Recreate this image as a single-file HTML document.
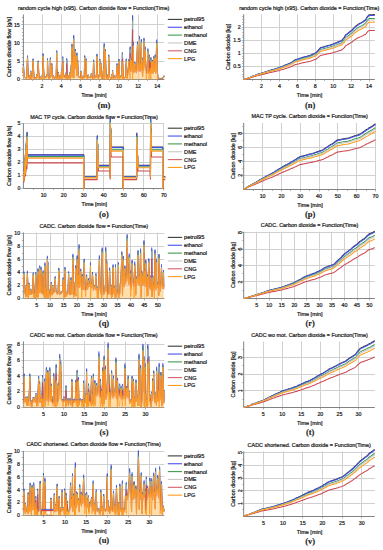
<!DOCTYPE html>
<html><head><meta charset="utf-8"><style>
html,body{margin:0;padding:0;background:#fff;width:383px;height:550px;overflow:hidden}
svg{display:block}
</style></head><body>
<svg width="383" height="550" viewBox="0 0 383 550"><path d="M42.50 14.50V79.50 M61.50 14.50V79.50 M80.50 14.50V79.50 M99.50 14.50V79.50 M118.50 14.50V79.50 M138.50 14.50V79.50 M157.50 14.50V79.50 M23.40 61.50H164.30 M23.40 42.50H164.30 M23.40 24.50H164.30" stroke="#d0d0d0" stroke-width="1" fill="none"/>
<path d="M32.50 79.50v1.5 M51.50 79.50v1.5 M70.50 79.50v1.5 M90.50 79.50v1.5 M109.50 79.50v1.5 M128.50 79.50v1.5 M147.50 79.50v1.5 M42.50 79.50v2 M61.50 79.50v2 M80.50 79.50v2 M99.50 79.50v2 M118.50 79.50v2 M138.50 79.50v2 M157.50 79.50v2 M23.40 75.50h-1.5 M23.40 72.50h-1.5 M23.40 68.50h-1.5 M23.40 64.50h-1.5 M23.40 57.50h-1.5 M23.40 53.50h-1.5 M23.40 50.50h-1.5 M23.40 46.50h-1.5 M23.40 39.50h-1.5 M23.40 35.50h-1.5 M23.40 32.50h-1.5 M23.40 28.50h-1.5 M23.40 21.50h-1.5 M23.40 17.50h-1.5 M23.40 79.50h-2 M23.40 61.50h-2 M23.40 42.50h-2 M23.40 24.50h-2" stroke="#828282" stroke-width="0.6" fill="none"/>
<path d="M23.40 14.50V79.50H164.30" stroke="#828282" stroke-width="1" fill="none"/>
<text x="42.10" y="88.20" font-size="5.3" text-anchor="middle" font-weight="normal" font-family='"Liberation Sans", sans-serif' fill="#1c1c1c" stroke="#1c1c1c" stroke-width="0.22" >2</text>
<text x="61.30" y="88.20" font-size="5.3" text-anchor="middle" font-weight="normal" font-family='"Liberation Sans", sans-serif' fill="#1c1c1c" stroke="#1c1c1c" stroke-width="0.22" >4</text>
<text x="80.50" y="88.20" font-size="5.3" text-anchor="middle" font-weight="normal" font-family='"Liberation Sans", sans-serif' fill="#1c1c1c" stroke="#1c1c1c" stroke-width="0.22" >6</text>
<text x="99.70" y="88.20" font-size="5.3" text-anchor="middle" font-weight="normal" font-family='"Liberation Sans", sans-serif' fill="#1c1c1c" stroke="#1c1c1c" stroke-width="0.22" >8</text>
<text x="118.90" y="88.20" font-size="5.3" text-anchor="middle" font-weight="normal" font-family='"Liberation Sans", sans-serif' fill="#1c1c1c" stroke="#1c1c1c" stroke-width="0.22" >10</text>
<text x="138.10" y="88.20" font-size="5.3" text-anchor="middle" font-weight="normal" font-family='"Liberation Sans", sans-serif' fill="#1c1c1c" stroke="#1c1c1c" stroke-width="0.22" >12</text>
<text x="157.30" y="88.20" font-size="5.3" text-anchor="middle" font-weight="normal" font-family='"Liberation Sans", sans-serif' fill="#1c1c1c" stroke="#1c1c1c" stroke-width="0.22" >14</text>
<text x="19.80" y="81.35" font-size="5.25" text-anchor="end" font-weight="normal" font-family='"Liberation Sans", sans-serif' fill="#1c1c1c" stroke="#1c1c1c" stroke-width="0.22" >0</text>
<text x="19.80" y="63.09" font-size="5.25" text-anchor="end" font-weight="normal" font-family='"Liberation Sans", sans-serif' fill="#1c1c1c" stroke="#1c1c1c" stroke-width="0.22" >5</text>
<text x="19.80" y="44.82" font-size="5.25" text-anchor="end" font-weight="normal" font-family='"Liberation Sans", sans-serif' fill="#1c1c1c" stroke="#1c1c1c" stroke-width="0.22" >10</text>
<text x="19.80" y="26.55" font-size="5.25" text-anchor="end" font-weight="normal" font-family='"Liberation Sans", sans-serif' fill="#1c1c1c" stroke="#1c1c1c" stroke-width="0.22" >15</text>
<text x="93.60" y="9.70" font-size="5.45" text-anchor="middle" font-weight="normal" font-family='"Liberation Sans", sans-serif' fill="#1c1c1c" stroke="#1c1c1c" stroke-width="0.22" >random cycle high (x95). Carbon dioxide flow = Function(Time)</text>
<text x="93.90" y="97.40" font-size="5.5" text-anchor="middle" font-weight="normal" font-family='"Liberation Sans", sans-serif' fill="#1c1c1c" stroke="#1c1c1c" stroke-width="0.22" >Time [min]</text>
<text x="0" y="0" font-size="5.5" text-anchor="middle" font-family='"Liberation Sans", sans-serif' fill="#1c1c1c" stroke="#1c1c1c" stroke-width="0.22" transform="translate(11.40,47.00) rotate(-90)">Carbon dioxide flow [g/s]</text>
<text x="104.00" y="107.50" font-size="8.5" text-anchor="middle" font-weight="bold" font-family='"Liberation Serif", serif' fill="#1c1c1c" stroke="#1c1c1c" stroke-width="0.12" >(m)</text>
<path d="M167.8 19.40H182.1" stroke="#3a3a3a" stroke-width="1.1"/>
<text x="184.10" y="21.40" font-size="5.6" text-anchor="start" font-weight="normal" font-family='"Liberation Sans", sans-serif' fill="#1c1c1c" stroke="#1c1c1c" stroke-width="0.22" >petrol95</text>
<path d="M167.8 27.25H182.1" stroke="#4450f0" stroke-width="1.1"/>
<text x="184.10" y="29.25" font-size="5.6" text-anchor="start" font-weight="normal" font-family='"Liberation Sans", sans-serif' fill="#1c1c1c" stroke="#1c1c1c" stroke-width="0.22" >ethanol</text>
<path d="M167.8 35.10H182.1" stroke="#3f9a50" stroke-width="1.1"/>
<text x="184.10" y="37.10" font-size="5.6" text-anchor="start" font-weight="normal" font-family='"Liberation Sans", sans-serif' fill="#1c1c1c" stroke="#1c1c1c" stroke-width="0.22" >methanol</text>
<path d="M167.8 42.95H182.1" stroke="#c8c8c8" stroke-width="1.1"/>
<text x="184.10" y="44.95" font-size="5.6" text-anchor="start" font-weight="normal" font-family='"Liberation Sans", sans-serif' fill="#1c1c1c" stroke="#1c1c1c" stroke-width="0.22" >DME</text>
<path d="M167.8 50.80H182.1" stroke="#d4606a" stroke-width="1.1"/>
<text x="184.10" y="52.80" font-size="5.6" text-anchor="start" font-weight="normal" font-family='"Liberation Sans", sans-serif' fill="#1c1c1c" stroke="#1c1c1c" stroke-width="0.22" >CNG</text>
<path d="M167.8 58.65H182.1" stroke="#ff9c1e" stroke-width="1.1"/>
<text x="184.10" y="60.65" font-size="5.6" text-anchor="start" font-weight="normal" font-family='"Liberation Sans", sans-serif' fill="#1c1c1c" stroke="#1c1c1c" stroke-width="0.22" >LPG</text>
<path d="M261.50 14.30V79.50 M279.50 14.30V79.50 M297.50 14.30V79.50 M315.50 14.30V79.50 M333.50 14.30V79.50 M351.50 14.30V79.50 M369.50 14.30V79.50 M243.70 66.50H374.80 M243.70 53.50H374.80 M243.70 40.50H374.80 M243.70 27.50H374.80" stroke="#d0d0d0" stroke-width="1" fill="none"/>
<path d="M252.50 79.50v1.5 M270.50 79.50v1.5 M288.50 79.50v1.5 M306.50 79.50v1.5 M324.50 79.50v1.5 M342.50 79.50v1.5 M360.50 79.50v1.5 M261.50 79.50v2 M279.50 79.50v2 M297.50 79.50v2 M315.50 79.50v2 M333.50 79.50v2 M351.50 79.50v2 M369.50 79.50v2 M243.70 76.50h-1.5 M243.70 74.50h-1.5 M243.70 71.50h-1.5 M243.70 69.50h-1.5 M243.70 63.50h-1.5 M243.70 61.50h-1.5 M243.70 58.50h-1.5 M243.70 56.50h-1.5 M243.70 50.50h-1.5 M243.70 48.50h-1.5 M243.70 45.50h-1.5 M243.70 42.50h-1.5 M243.70 37.50h-1.5 M243.70 35.50h-1.5 M243.70 32.50h-1.5 M243.70 29.50h-1.5 M243.70 24.50h-1.5 M243.70 22.50h-1.5 M243.70 19.50h-1.5 M243.70 16.50h-1.5 M243.70 66.50h-2 M243.70 53.50h-2 M243.70 40.50h-2 M243.70 27.50h-2" stroke="#828282" stroke-width="0.6" fill="none"/>
<path d="M243.70 14.30V79.50H374.80" stroke="#828282" stroke-width="1" fill="none"/>
<text x="261.60" y="88.20" font-size="5.3" text-anchor="middle" font-weight="normal" font-family='"Liberation Sans", sans-serif' fill="#1c1c1c" stroke="#1c1c1c" stroke-width="0.22" >2</text>
<text x="279.50" y="88.20" font-size="5.3" text-anchor="middle" font-weight="normal" font-family='"Liberation Sans", sans-serif' fill="#1c1c1c" stroke="#1c1c1c" stroke-width="0.22" >4</text>
<text x="297.40" y="88.20" font-size="5.3" text-anchor="middle" font-weight="normal" font-family='"Liberation Sans", sans-serif' fill="#1c1c1c" stroke="#1c1c1c" stroke-width="0.22" >6</text>
<text x="315.30" y="88.20" font-size="5.3" text-anchor="middle" font-weight="normal" font-family='"Liberation Sans", sans-serif' fill="#1c1c1c" stroke="#1c1c1c" stroke-width="0.22" >8</text>
<text x="333.20" y="88.20" font-size="5.3" text-anchor="middle" font-weight="normal" font-family='"Liberation Sans", sans-serif' fill="#1c1c1c" stroke="#1c1c1c" stroke-width="0.22" >10</text>
<text x="351.10" y="88.20" font-size="5.3" text-anchor="middle" font-weight="normal" font-family='"Liberation Sans", sans-serif' fill="#1c1c1c" stroke="#1c1c1c" stroke-width="0.22" >12</text>
<text x="369.00" y="88.20" font-size="5.3" text-anchor="middle" font-weight="normal" font-family='"Liberation Sans", sans-serif' fill="#1c1c1c" stroke="#1c1c1c" stroke-width="0.22" >14</text>
<text x="240.60" y="68.30" font-size="5.25" text-anchor="end" font-weight="normal" font-family='"Liberation Sans", sans-serif' fill="#1c1c1c" stroke="#1c1c1c" stroke-width="0.22" >0.5</text>
<text x="240.60" y="55.25" font-size="5.25" text-anchor="end" font-weight="normal" font-family='"Liberation Sans", sans-serif' fill="#1c1c1c" stroke="#1c1c1c" stroke-width="0.22" >1</text>
<text x="240.60" y="42.20" font-size="5.25" text-anchor="end" font-weight="normal" font-family='"Liberation Sans", sans-serif' fill="#1c1c1c" stroke="#1c1c1c" stroke-width="0.22" >1.5</text>
<text x="240.60" y="29.15" font-size="5.25" text-anchor="end" font-weight="normal" font-family='"Liberation Sans", sans-serif' fill="#1c1c1c" stroke="#1c1c1c" stroke-width="0.22" >2</text>
<text x="309.25" y="9.50" font-size="5.45" text-anchor="middle" font-weight="normal" font-family='"Liberation Sans", sans-serif' fill="#1c1c1c" stroke="#1c1c1c" stroke-width="0.22" >random cycle high (x95). Carbon dioxide = Function(Time)</text>
<text x="309.55" y="97.40" font-size="5.5" text-anchor="middle" font-weight="normal" font-family='"Liberation Sans", sans-serif' fill="#1c1c1c" stroke="#1c1c1c" stroke-width="0.22" >Time [min]</text>
<text x="0" y="0" font-size="5.35" text-anchor="middle" font-family='"Liberation Sans", sans-serif' fill="#1c1c1c" stroke="#1c1c1c" stroke-width="0.22" transform="translate(229.70,46.90) rotate(-90)">Carbon dioxide [kg]</text>
<text x="310.20" y="107.50" font-size="8.5" text-anchor="middle" font-weight="bold" font-family='"Liberation Serif", serif' fill="#1c1c1c" stroke="#1c1c1c" stroke-width="0.12" >(n)</text>
<path d="M43.50 123.30V188.50 M63.50 123.30V188.50 M83.50 123.30V188.50 M103.50 123.30V188.50 M123.50 123.30V188.50 M143.50 123.30V188.50 M163.50 123.30V188.50 M23.40 175.50H164.30 M23.40 162.50H164.30 M23.40 149.50H164.30 M23.40 136.50H164.30 M23.40 123.50H164.30" stroke="#d0d0d0" stroke-width="1" fill="none"/>
<path d="M33.50 188.50v1.5 M53.50 188.50v1.5 M73.50 188.50v1.5 M93.50 188.50v1.5 M113.50 188.50v1.5 M133.50 188.50v1.5 M153.50 188.50v1.5 M43.50 188.50v2 M63.50 188.50v2 M83.50 188.50v2 M103.50 188.50v2 M123.50 188.50v2 M143.50 188.50v2 M163.50 188.50v2 M23.40 188.50h-2 M23.40 175.50h-2 M23.40 162.50h-2 M23.40 149.50h-2 M23.40 136.50h-2 M23.40 123.50h-2" stroke="#828282" stroke-width="0.6" fill="none"/>
<path d="M23.40 123.30V188.50H164.30" stroke="#828282" stroke-width="1" fill="none"/>
<text x="43.64" y="197.20" font-size="5.3" text-anchor="middle" font-weight="normal" font-family='"Liberation Sans", sans-serif' fill="#1c1c1c" stroke="#1c1c1c" stroke-width="0.22" >10</text>
<text x="63.68" y="197.20" font-size="5.3" text-anchor="middle" font-weight="normal" font-family='"Liberation Sans", sans-serif' fill="#1c1c1c" stroke="#1c1c1c" stroke-width="0.22" >20</text>
<text x="83.72" y="197.20" font-size="5.3" text-anchor="middle" font-weight="normal" font-family='"Liberation Sans", sans-serif' fill="#1c1c1c" stroke="#1c1c1c" stroke-width="0.22" >30</text>
<text x="103.76" y="197.20" font-size="5.3" text-anchor="middle" font-weight="normal" font-family='"Liberation Sans", sans-serif' fill="#1c1c1c" stroke="#1c1c1c" stroke-width="0.22" >40</text>
<text x="123.80" y="197.20" font-size="5.3" text-anchor="middle" font-weight="normal" font-family='"Liberation Sans", sans-serif' fill="#1c1c1c" stroke="#1c1c1c" stroke-width="0.22" >50</text>
<text x="143.84" y="197.20" font-size="5.3" text-anchor="middle" font-weight="normal" font-family='"Liberation Sans", sans-serif' fill="#1c1c1c" stroke="#1c1c1c" stroke-width="0.22" >60</text>
<text x="163.88" y="197.20" font-size="5.3" text-anchor="middle" font-weight="normal" font-family='"Liberation Sans", sans-serif' fill="#1c1c1c" stroke="#1c1c1c" stroke-width="0.22" >70</text>
<text x="20.50" y="190.35" font-size="5.25" text-anchor="end" font-weight="normal" font-family='"Liberation Sans", sans-serif' fill="#1c1c1c" stroke="#1c1c1c" stroke-width="0.22" >0</text>
<text x="20.50" y="177.33" font-size="5.25" text-anchor="end" font-weight="normal" font-family='"Liberation Sans", sans-serif' fill="#1c1c1c" stroke="#1c1c1c" stroke-width="0.22" >1</text>
<text x="20.50" y="164.31" font-size="5.25" text-anchor="end" font-weight="normal" font-family='"Liberation Sans", sans-serif' fill="#1c1c1c" stroke="#1c1c1c" stroke-width="0.22" >2</text>
<text x="20.50" y="151.29" font-size="5.25" text-anchor="end" font-weight="normal" font-family='"Liberation Sans", sans-serif' fill="#1c1c1c" stroke="#1c1c1c" stroke-width="0.22" >3</text>
<text x="20.50" y="138.27" font-size="5.25" text-anchor="end" font-weight="normal" font-family='"Liberation Sans", sans-serif' fill="#1c1c1c" stroke="#1c1c1c" stroke-width="0.22" >4</text>
<text x="20.50" y="125.25" font-size="5.25" text-anchor="end" font-weight="normal" font-family='"Liberation Sans", sans-serif' fill="#1c1c1c" stroke="#1c1c1c" stroke-width="0.22" >5</text>
<text x="93.95" y="118.50" font-size="5.45" text-anchor="middle" font-weight="normal" font-family='"Liberation Sans", sans-serif' fill="#1c1c1c" stroke="#1c1c1c" stroke-width="0.22" >MAC TP cycle. Carbon dioxide flow = Function(Time)</text>
<text x="94.25" y="206.40" font-size="5.5" text-anchor="middle" font-weight="normal" font-family='"Liberation Sans", sans-serif' fill="#1c1c1c" stroke="#1c1c1c" stroke-width="0.22" >Time [min]</text>
<text x="0" y="0" font-size="5.5" text-anchor="middle" font-family='"Liberation Sans", sans-serif' fill="#1c1c1c" stroke="#1c1c1c" stroke-width="0.22" transform="translate(11.40,155.90) rotate(-90)">Carbon dioxide flow [g/s]</text>
<text x="104.00" y="216.50" font-size="8.5" text-anchor="middle" font-weight="bold" font-family='"Liberation Serif", serif' fill="#1c1c1c" stroke="#1c1c1c" stroke-width="0.12" >(o)</text>
<path d="M167.8 128.20H182.1" stroke="#3a3a3a" stroke-width="1.1"/>
<text x="184.10" y="130.20" font-size="5.6" text-anchor="start" font-weight="normal" font-family='"Liberation Sans", sans-serif' fill="#1c1c1c" stroke="#1c1c1c" stroke-width="0.22" >petrol95</text>
<path d="M167.8 136.05H182.1" stroke="#4450f0" stroke-width="1.1"/>
<text x="184.10" y="138.05" font-size="5.6" text-anchor="start" font-weight="normal" font-family='"Liberation Sans", sans-serif' fill="#1c1c1c" stroke="#1c1c1c" stroke-width="0.22" >ethanol</text>
<path d="M167.8 143.90H182.1" stroke="#3f9a50" stroke-width="1.1"/>
<text x="184.10" y="145.90" font-size="5.6" text-anchor="start" font-weight="normal" font-family='"Liberation Sans", sans-serif' fill="#1c1c1c" stroke="#1c1c1c" stroke-width="0.22" >methanol</text>
<path d="M167.8 151.75H182.1" stroke="#c8c8c8" stroke-width="1.1"/>
<text x="184.10" y="153.75" font-size="5.6" text-anchor="start" font-weight="normal" font-family='"Liberation Sans", sans-serif' fill="#1c1c1c" stroke="#1c1c1c" stroke-width="0.22" >DME</text>
<path d="M167.8 159.60H182.1" stroke="#d4606a" stroke-width="1.1"/>
<text x="184.10" y="161.60" font-size="5.6" text-anchor="start" font-weight="normal" font-family='"Liberation Sans", sans-serif' fill="#1c1c1c" stroke="#1c1c1c" stroke-width="0.22" >CNG</text>
<path d="M167.8 167.45H182.1" stroke="#ff9c1e" stroke-width="1.1"/>
<text x="184.10" y="169.45" font-size="5.6" text-anchor="start" font-weight="normal" font-family='"Liberation Sans", sans-serif' fill="#1c1c1c" stroke="#1c1c1c" stroke-width="0.22" >LPG</text>
<path d="M262.50 122.90V189.50 M281.50 122.90V189.50 M300.50 122.90V189.50 M319.50 122.90V189.50 M337.50 122.90V189.50 M356.50 122.90V189.50 M375.50 122.90V189.50 M243.70 175.50H375.60 M243.70 161.50H375.60 M243.70 147.50H375.60 M243.70 133.50H375.60" stroke="#d0d0d0" stroke-width="1" fill="none"/>
<path d="M253.50 189.50v1.5 M272.50 189.50v1.5 M290.50 189.50v1.5 M309.50 189.50v1.5 M328.50 189.50v1.5 M347.50 189.50v1.5 M366.50 189.50v1.5 M262.50 189.50v2 M281.50 189.50v2 M300.50 189.50v2 M319.50 189.50v2 M337.50 189.50v2 M356.50 189.50v2 M375.50 189.50v2 M243.70 182.50h-1.5 M243.70 168.50h-1.5 M243.70 154.50h-1.5 M243.70 140.50h-1.5 M243.70 126.50h-1.5 M243.70 175.50h-2 M243.70 161.50h-2 M243.70 147.50h-2 M243.70 133.50h-2" stroke="#828282" stroke-width="0.6" fill="none"/>
<path d="M243.70 122.90V189.50H375.60" stroke="#828282" stroke-width="1" fill="none"/>
<text x="262.60" y="198.00" font-size="5.3" text-anchor="middle" font-weight="normal" font-family='"Liberation Sans", sans-serif' fill="#1c1c1c" stroke="#1c1c1c" stroke-width="0.22" >10</text>
<text x="281.40" y="198.00" font-size="5.3" text-anchor="middle" font-weight="normal" font-family='"Liberation Sans", sans-serif' fill="#1c1c1c" stroke="#1c1c1c" stroke-width="0.22" >20</text>
<text x="300.20" y="198.00" font-size="5.3" text-anchor="middle" font-weight="normal" font-family='"Liberation Sans", sans-serif' fill="#1c1c1c" stroke="#1c1c1c" stroke-width="0.22" >30</text>
<text x="319.00" y="198.00" font-size="5.3" text-anchor="middle" font-weight="normal" font-family='"Liberation Sans", sans-serif' fill="#1c1c1c" stroke="#1c1c1c" stroke-width="0.22" >40</text>
<text x="337.80" y="198.00" font-size="5.3" text-anchor="middle" font-weight="normal" font-family='"Liberation Sans", sans-serif' fill="#1c1c1c" stroke="#1c1c1c" stroke-width="0.22" >50</text>
<text x="356.60" y="198.00" font-size="5.3" text-anchor="middle" font-weight="normal" font-family='"Liberation Sans", sans-serif' fill="#1c1c1c" stroke="#1c1c1c" stroke-width="0.22" >60</text>
<text x="375.40" y="198.00" font-size="5.3" text-anchor="middle" font-weight="normal" font-family='"Liberation Sans", sans-serif' fill="#1c1c1c" stroke="#1c1c1c" stroke-width="0.22" >70</text>
<text x="0" y="0" font-size="5.15" text-anchor="middle" font-family='"Liberation Sans", sans-serif' fill="#1c1c1c" stroke="#1c1c1c" stroke-width="0.22" transform="translate(241.60,175.28) rotate(-90)">2</text>
<text x="0" y="0" font-size="5.15" text-anchor="middle" font-family='"Liberation Sans", sans-serif' fill="#1c1c1c" stroke="#1c1c1c" stroke-width="0.22" transform="translate(241.60,161.26) rotate(-90)">4</text>
<text x="0" y="0" font-size="5.15" text-anchor="middle" font-family='"Liberation Sans", sans-serif' fill="#1c1c1c" stroke="#1c1c1c" stroke-width="0.22" transform="translate(241.60,147.24) rotate(-90)">6</text>
<text x="0" y="0" font-size="5.15" text-anchor="middle" font-family='"Liberation Sans", sans-serif' fill="#1c1c1c" stroke="#1c1c1c" stroke-width="0.22" transform="translate(241.60,133.22) rotate(-90)">8</text>
<text x="309.70" y="118.10" font-size="5.45" text-anchor="middle" font-weight="normal" font-family='"Liberation Sans", sans-serif' fill="#1c1c1c" stroke="#1c1c1c" stroke-width="0.22" >MAC TP cycle. Carbon dioxide = Function(Time)</text>
<text x="310.00" y="207.20" font-size="5.5" text-anchor="middle" font-weight="normal" font-family='"Liberation Sans", sans-serif' fill="#1c1c1c" stroke="#1c1c1c" stroke-width="0.22" >Time [min]</text>
<text x="0" y="0" font-size="5.35" text-anchor="middle" font-family='"Liberation Sans", sans-serif' fill="#1c1c1c" stroke="#1c1c1c" stroke-width="0.22" transform="translate(235.00,156.10) rotate(-90)">Carbon dioxide [kg]</text>
<text x="310.20" y="217.30" font-size="8.5" text-anchor="middle" font-weight="bold" font-family='"Liberation Serif", serif' fill="#1c1c1c" stroke="#1c1c1c" stroke-width="0.12" >(p)</text>
<path d="M36.50 232.50V298.50 M50.50 232.50V298.50 M63.50 232.50V298.50 M77.50 232.50V298.50 M90.50 232.50V298.50 M103.50 232.50V298.50 M117.50 232.50V298.50 M130.50 232.50V298.50 M144.50 232.50V298.50 M157.50 232.50V298.50 M23.40 285.50H164.30 M23.40 272.50H164.30 M23.40 259.50H164.30 M23.40 246.50H164.30 M23.40 233.50H164.30" stroke="#d0d0d0" stroke-width="1" fill="none"/>
<path d="M36.50 298.50v2 M50.50 298.50v2 M63.50 298.50v2 M77.50 298.50v2 M90.50 298.50v2 M103.50 298.50v2 M117.50 298.50v2 M130.50 298.50v2 M144.50 298.50v2 M157.50 298.50v2 M23.40 291.50h-1.5 M23.40 278.50h-1.5 M23.40 266.50h-1.5 M23.40 253.50h-1.5 M23.40 240.50h-1.5 M23.40 298.50h-2 M23.40 285.50h-2 M23.40 272.50h-2 M23.40 259.50h-2 M23.40 246.50h-2 M23.40 233.50h-2" stroke="#828282" stroke-width="0.6" fill="none"/>
<path d="M23.40 232.50V298.50H164.30" stroke="#828282" stroke-width="1" fill="none"/>
<text x="36.66" y="307.10" font-size="5.3" text-anchor="middle" font-weight="normal" font-family='"Liberation Sans", sans-serif' fill="#1c1c1c" stroke="#1c1c1c" stroke-width="0.22" >5</text>
<text x="50.13" y="307.10" font-size="5.3" text-anchor="middle" font-weight="normal" font-family='"Liberation Sans", sans-serif' fill="#1c1c1c" stroke="#1c1c1c" stroke-width="0.22" >10</text>
<text x="63.59" y="307.10" font-size="5.3" text-anchor="middle" font-weight="normal" font-family='"Liberation Sans", sans-serif' fill="#1c1c1c" stroke="#1c1c1c" stroke-width="0.22" >15</text>
<text x="77.06" y="307.10" font-size="5.3" text-anchor="middle" font-weight="normal" font-family='"Liberation Sans", sans-serif' fill="#1c1c1c" stroke="#1c1c1c" stroke-width="0.22" >20</text>
<text x="90.53" y="307.10" font-size="5.3" text-anchor="middle" font-weight="normal" font-family='"Liberation Sans", sans-serif' fill="#1c1c1c" stroke="#1c1c1c" stroke-width="0.22" >25</text>
<text x="103.99" y="307.10" font-size="5.3" text-anchor="middle" font-weight="normal" font-family='"Liberation Sans", sans-serif' fill="#1c1c1c" stroke="#1c1c1c" stroke-width="0.22" >30</text>
<text x="117.45" y="307.10" font-size="5.3" text-anchor="middle" font-weight="normal" font-family='"Liberation Sans", sans-serif' fill="#1c1c1c" stroke="#1c1c1c" stroke-width="0.22" >35</text>
<text x="130.92" y="307.10" font-size="5.3" text-anchor="middle" font-weight="normal" font-family='"Liberation Sans", sans-serif' fill="#1c1c1c" stroke="#1c1c1c" stroke-width="0.22" >40</text>
<text x="144.38" y="307.10" font-size="5.3" text-anchor="middle" font-weight="normal" font-family='"Liberation Sans", sans-serif' fill="#1c1c1c" stroke="#1c1c1c" stroke-width="0.22" >45</text>
<text x="157.85" y="307.10" font-size="5.3" text-anchor="middle" font-weight="normal" font-family='"Liberation Sans", sans-serif' fill="#1c1c1c" stroke="#1c1c1c" stroke-width="0.22" >50</text>
<text x="20.10" y="300.25" font-size="5.25" text-anchor="end" font-weight="normal" font-family='"Liberation Sans", sans-serif' fill="#1c1c1c" stroke="#1c1c1c" stroke-width="0.22" >0</text>
<text x="20.10" y="287.29" font-size="5.25" text-anchor="end" font-weight="normal" font-family='"Liberation Sans", sans-serif' fill="#1c1c1c" stroke="#1c1c1c" stroke-width="0.22" >2</text>
<text x="20.10" y="274.33" font-size="5.25" text-anchor="end" font-weight="normal" font-family='"Liberation Sans", sans-serif' fill="#1c1c1c" stroke="#1c1c1c" stroke-width="0.22" >4</text>
<text x="20.10" y="261.37" font-size="5.25" text-anchor="end" font-weight="normal" font-family='"Liberation Sans", sans-serif' fill="#1c1c1c" stroke="#1c1c1c" stroke-width="0.22" >6</text>
<text x="20.10" y="248.41" font-size="5.25" text-anchor="end" font-weight="normal" font-family='"Liberation Sans", sans-serif' fill="#1c1c1c" stroke="#1c1c1c" stroke-width="0.22" >8</text>
<text x="20.10" y="235.45" font-size="5.25" text-anchor="end" font-weight="normal" font-family='"Liberation Sans", sans-serif' fill="#1c1c1c" stroke="#1c1c1c" stroke-width="0.22" >10</text>
<text x="93.75" y="227.70" font-size="5.45" text-anchor="middle" font-weight="normal" font-family='"Liberation Sans", sans-serif' fill="#1c1c1c" stroke="#1c1c1c" stroke-width="0.22" >CADC. Carbon dioxide flow = Function(Time)</text>
<text x="94.05" y="316.30" font-size="5.5" text-anchor="middle" font-weight="normal" font-family='"Liberation Sans", sans-serif' fill="#1c1c1c" stroke="#1c1c1c" stroke-width="0.22" >Time [min]</text>
<text x="0" y="0" font-size="5.5" text-anchor="middle" font-family='"Liberation Sans", sans-serif' fill="#1c1c1c" stroke="#1c1c1c" stroke-width="0.22" transform="translate(11.40,265.45) rotate(-90)">Carbon dioxide flow [g/s]</text>
<text x="104.00" y="326.40" font-size="8.5" text-anchor="middle" font-weight="bold" font-family='"Liberation Serif", serif' fill="#1c1c1c" stroke="#1c1c1c" stroke-width="0.12" >(q)</text>
<path d="M167.8 237.40H182.1" stroke="#3a3a3a" stroke-width="1.1"/>
<text x="184.10" y="239.40" font-size="5.6" text-anchor="start" font-weight="normal" font-family='"Liberation Sans", sans-serif' fill="#1c1c1c" stroke="#1c1c1c" stroke-width="0.22" >petrol95</text>
<path d="M167.8 245.25H182.1" stroke="#4450f0" stroke-width="1.1"/>
<text x="184.10" y="247.25" font-size="5.6" text-anchor="start" font-weight="normal" font-family='"Liberation Sans", sans-serif' fill="#1c1c1c" stroke="#1c1c1c" stroke-width="0.22" >ethanol</text>
<path d="M167.8 253.10H182.1" stroke="#3f9a50" stroke-width="1.1"/>
<text x="184.10" y="255.10" font-size="5.6" text-anchor="start" font-weight="normal" font-family='"Liberation Sans", sans-serif' fill="#1c1c1c" stroke="#1c1c1c" stroke-width="0.22" >methanol</text>
<path d="M167.8 260.95H182.1" stroke="#c8c8c8" stroke-width="1.1"/>
<text x="184.10" y="262.95" font-size="5.6" text-anchor="start" font-weight="normal" font-family='"Liberation Sans", sans-serif' fill="#1c1c1c" stroke="#1c1c1c" stroke-width="0.22" >DME</text>
<path d="M167.8 268.80H182.1" stroke="#d4606a" stroke-width="1.1"/>
<text x="184.10" y="270.80" font-size="5.6" text-anchor="start" font-weight="normal" font-family='"Liberation Sans", sans-serif' fill="#1c1c1c" stroke="#1c1c1c" stroke-width="0.22" >CNG</text>
<path d="M167.8 276.65H182.1" stroke="#ff9c1e" stroke-width="1.1"/>
<text x="184.10" y="278.65" font-size="5.6" text-anchor="start" font-weight="normal" font-family='"Liberation Sans", sans-serif' fill="#1c1c1c" stroke="#1c1c1c" stroke-width="0.22" >LPG</text>
<path d="M256.50 231.70V298.50 M269.50 231.70V298.50 M281.50 231.70V298.50 M294.50 231.70V298.50 M306.50 231.70V298.50 M319.50 231.70V298.50 M331.50 231.70V298.50 M344.50 231.70V298.50 M357.50 231.70V298.50 M369.50 231.70V298.50 M243.70 281.50H374.80 M243.70 265.50H374.80 M243.70 249.50H374.80 M243.70 232.50H374.80" stroke="#d0d0d0" stroke-width="1" fill="none"/>
<path d="M256.50 298.50v2 M269.50 298.50v2 M281.50 298.50v2 M294.50 298.50v2 M306.50 298.50v2 M319.50 298.50v2 M331.50 298.50v2 M344.50 298.50v2 M357.50 298.50v2 M369.50 298.50v2 M243.70 290.50h-1.5 M243.70 273.50h-1.5 M243.70 257.50h-1.5 M243.70 240.50h-1.5 M243.70 281.50h-2 M243.70 265.50h-2 M243.70 249.50h-2 M243.70 232.50h-2" stroke="#828282" stroke-width="0.6" fill="none"/>
<path d="M243.70 231.70V298.50H374.80" stroke="#828282" stroke-width="1" fill="none"/>
<text x="256.74" y="307.10" font-size="5.3" text-anchor="middle" font-weight="normal" font-family='"Liberation Sans", sans-serif' fill="#1c1c1c" stroke="#1c1c1c" stroke-width="0.22" >5</text>
<text x="269.27" y="307.10" font-size="5.3" text-anchor="middle" font-weight="normal" font-family='"Liberation Sans", sans-serif' fill="#1c1c1c" stroke="#1c1c1c" stroke-width="0.22" >10</text>
<text x="281.81" y="307.10" font-size="5.3" text-anchor="middle" font-weight="normal" font-family='"Liberation Sans", sans-serif' fill="#1c1c1c" stroke="#1c1c1c" stroke-width="0.22" >15</text>
<text x="294.34" y="307.10" font-size="5.3" text-anchor="middle" font-weight="normal" font-family='"Liberation Sans", sans-serif' fill="#1c1c1c" stroke="#1c1c1c" stroke-width="0.22" >20</text>
<text x="306.88" y="307.10" font-size="5.3" text-anchor="middle" font-weight="normal" font-family='"Liberation Sans", sans-serif' fill="#1c1c1c" stroke="#1c1c1c" stroke-width="0.22" >25</text>
<text x="319.41" y="307.10" font-size="5.3" text-anchor="middle" font-weight="normal" font-family='"Liberation Sans", sans-serif' fill="#1c1c1c" stroke="#1c1c1c" stroke-width="0.22" >30</text>
<text x="331.94" y="307.10" font-size="5.3" text-anchor="middle" font-weight="normal" font-family='"Liberation Sans", sans-serif' fill="#1c1c1c" stroke="#1c1c1c" stroke-width="0.22" >35</text>
<text x="344.48" y="307.10" font-size="5.3" text-anchor="middle" font-weight="normal" font-family='"Liberation Sans", sans-serif' fill="#1c1c1c" stroke="#1c1c1c" stroke-width="0.22" >40</text>
<text x="357.01" y="307.10" font-size="5.3" text-anchor="middle" font-weight="normal" font-family='"Liberation Sans", sans-serif' fill="#1c1c1c" stroke="#1c1c1c" stroke-width="0.22" >45</text>
<text x="369.55" y="307.10" font-size="5.3" text-anchor="middle" font-weight="normal" font-family='"Liberation Sans", sans-serif' fill="#1c1c1c" stroke="#1c1c1c" stroke-width="0.22" >50</text>
<text x="0" y="0" font-size="5.15" text-anchor="middle" font-family='"Liberation Sans", sans-serif' fill="#1c1c1c" stroke="#1c1c1c" stroke-width="0.22" transform="translate(242.00,281.96) rotate(-90)">2</text>
<text x="0" y="0" font-size="5.15" text-anchor="middle" font-family='"Liberation Sans", sans-serif' fill="#1c1c1c" stroke="#1c1c1c" stroke-width="0.22" transform="translate(242.00,265.52) rotate(-90)">4</text>
<text x="0" y="0" font-size="5.15" text-anchor="middle" font-family='"Liberation Sans", sans-serif' fill="#1c1c1c" stroke="#1c1c1c" stroke-width="0.22" transform="translate(242.00,249.08) rotate(-90)">6</text>
<text x="0" y="0" font-size="5.15" text-anchor="middle" font-family='"Liberation Sans", sans-serif' fill="#1c1c1c" stroke="#1c1c1c" stroke-width="0.22" transform="translate(242.00,232.64) rotate(-90)">8</text>
<text x="309.50" y="226.90" font-size="5.45" text-anchor="middle" font-weight="normal" font-family='"Liberation Sans", sans-serif' fill="#1c1c1c" stroke="#1c1c1c" stroke-width="0.22" >CADC. Carbon dioxide = Function(Time)</text>
<text x="309.80" y="316.30" font-size="5.5" text-anchor="middle" font-weight="normal" font-family='"Liberation Sans", sans-serif' fill="#1c1c1c" stroke="#1c1c1c" stroke-width="0.22" >Time [min]</text>
<text x="0" y="0" font-size="5.35" text-anchor="middle" font-family='"Liberation Sans", sans-serif' fill="#1c1c1c" stroke="#1c1c1c" stroke-width="0.22" transform="translate(235.00,265.05) rotate(-90)">Carbon dioxide [kg]</text>
<text x="310.20" y="326.40" font-size="8.5" text-anchor="middle" font-weight="bold" font-family='"Liberation Serif", serif' fill="#1c1c1c" stroke="#1c1c1c" stroke-width="0.12" >(r)</text>
<path d="M43.50 341.30V407.50 M63.50 341.30V407.50 M84.50 341.30V407.50 M104.50 341.30V407.50 M125.50 341.30V407.50 M145.50 341.30V407.50 M23.40 391.50H164.30 M23.40 375.50H164.30 M23.40 360.50H164.30 M23.40 344.50H164.30" stroke="#d0d0d0" stroke-width="1" fill="none"/>
<path d="M43.50 407.50v2 M63.50 407.50v2 M84.50 407.50v2 M104.50 407.50v2 M125.50 407.50v2 M145.50 407.50v2 M23.40 399.50h-1.5 M23.40 383.50h-1.5 M23.40 367.50h-1.5 M23.40 352.50h-1.5 M23.40 407.50h-2 M23.40 391.50h-2 M23.40 375.50h-2 M23.40 360.50h-2 M23.40 344.50h-2" stroke="#828282" stroke-width="0.6" fill="none"/>
<path d="M23.40 341.30V407.50H164.30" stroke="#828282" stroke-width="1" fill="none"/>
<text x="43.50" y="416.10" font-size="5.3" text-anchor="middle" font-weight="normal" font-family='"Liberation Sans", sans-serif' fill="#1c1c1c" stroke="#1c1c1c" stroke-width="0.22" >5</text>
<text x="63.90" y="416.10" font-size="5.3" text-anchor="middle" font-weight="normal" font-family='"Liberation Sans", sans-serif' fill="#1c1c1c" stroke="#1c1c1c" stroke-width="0.22" >10</text>
<text x="84.30" y="416.10" font-size="5.3" text-anchor="middle" font-weight="normal" font-family='"Liberation Sans", sans-serif' fill="#1c1c1c" stroke="#1c1c1c" stroke-width="0.22" >15</text>
<text x="104.70" y="416.10" font-size="5.3" text-anchor="middle" font-weight="normal" font-family='"Liberation Sans", sans-serif' fill="#1c1c1c" stroke="#1c1c1c" stroke-width="0.22" >20</text>
<text x="125.10" y="416.10" font-size="5.3" text-anchor="middle" font-weight="normal" font-family='"Liberation Sans", sans-serif' fill="#1c1c1c" stroke="#1c1c1c" stroke-width="0.22" >25</text>
<text x="145.50" y="416.10" font-size="5.3" text-anchor="middle" font-weight="normal" font-family='"Liberation Sans", sans-serif' fill="#1c1c1c" stroke="#1c1c1c" stroke-width="0.22" >30</text>
<text x="20.00" y="409.25" font-size="5.25" text-anchor="end" font-weight="normal" font-family='"Liberation Sans", sans-serif' fill="#1c1c1c" stroke="#1c1c1c" stroke-width="0.22" >0</text>
<text x="20.00" y="393.45" font-size="5.25" text-anchor="end" font-weight="normal" font-family='"Liberation Sans", sans-serif' fill="#1c1c1c" stroke="#1c1c1c" stroke-width="0.22" >2</text>
<text x="20.00" y="377.65" font-size="5.25" text-anchor="end" font-weight="normal" font-family='"Liberation Sans", sans-serif' fill="#1c1c1c" stroke="#1c1c1c" stroke-width="0.22" >4</text>
<text x="20.00" y="361.85" font-size="5.25" text-anchor="end" font-weight="normal" font-family='"Liberation Sans", sans-serif' fill="#1c1c1c" stroke="#1c1c1c" stroke-width="0.22" >6</text>
<text x="20.00" y="346.05" font-size="5.25" text-anchor="end" font-weight="normal" font-family='"Liberation Sans", sans-serif' fill="#1c1c1c" stroke="#1c1c1c" stroke-width="0.22" >8</text>
<text x="93.70" y="336.50" font-size="5.45" text-anchor="middle" font-weight="normal" font-family='"Liberation Sans", sans-serif' fill="#1c1c1c" stroke="#1c1c1c" stroke-width="0.22" >CADC wo mot. Carbon dioxide flow = Function(Time)</text>
<text x="94.00" y="425.30" font-size="5.5" text-anchor="middle" font-weight="normal" font-family='"Liberation Sans", sans-serif' fill="#1c1c1c" stroke="#1c1c1c" stroke-width="0.22" >Time [min]</text>
<text x="0" y="0" font-size="5.5" text-anchor="middle" font-family='"Liberation Sans", sans-serif' fill="#1c1c1c" stroke="#1c1c1c" stroke-width="0.22" transform="translate(11.40,374.35) rotate(-90)">Carbon dioxide flow [g/s]</text>
<text x="104.00" y="435.40" font-size="8.5" text-anchor="middle" font-weight="bold" font-family='"Liberation Serif", serif' fill="#1c1c1c" stroke="#1c1c1c" stroke-width="0.12" >(s)</text>
<path d="M167.8 346.20H182.1" stroke="#3a3a3a" stroke-width="1.1"/>
<text x="184.10" y="348.20" font-size="5.6" text-anchor="start" font-weight="normal" font-family='"Liberation Sans", sans-serif' fill="#1c1c1c" stroke="#1c1c1c" stroke-width="0.22" >petrol95</text>
<path d="M167.8 354.05H182.1" stroke="#4450f0" stroke-width="1.1"/>
<text x="184.10" y="356.05" font-size="5.6" text-anchor="start" font-weight="normal" font-family='"Liberation Sans", sans-serif' fill="#1c1c1c" stroke="#1c1c1c" stroke-width="0.22" >ethanol</text>
<path d="M167.8 361.90H182.1" stroke="#3f9a50" stroke-width="1.1"/>
<text x="184.10" y="363.90" font-size="5.6" text-anchor="start" font-weight="normal" font-family='"Liberation Sans", sans-serif' fill="#1c1c1c" stroke="#1c1c1c" stroke-width="0.22" >methanol</text>
<path d="M167.8 369.75H182.1" stroke="#c8c8c8" stroke-width="1.1"/>
<text x="184.10" y="371.75" font-size="5.6" text-anchor="start" font-weight="normal" font-family='"Liberation Sans", sans-serif' fill="#1c1c1c" stroke="#1c1c1c" stroke-width="0.22" >DME</text>
<path d="M167.8 377.60H182.1" stroke="#d4606a" stroke-width="1.1"/>
<text x="184.10" y="379.60" font-size="5.6" text-anchor="start" font-weight="normal" font-family='"Liberation Sans", sans-serif' fill="#1c1c1c" stroke="#1c1c1c" stroke-width="0.22" >CNG</text>
<path d="M167.8 385.45H182.1" stroke="#ff9c1e" stroke-width="1.1"/>
<text x="184.10" y="387.45" font-size="5.6" text-anchor="start" font-weight="normal" font-family='"Liberation Sans", sans-serif' fill="#1c1c1c" stroke="#1c1c1c" stroke-width="0.22" >LPG</text>
<path d="M263.50 341.50V407.50 M282.50 341.50V407.50 M301.50 341.50V407.50 M320.50 341.50V407.50 M339.50 341.50V407.50 M358.50 341.50V407.50 M243.70 390.50H374.80 M243.70 374.50H374.80 M243.70 357.50H374.80" stroke="#d0d0d0" stroke-width="1" fill="none"/>
<path d="M263.50 407.50v2 M282.50 407.50v2 M301.50 407.50v2 M320.50 407.50v2 M339.50 407.50v2 M358.50 407.50v2 M243.70 399.50h-1.5 M243.70 382.50h-1.5 M243.70 365.50h-1.5 M243.70 349.50h-1.5 M243.70 390.50h-2 M243.70 374.50h-2 M243.70 357.50h-2" stroke="#828282" stroke-width="0.6" fill="none"/>
<path d="M243.70 341.50V407.50H374.80" stroke="#828282" stroke-width="1" fill="none"/>
<text x="263.24" y="416.10" font-size="5.3" text-anchor="middle" font-weight="normal" font-family='"Liberation Sans", sans-serif' fill="#1c1c1c" stroke="#1c1c1c" stroke-width="0.22" >5</text>
<text x="282.28" y="416.10" font-size="5.3" text-anchor="middle" font-weight="normal" font-family='"Liberation Sans", sans-serif' fill="#1c1c1c" stroke="#1c1c1c" stroke-width="0.22" >10</text>
<text x="301.32" y="416.10" font-size="5.3" text-anchor="middle" font-weight="normal" font-family='"Liberation Sans", sans-serif' fill="#1c1c1c" stroke="#1c1c1c" stroke-width="0.22" >15</text>
<text x="320.36" y="416.10" font-size="5.3" text-anchor="middle" font-weight="normal" font-family='"Liberation Sans", sans-serif' fill="#1c1c1c" stroke="#1c1c1c" stroke-width="0.22" >20</text>
<text x="339.40" y="416.10" font-size="5.3" text-anchor="middle" font-weight="normal" font-family='"Liberation Sans", sans-serif' fill="#1c1c1c" stroke="#1c1c1c" stroke-width="0.22" >25</text>
<text x="358.44" y="416.10" font-size="5.3" text-anchor="middle" font-weight="normal" font-family='"Liberation Sans", sans-serif' fill="#1c1c1c" stroke="#1c1c1c" stroke-width="0.22" >30</text>
<text x="0" y="0" font-size="5.15" text-anchor="middle" font-family='"Liberation Sans", sans-serif' fill="#1c1c1c" stroke="#1c1c1c" stroke-width="0.22" transform="translate(242.00,390.80) rotate(-90)">1</text>
<text x="0" y="0" font-size="5.15" text-anchor="middle" font-family='"Liberation Sans", sans-serif' fill="#1c1c1c" stroke="#1c1c1c" stroke-width="0.22" transform="translate(242.00,374.20) rotate(-90)">2</text>
<text x="0" y="0" font-size="5.15" text-anchor="middle" font-family='"Liberation Sans", sans-serif' fill="#1c1c1c" stroke="#1c1c1c" stroke-width="0.22" transform="translate(242.00,357.60) rotate(-90)">3</text>
<text x="309.50" y="336.70" font-size="5.45" text-anchor="middle" font-weight="normal" font-family='"Liberation Sans", sans-serif' fill="#1c1c1c" stroke="#1c1c1c" stroke-width="0.22" >CADC wo mot. Carbon dioxide = Function(Time)</text>
<text x="309.80" y="425.30" font-size="5.5" text-anchor="middle" font-weight="normal" font-family='"Liberation Sans", sans-serif' fill="#1c1c1c" stroke="#1c1c1c" stroke-width="0.22" >Time [min]</text>
<text x="0" y="0" font-size="5.35" text-anchor="middle" font-family='"Liberation Sans", sans-serif' fill="#1c1c1c" stroke="#1c1c1c" stroke-width="0.22" transform="translate(235.00,374.45) rotate(-90)">Carbon dioxide [kg]</text>
<text x="310.20" y="435.40" font-size="8.5" text-anchor="middle" font-weight="bold" font-family='"Liberation Serif", serif' fill="#1c1c1c" stroke="#1c1c1c" stroke-width="0.12" >(t)</text>
<path d="M43.50 451.00V515.50 M65.50 451.00V515.50 M86.50 451.00V515.50 M107.50 451.00V515.50 M128.50 451.00V515.50 M149.50 451.00V515.50 M23.40 502.50H164.30 M23.40 489.50H164.30 M23.40 476.50H164.30 M23.40 464.50H164.30 M23.40 451.50H164.30" stroke="#d0d0d0" stroke-width="1" fill="none"/>
<path d="M43.50 515.50v2 M65.50 515.50v2 M86.50 515.50v2 M107.50 515.50v2 M128.50 515.50v2 M149.50 515.50v2 M23.40 508.50h-1.5 M23.40 496.50h-1.5 M23.40 483.50h-1.5 M23.40 470.50h-1.5 M23.40 457.50h-1.5 M23.40 515.50h-2 M23.40 502.50h-2 M23.40 489.50h-2 M23.40 476.50h-2 M23.40 464.50h-2 M23.40 451.50h-2" stroke="#828282" stroke-width="0.6" fill="none"/>
<path d="M23.40 451.00V515.50H164.30" stroke="#828282" stroke-width="1" fill="none"/>
<text x="43.97" y="524.10" font-size="5.3" text-anchor="middle" font-weight="normal" font-family='"Liberation Sans", sans-serif' fill="#1c1c1c" stroke="#1c1c1c" stroke-width="0.22" >5</text>
<text x="65.05" y="524.10" font-size="5.3" text-anchor="middle" font-weight="normal" font-family='"Liberation Sans", sans-serif' fill="#1c1c1c" stroke="#1c1c1c" stroke-width="0.22" >10</text>
<text x="86.12" y="524.10" font-size="5.3" text-anchor="middle" font-weight="normal" font-family='"Liberation Sans", sans-serif' fill="#1c1c1c" stroke="#1c1c1c" stroke-width="0.22" >15</text>
<text x="107.20" y="524.10" font-size="5.3" text-anchor="middle" font-weight="normal" font-family='"Liberation Sans", sans-serif' fill="#1c1c1c" stroke="#1c1c1c" stroke-width="0.22" >20</text>
<text x="128.28" y="524.10" font-size="5.3" text-anchor="middle" font-weight="normal" font-family='"Liberation Sans", sans-serif' fill="#1c1c1c" stroke="#1c1c1c" stroke-width="0.22" >25</text>
<text x="149.35" y="524.10" font-size="5.3" text-anchor="middle" font-weight="normal" font-family='"Liberation Sans", sans-serif' fill="#1c1c1c" stroke="#1c1c1c" stroke-width="0.22" >30</text>
<text x="19.80" y="517.25" font-size="5.25" text-anchor="end" font-weight="normal" font-family='"Liberation Sans", sans-serif' fill="#1c1c1c" stroke="#1c1c1c" stroke-width="0.22" >0</text>
<text x="19.80" y="504.43" font-size="5.25" text-anchor="end" font-weight="normal" font-family='"Liberation Sans", sans-serif' fill="#1c1c1c" stroke="#1c1c1c" stroke-width="0.22" >2</text>
<text x="19.80" y="491.61" font-size="5.25" text-anchor="end" font-weight="normal" font-family='"Liberation Sans", sans-serif' fill="#1c1c1c" stroke="#1c1c1c" stroke-width="0.22" >4</text>
<text x="19.80" y="478.79" font-size="5.25" text-anchor="end" font-weight="normal" font-family='"Liberation Sans", sans-serif' fill="#1c1c1c" stroke="#1c1c1c" stroke-width="0.22" >6</text>
<text x="19.80" y="465.97" font-size="5.25" text-anchor="end" font-weight="normal" font-family='"Liberation Sans", sans-serif' fill="#1c1c1c" stroke="#1c1c1c" stroke-width="0.22" >8</text>
<text x="19.80" y="453.15" font-size="5.25" text-anchor="end" font-weight="normal" font-family='"Liberation Sans", sans-serif' fill="#1c1c1c" stroke="#1c1c1c" stroke-width="0.22" >10</text>
<text x="93.60" y="446.20" font-size="5.45" text-anchor="middle" font-weight="normal" font-family='"Liberation Sans", sans-serif' fill="#1c1c1c" stroke="#1c1c1c" stroke-width="0.22" >CADC shortened. Carbon dioxide flow = Function(Time)</text>
<text x="93.90" y="533.30" font-size="5.5" text-anchor="middle" font-weight="normal" font-family='"Liberation Sans", sans-serif' fill="#1c1c1c" stroke="#1c1c1c" stroke-width="0.22" >Time [min]</text>
<text x="0" y="0" font-size="5.5" text-anchor="middle" font-family='"Liberation Sans", sans-serif' fill="#1c1c1c" stroke="#1c1c1c" stroke-width="0.22" transform="translate(11.40,483.20) rotate(-90)">Carbon dioxide flow [g/s]</text>
<text x="104.00" y="543.40" font-size="8.5" text-anchor="middle" font-weight="bold" font-family='"Liberation Serif", serif' fill="#1c1c1c" stroke="#1c1c1c" stroke-width="0.12" >(u)</text>
<path d="M167.8 455.90H182.1" stroke="#3a3a3a" stroke-width="1.1"/>
<text x="184.10" y="457.90" font-size="5.6" text-anchor="start" font-weight="normal" font-family='"Liberation Sans", sans-serif' fill="#1c1c1c" stroke="#1c1c1c" stroke-width="0.22" >petrol95</text>
<path d="M167.8 463.75H182.1" stroke="#4450f0" stroke-width="1.1"/>
<text x="184.10" y="465.75" font-size="5.6" text-anchor="start" font-weight="normal" font-family='"Liberation Sans", sans-serif' fill="#1c1c1c" stroke="#1c1c1c" stroke-width="0.22" >ethanol</text>
<path d="M167.8 471.60H182.1" stroke="#3f9a50" stroke-width="1.1"/>
<text x="184.10" y="473.60" font-size="5.6" text-anchor="start" font-weight="normal" font-family='"Liberation Sans", sans-serif' fill="#1c1c1c" stroke="#1c1c1c" stroke-width="0.22" >methanol</text>
<path d="M167.8 479.45H182.1" stroke="#c8c8c8" stroke-width="1.1"/>
<text x="184.10" y="481.45" font-size="5.6" text-anchor="start" font-weight="normal" font-family='"Liberation Sans", sans-serif' fill="#1c1c1c" stroke="#1c1c1c" stroke-width="0.22" >DME</text>
<path d="M167.8 487.30H182.1" stroke="#d4606a" stroke-width="1.1"/>
<text x="184.10" y="489.30" font-size="5.6" text-anchor="start" font-weight="normal" font-family='"Liberation Sans", sans-serif' fill="#1c1c1c" stroke="#1c1c1c" stroke-width="0.22" >CNG</text>
<path d="M167.8 495.15H182.1" stroke="#ff9c1e" stroke-width="1.1"/>
<text x="184.10" y="497.15" font-size="5.6" text-anchor="start" font-weight="normal" font-family='"Liberation Sans", sans-serif' fill="#1c1c1c" stroke="#1c1c1c" stroke-width="0.22" >LPG</text>
<path d="M263.50 451.40V516.50 M283.50 451.40V516.50 M302.50 451.40V516.50 M322.50 451.40V516.50 M342.50 451.40V516.50 M361.50 451.40V516.50 M243.70 503.50H374.80 M243.70 490.50H374.80 M243.70 478.50H374.80 M243.70 465.50H374.80 M243.70 452.50H374.80" stroke="#d0d0d0" stroke-width="1" fill="none"/>
<path d="M263.50 516.50v2 M283.50 516.50v2 M302.50 516.50v2 M322.50 516.50v2 M342.50 516.50v2 M361.50 516.50v2 M243.70 509.50h-1.5 M243.70 497.50h-1.5 M243.70 484.50h-1.5 M243.70 471.50h-1.5 M243.70 459.50h-1.5 M243.70 503.50h-2 M243.70 490.50h-2 M243.70 478.50h-2 M243.70 465.50h-2 M243.70 452.50h-2" stroke="#828282" stroke-width="0.6" fill="none"/>
<path d="M243.70 451.40V516.50H374.80" stroke="#828282" stroke-width="1" fill="none"/>
<text x="263.36" y="525.00" font-size="5.3" text-anchor="middle" font-weight="normal" font-family='"Liberation Sans", sans-serif' fill="#1c1c1c" stroke="#1c1c1c" stroke-width="0.22" >5</text>
<text x="283.02" y="525.00" font-size="5.3" text-anchor="middle" font-weight="normal" font-family='"Liberation Sans", sans-serif' fill="#1c1c1c" stroke="#1c1c1c" stroke-width="0.22" >10</text>
<text x="302.68" y="525.00" font-size="5.3" text-anchor="middle" font-weight="normal" font-family='"Liberation Sans", sans-serif' fill="#1c1c1c" stroke="#1c1c1c" stroke-width="0.22" >15</text>
<text x="322.34" y="525.00" font-size="5.3" text-anchor="middle" font-weight="normal" font-family='"Liberation Sans", sans-serif' fill="#1c1c1c" stroke="#1c1c1c" stroke-width="0.22" >20</text>
<text x="342.00" y="525.00" font-size="5.3" text-anchor="middle" font-weight="normal" font-family='"Liberation Sans", sans-serif' fill="#1c1c1c" stroke="#1c1c1c" stroke-width="0.22" >25</text>
<text x="361.66" y="525.00" font-size="5.3" text-anchor="middle" font-weight="normal" font-family='"Liberation Sans", sans-serif' fill="#1c1c1c" stroke="#1c1c1c" stroke-width="0.22" >30</text>
<text x="0" y="0" font-size="5.15" text-anchor="middle" font-family='"Liberation Sans", sans-serif' fill="#1c1c1c" stroke="#1c1c1c" stroke-width="0.22" transform="translate(241.50,503.58) rotate(-90)">1</text>
<text x="0" y="0" font-size="5.15" text-anchor="middle" font-family='"Liberation Sans", sans-serif' fill="#1c1c1c" stroke="#1c1c1c" stroke-width="0.22" transform="translate(241.50,490.86) rotate(-90)">2</text>
<text x="0" y="0" font-size="5.15" text-anchor="middle" font-family='"Liberation Sans", sans-serif' fill="#1c1c1c" stroke="#1c1c1c" stroke-width="0.22" transform="translate(241.50,478.14) rotate(-90)">3</text>
<text x="0" y="0" font-size="5.15" text-anchor="middle" font-family='"Liberation Sans", sans-serif' fill="#1c1c1c" stroke="#1c1c1c" stroke-width="0.22" transform="translate(241.50,465.42) rotate(-90)">4</text>
<text x="0" y="0" font-size="5.15" text-anchor="middle" font-family='"Liberation Sans", sans-serif' fill="#1c1c1c" stroke="#1c1c1c" stroke-width="0.22" transform="translate(241.50,452.70) rotate(-90)">5</text>
<text x="309.25" y="446.60" font-size="5.45" text-anchor="middle" font-weight="normal" font-family='"Liberation Sans", sans-serif' fill="#1c1c1c" stroke="#1c1c1c" stroke-width="0.22" >CADC shortened. Carbon dioxide = Function(Time)</text>
<text x="309.55" y="534.20" font-size="5.5" text-anchor="middle" font-weight="normal" font-family='"Liberation Sans", sans-serif' fill="#1c1c1c" stroke="#1c1c1c" stroke-width="0.22" >Time [min]</text>
<text x="0" y="0" font-size="5.35" text-anchor="middle" font-family='"Liberation Sans", sans-serif' fill="#1c1c1c" stroke="#1c1c1c" stroke-width="0.22" transform="translate(235.00,483.85) rotate(-90)">Carbon dioxide [kg]</text>
<text x="310.20" y="544.30" font-size="8.5" text-anchor="middle" font-weight="bold" font-family='"Liberation Serif", serif' fill="#1c1c1c" stroke="#1c1c1c" stroke-width="0.12" >(v)</text>
<path d="M23.20 71.57 L23.50 65.27 L23.75 70.55 L24.30 76.15 L24.85 77.27 L25.40 77.64 L25.95 77.19 L26.50 78.86 L27.05 68.99 L27.50 56.31 L27.60 58.98 L28.15 76.09 L28.70 77.54 L29.25 77.81 L29.80 74.94 L30.35 78.98 L30.80 70.98 L30.90 79.32 L31.45 77.33 L32.00 77.95 L32.55 71.27 L33.10 59.14 L33.65 71.42 L34.20 79.21 L34.75 77.74 L35.30 77.84 L35.85 77.29 L36.40 77.92 L36.95 74.00 L37.50 76.88 L38.05 66.35 L38.20 61.22 L38.60 69.61 L39.15 78.85 L39.70 77.73 L40.25 77.54 L40.80 76.74 L41.35 78.88 L41.90 75.64 L42.45 75.83 L43.00 58.57 L43.10 53.95 L43.55 67.96 L44.10 78.87 L44.65 77.36 L45.20 76.83 L45.75 76.84 L46.30 77.79 L46.85 74.30 L47.40 76.17 L47.50 58.79 L47.95 75.15 L48.50 77.11 L49.05 78.99 L49.60 76.77 L50.15 77.60 L50.40 58.22 L50.70 76.81 L51.25 74.50 L51.80 63.65 L52.35 74.42 L52.90 78.08 L53.45 75.64 L54.00 77.14 L54.55 77.71 L55.10 78.08 L55.65 76.02 L56.20 78.79 L56.70 51.30 L56.75 75.17 L57.30 69.12 L57.85 77.41 L58.40 72.65 L58.95 79.03 L59.50 75.53 L60.05 77.69 L60.60 77.73 L61.15 77.27 L61.50 70.37 L61.70 78.80 L62.25 68.92 L62.70 57.31 L62.80 60.78 L63.35 76.71 L63.90 74.75 L64.45 77.53 L65.00 77.72 L65.55 77.80 L66.10 72.72 L66.65 79.32 L66.70 59.13 L67.20 79.07 L67.75 75.18 L68.30 77.97 L68.85 77.74 L69.40 77.87 L69.95 72.39 L70.50 78.81 L71.05 65.87 L71.60 63.89 L72.00 44.51 L72.15 77.04 L72.70 60.93 L73.25 68.87 L73.70 35.68 L73.80 77.76 L74.35 54.63 L74.90 64.89 L75.30 49.44 L75.45 66.50 L76.00 60.05 L76.55 68.03 L76.90 53.24 L77.10 75.34 L77.65 60.12 L78.20 74.56 L78.75 76.27 L79.30 77.58 L79.85 76.92 L80.40 77.61 L80.95 72.63 L81.00 71.06 L81.50 75.75 L82.05 79.25 L82.60 75.89 L83.15 77.47 L83.70 77.71 L84.25 77.79 L84.70 56.14 L84.80 73.33 L85.35 72.38 L85.90 76.81 L86.20 59.20 L86.45 76.74 L87.00 76.98 L87.55 79.00 L88.10 74.79 L88.65 77.55 L89.20 76.88 L89.75 77.60 L90.30 77.72 L90.85 76.68 L91.40 73.23 L91.95 77.50 L92.50 77.70 L93.05 79.25 L93.60 60.02 L94.15 77.17 L94.70 77.74 L95.25 77.80 L95.80 75.79 L96.35 77.59 L96.90 54.36 L97.45 74.60 L98.00 76.66 L98.55 78.07 L99.10 74.80 L99.65 73.16 L99.80 59.26 L100.20 75.97 L100.75 65.54 L100.80 63.10 L101.30 72.75 L101.85 79.21 L102.40 77.71 L102.95 77.82 L103.50 67.40 L104.05 79.23 L104.20 44.33 L104.60 76.34 L105.15 58.08 L105.30 49.94 L105.70 63.02 L106.25 77.74 L106.80 77.74 L107.35 79.08 L107.90 74.49 L108.45 78.98 L108.70 55.24 L109.00 73.35 L109.55 76.45 L110.10 77.06 L110.65 77.74 L111.20 79.32 L111.75 74.58 L112.30 77.62 L112.60 70.50 L112.85 75.93 L113.40 77.73 L113.95 77.89 L114.50 75.74 L115.05 78.12 L115.60 77.62 L116.15 77.34 L116.70 71.29 L117.10 63.81 L117.25 67.08 L117.80 77.48 L118.35 74.37 L118.90 79.03 L119.00 59.26 L119.45 75.27 L120.00 77.27 L120.55 77.86 L121.10 75.47 L121.65 76.41 L122.20 59.67 L122.40 52.86 L122.75 63.49 L123.30 79.17 L123.85 77.20 L124.40 77.77 L124.95 77.70 L125.50 76.45 L126.05 65.53 L126.30 59.32 L126.60 66.63 L127.15 77.90 L127.70 73.96 L128.25 70.30 L128.80 59.34 L129.35 67.06 L129.90 56.06 L130.20 47.05 L130.45 55.61 L131.00 70.01 L131.55 58.80 L132.10 61.12 L132.60 15.86 L132.65 69.57 L133.20 43.01 L133.75 71.65 L134.20 63.21 L134.30 69.57 L134.85 62.30 L135.40 69.86 L135.95 70.00 L136.50 71.35 L137.05 55.25 L137.50 42.31 L137.60 47.11 L138.15 69.06 L138.70 62.24 L139.25 64.25 L139.50 36.89 L139.80 69.78 L140.35 62.62 L140.90 69.06 L141.40 39.85 L141.45 66.25 L142.00 57.62 L142.55 76.39 L143.10 61.87 L143.65 67.91 L144.00 38.70 L144.20 63.50 L144.75 56.03 L145.00 47.25 L145.30 54.34 L145.85 68.47 L146.40 68.11 L146.95 72.29 L147.50 60.62 L147.90 49.52 L148.05 53.80 L148.60 71.41 L149.15 55.00 L149.70 70.62 L150.25 66.63 L150.80 57.93 L151.35 60.06 L151.90 72.48 L152.45 60.08 L153.00 72.12 L153.55 59.70 L153.70 56.71 L154.10 59.93 L154.65 69.67 L155.20 55.03 L155.75 72.14 L156.30 54.12 L156.70 40.76 L156.85 46.72 L157.40 70.89 L157.95 78.45 L158.50 78.44 L159.05 78.43 L159.60 78.42 L160.15 78.43 L160.70 78.42 L161.25 78.42 L161.80 78.44 L162.35 78.43 L162.90 77.33 L163.45 77.36 L164.00 75.58" stroke="#3a3a3a" stroke-width="0.5" fill="none" stroke-linejoin="round"/>
<path d="M23.20 71.48 L23.50 64.69 L23.75 70.22 L24.30 76.08 L24.85 77.23 L25.40 77.59 L25.95 77.12 L26.50 78.85 L27.05 68.95 L27.50 55.55 L27.60 58.65 L28.15 76.01 L28.70 77.45 L29.25 77.74 L29.80 74.80 L30.35 78.98 L30.80 70.76 L30.90 79.32 L31.45 77.30 L32.00 77.89 L32.55 71.06 L33.10 58.56 L33.65 71.03 L34.20 79.20 L34.75 77.68 L35.30 77.77 L35.85 77.23 L36.40 77.88 L36.95 73.93 L37.50 76.82 L38.05 65.62 L38.20 60.62 L38.60 69.46 L39.15 78.82 L39.70 77.67 L40.25 77.49 L40.80 76.61 L41.35 78.86 L41.90 75.56 L42.45 75.82 L43.00 57.84 L43.10 53.44 L43.55 67.57 L44.10 78.85 L44.65 77.33 L45.20 76.79 L45.75 76.79 L46.30 77.72 L46.85 74.04 L47.40 76.15 L47.50 58.46 L47.95 74.99 L48.50 77.07 L49.05 78.99 L49.60 76.73 L50.15 77.53 L50.40 57.52 L50.70 76.69 L51.25 74.32 L51.80 63.37 L52.35 74.34 L52.90 78.06 L53.45 75.60 L54.00 77.08 L54.55 77.69 L55.10 78.07 L55.65 75.92 L56.20 78.78 L56.70 50.42 L56.75 75.10 L57.30 69.07 L57.85 77.36 L58.40 72.33 L58.95 79.01 L59.50 75.52 L60.05 77.66 L60.60 77.66 L61.15 77.23 L61.50 69.91 L61.70 78.77 L62.25 68.69 L62.70 56.49 L62.80 60.34 L63.35 76.69 L63.90 74.74 L64.45 77.47 L65.00 77.70 L65.55 77.73 L66.10 72.57 L66.65 79.32 L66.70 58.20 L67.20 79.06 L67.75 75.14 L68.30 77.91 L68.85 77.65 L69.40 77.84 L69.95 72.38 L70.50 78.81 L71.05 65.52 L71.60 63.40 L72.00 43.79 L72.15 77.00 L72.70 60.25 L73.25 68.39 L73.70 35.15 L73.80 77.73 L74.35 54.04 L74.90 64.55 L75.30 48.97 L75.45 66.29 L76.00 59.98 L76.55 67.72 L76.90 52.69 L77.10 75.32 L77.65 59.90 L78.20 74.45 L78.75 76.26 L79.30 77.53 L79.85 76.85 L80.40 77.58 L80.95 72.55 L81.00 70.83 L81.50 75.64 L82.05 79.24 L82.60 75.73 L83.15 77.45 L83.70 77.66 L84.25 77.75 L84.70 55.38 L84.80 73.18 L85.35 72.06 L85.90 76.78 L86.20 58.49 L86.45 76.66 L87.00 76.87 L87.55 78.99 L88.10 74.59 L88.65 77.49 L89.20 76.77 L89.75 77.57 L90.30 77.67 L90.85 76.64 L91.40 73.14 L91.95 77.48 L92.50 77.65 L93.05 79.25 L93.60 59.74 L94.15 77.16 L94.70 77.67 L95.25 77.77 L95.80 75.73 L96.35 77.57 L96.90 53.89 L97.45 74.54 L98.00 76.63 L98.55 78.03 L99.10 74.74 L99.65 73.05 L99.80 58.93 L100.20 75.89 L100.75 65.32 L100.80 62.67 L101.30 72.50 L101.85 79.20 L102.40 77.66 L102.95 77.77 L103.50 67.42 L104.05 79.22 L104.20 43.14 L104.60 76.32 L105.15 56.95 L105.30 49.14 L105.70 62.43 L106.25 77.70 L106.80 77.65 L107.35 79.06 L107.90 74.41 L108.45 78.97 L108.70 54.55 L109.00 73.05 L109.55 76.42 L110.10 77.01 L110.65 77.69 L111.20 79.32 L111.75 74.42 L112.30 77.55 L112.60 70.29 L112.85 75.85 L113.40 77.70 L113.95 77.85 L114.50 75.61 L115.05 78.09 L115.60 77.60 L116.15 77.28 L116.70 71.03 L117.10 63.45 L117.25 66.82 L117.80 77.44 L118.35 74.29 L118.90 79.02 L119.00 59.10 L119.45 75.11 L120.00 77.22 L120.55 77.83 L121.10 75.45 L121.65 76.31 L122.20 59.46 L122.40 52.48 L122.75 63.46 L123.30 79.16 L123.85 77.14 L124.40 77.71 L124.95 77.69 L125.50 76.32 L126.05 64.86 L126.30 58.58 L126.60 66.26 L127.15 77.82 L127.70 73.79 L128.25 69.92 L128.80 59.22 L129.35 66.81 L129.90 55.90 L130.20 46.60 L130.45 54.85 L131.00 69.66 L131.55 58.40 L132.10 60.46 L132.60 15.14 L132.65 69.41 L133.20 41.41 L133.75 71.41 L134.20 62.92 L134.30 69.28 L134.85 61.93 L135.40 69.70 L135.95 69.68 L136.50 71.27 L137.05 54.22 L137.50 41.36 L137.60 46.75 L138.15 69.00 L138.70 61.74 L139.25 63.61 L139.50 36.10 L139.80 69.62 L140.35 62.39 L140.90 68.90 L141.40 39.06 L141.45 65.89 L142.00 57.61 L142.55 76.26 L143.10 61.46 L143.65 67.60 L144.00 37.90 L144.20 63.11 L144.75 55.70 L145.00 46.42 L145.30 53.29 L145.85 68.00 L146.40 67.66 L146.95 72.09 L147.50 59.87 L147.90 48.46 L148.05 52.73 L148.60 71.23 L149.15 54.67 L149.70 70.35 L150.25 66.48 L150.80 57.17 L151.35 59.32 L151.90 72.28 L152.45 59.91 L153.00 71.94 L153.55 59.59 L153.70 56.45 L154.10 59.81 L154.65 69.51 L155.20 54.55 L155.75 71.97 L156.30 52.91 L156.70 39.57 L156.85 46.68 L157.40 70.47 L157.95 78.39 L158.50 78.39 L159.05 78.42 L159.60 78.41 L160.15 78.40 L160.70 78.40 L161.25 78.39 L161.80 78.40 L162.35 78.41 L162.90 77.34 L163.45 77.29 L164.00 75.42" stroke="#4450f0" stroke-width="0.65" fill="none" stroke-linejoin="round"/>
<path d="M23.20 71.80 L23.50 65.62 L23.75 70.89 L24.30 76.25 L24.85 77.34 L25.40 77.67 L25.95 77.23 L26.50 78.89 L27.05 69.44 L27.50 56.71 L27.60 59.83 L28.15 76.20 L28.70 77.56 L29.25 77.84 L29.80 75.06 L30.35 79.00 L30.80 71.18 L30.90 79.33 L31.45 77.43 L32.00 77.97 L32.55 71.71 L33.10 59.39 L33.65 71.61 L34.20 79.22 L34.75 77.77 L35.30 77.88 L35.85 77.30 L36.40 77.98 L36.95 74.30 L37.50 76.96 L38.05 66.65 L38.20 61.67 L38.60 70.04 L39.15 78.86 L39.70 77.75 L40.25 77.57 L40.80 76.80 L41.35 78.89 L41.90 75.78 L42.45 75.97 L43.00 59.38 L43.10 55.23 L43.55 68.41 L44.10 78.89 L44.65 77.46 L45.20 76.92 L45.75 76.94 L46.30 77.85 L46.85 74.39 L47.40 76.28 L47.50 59.31 L47.95 75.25 L48.50 77.18 L49.05 79.01 L49.60 76.89 L50.15 77.65 L50.40 58.88 L50.70 76.90 L51.25 74.61 L51.80 64.47 L52.35 74.62 L52.90 78.14 L53.45 75.82 L54.00 77.21 L54.55 77.77 L55.10 78.15 L55.65 76.11 L56.20 78.81 L56.70 51.82 L56.75 75.35 L57.30 69.58 L57.85 77.52 L58.40 72.74 L58.95 79.05 L59.50 75.66 L60.05 77.77 L60.60 77.76 L61.15 77.38 L61.50 70.48 L61.70 78.82 L62.25 69.34 L62.70 57.73 L62.80 61.53 L63.35 76.84 L63.90 74.97 L64.45 77.58 L65.00 77.77 L65.55 77.81 L66.10 73.01 L66.65 79.33 L66.70 59.64 L67.20 79.08 L67.75 75.37 L68.30 78.00 L68.85 77.80 L69.40 77.91 L69.95 72.73 L70.50 78.84 L71.05 66.30 L71.60 64.19 L72.00 45.23 L72.15 77.11 L72.70 61.27 L73.25 69.23 L73.70 37.94 L73.80 77.82 L74.35 55.58 L74.90 65.03 L75.30 50.11 L75.45 66.83 L76.00 61.14 L76.55 68.34 L76.90 54.20 L77.10 75.52 L77.65 60.90 L78.20 74.76 L78.75 76.43 L79.30 77.60 L79.85 76.96 L80.40 77.64 L80.95 72.87 L81.00 71.11 L81.50 75.88 L82.05 79.26 L82.60 75.98 L83.15 77.58 L83.70 77.79 L84.25 77.85 L84.70 56.54 L84.80 73.51 L85.35 72.57 L85.90 76.91 L86.20 59.96 L86.45 76.82 L87.00 77.02 L87.55 79.02 L88.10 74.91 L88.65 77.58 L89.20 76.90 L89.75 77.67 L90.30 77.78 L90.85 76.82 L91.40 73.57 L91.95 77.57 L92.50 77.79 L93.05 79.26 L93.60 60.88 L94.15 77.29 L94.70 77.79 L95.25 77.84 L95.80 75.90 L96.35 77.65 L96.90 55.04 L97.45 74.83 L98.00 76.75 L98.55 78.13 L99.10 75.01 L99.65 73.39 L99.80 59.55 L100.20 76.07 L100.75 66.29 L100.80 63.62 L101.30 72.89 L101.85 79.22 L102.40 77.78 L102.95 77.86 L103.50 67.75 L104.05 79.23 L104.20 45.77 L104.60 76.43 L105.15 58.48 L105.30 50.21 L105.70 63.70 L106.25 77.80 L106.80 77.75 L107.35 79.09 L107.90 74.73 L108.45 79.00 L108.70 55.33 L109.00 73.41 L109.55 76.59 L110.10 77.11 L110.65 77.76 L111.20 79.33 L111.75 74.64 L112.30 77.68 L112.60 70.76 L112.85 76.07 L113.40 77.75 L113.95 77.96 L114.50 75.82 L115.05 78.18 L115.60 77.70 L116.15 77.40 L116.70 71.63 L117.10 64.47 L117.25 67.59 L117.80 77.53 L118.35 74.60 L118.90 79.05 L119.00 60.00 L119.45 75.33 L120.00 77.32 L120.55 77.90 L121.10 75.59 L121.65 76.50 L122.20 60.50 L122.40 53.55 L122.75 64.39 L123.30 79.17 L123.85 77.29 L124.40 77.81 L124.95 77.77 L125.50 76.53 L126.05 65.80 L126.30 59.83 L126.60 67.05 L127.15 77.91 L127.70 74.08 L128.25 70.53 L128.80 60.01 L129.35 67.71 L129.90 57.33 L130.20 48.25 L130.45 56.59 L131.00 70.20 L131.55 59.66 L132.10 61.91 L132.60 18.73 L132.65 70.01 L133.20 43.69 L133.75 71.80 L134.20 63.45 L134.30 69.79 L134.85 63.07 L135.40 70.30 L135.95 70.27 L136.50 71.64 L137.05 55.92 L137.50 43.09 L137.60 48.52 L138.15 69.43 L138.70 62.75 L139.25 64.85 L139.50 38.48 L139.80 70.08 L140.35 63.44 L140.90 69.56 L141.40 41.77 L141.45 66.74 L142.00 58.66 L142.55 76.50 L143.10 62.50 L143.65 68.37 L144.00 39.52 L144.20 64.20 L144.75 56.48 L145.00 47.64 L145.30 54.84 L145.85 68.82 L146.40 68.47 L146.95 72.40 L147.50 60.74 L147.90 50.48 L148.05 54.45 L148.60 71.77 L149.15 55.64 L149.70 70.96 L150.25 67.28 L150.80 58.28 L151.35 60.45 L151.90 72.84 L152.45 60.74 L153.00 72.30 L153.55 60.25 L153.70 57.46 L154.10 60.38 L154.65 70.05 L155.20 56.38 L155.75 72.50 L156.30 54.53 L156.70 41.96 L156.85 48.38 L157.40 71.17 L157.95 78.48 L158.50 78.45 L159.05 78.47 L159.60 78.45 L160.15 78.46 L160.70 78.47 L161.25 78.45 L161.80 78.48 L162.35 78.45 L162.90 77.46 L163.45 77.44 L164.00 75.70" stroke="#3f9a50" stroke-width="0.45" fill="none" stroke-linejoin="round"/>
<path d="M23.20 72.20 L23.50 65.95 L23.75 71.18 L24.30 76.28 L24.85 77.44 L25.40 77.74 L25.95 77.34 L26.50 78.90 L27.05 69.73 L27.50 57.40 L27.60 60.37 L28.15 76.31 L28.70 77.65 L29.25 77.91 L29.80 75.18 L30.35 79.02 L30.80 71.33 L30.90 79.33 L31.45 77.47 L32.00 78.04 L32.55 71.94 L33.10 60.24 L33.65 71.76 L34.20 79.22 L34.75 77.80 L35.30 77.93 L35.85 77.38 L36.40 78.02 L36.95 74.43 L37.50 77.07 L38.05 66.84 L38.20 61.86 L38.60 70.14 L39.15 78.87 L39.70 77.82 L40.25 77.63 L40.80 76.86 L41.35 78.91 L41.90 75.85 L42.45 76.05 L43.00 59.65 L43.10 55.67 L43.55 68.67 L44.10 78.90 L44.65 77.48 L45.20 77.01 L45.75 77.00 L46.30 77.86 L46.85 74.51 L47.40 76.42 L47.50 60.12 L47.95 75.36 L48.50 77.29 L49.05 79.02 L49.60 76.90 L50.15 77.70 L50.40 59.37 L50.70 76.94 L51.25 74.68 L51.80 64.63 L52.35 74.68 L52.90 78.18 L53.45 75.89 L54.00 77.28 L54.55 77.83 L55.10 78.16 L55.65 76.24 L56.20 78.83 L56.70 52.42 L56.75 75.49 L57.30 69.95 L57.85 77.56 L58.40 72.93 L58.95 79.05 L59.50 75.75 L60.05 77.81 L60.60 77.84 L61.15 77.45 L61.50 70.63 L61.70 78.83 L62.25 69.61 L62.70 58.21 L62.80 61.54 L63.35 76.88 L63.90 75.11 L64.45 77.59 L65.00 77.81 L65.55 77.89 L66.10 73.11 L66.65 79.33 L66.70 59.96 L67.20 79.09 L67.75 75.48 L68.30 78.05 L68.85 77.82 L69.40 77.97 L69.95 72.78 L70.50 78.87 L71.05 66.68 L71.60 64.54 L72.00 46.12 L72.15 77.17 L72.70 61.82 L73.25 69.50 L73.70 38.63 L73.80 77.89 L74.35 56.33 L74.90 65.34 L75.30 51.06 L75.45 67.07 L76.00 61.68 L76.55 68.69 L76.90 55.11 L77.10 75.60 L77.65 61.14 L78.20 74.95 L78.75 76.49 L79.30 77.67 L79.85 77.02 L80.40 77.70 L80.95 73.05 L81.00 71.41 L81.50 75.93 L82.05 79.27 L82.60 76.04 L83.15 77.61 L83.70 77.84 L84.25 77.89 L84.70 57.59 L84.80 73.65 L85.35 72.75 L85.90 76.96 L86.20 60.20 L86.45 76.88 L87.00 77.07 L87.55 79.04 L88.10 75.05 L88.65 77.66 L89.20 77.03 L89.75 77.73 L90.30 77.82 L90.85 76.90 L91.40 73.59 L91.95 77.61 L92.50 77.84 L93.05 79.27 L93.60 61.59 L94.15 77.30 L94.70 77.80 L95.25 77.92 L95.80 76.06 L96.35 77.72 L96.90 56.09 L97.45 74.97 L98.00 76.88 L98.55 78.16 L99.10 75.16 L99.65 73.58 L99.80 60.31 L100.20 76.19 L100.75 66.62 L100.80 64.17 L101.30 72.99 L101.85 79.23 L102.40 77.82 L102.95 77.92 L103.50 68.28 L104.05 79.24 L104.20 46.71 L104.60 76.57 L105.15 58.93 L105.30 51.05 L105.70 64.10 L106.25 77.84 L106.80 77.80 L107.35 79.10 L107.90 74.75 L108.45 79.01 L108.70 56.56 L109.00 73.57 L109.55 76.68 L110.10 77.24 L110.65 77.83 L111.20 79.33 L111.75 74.78 L112.30 77.72 L112.60 71.02 L112.85 76.14 L113.40 77.84 L113.95 78.01 L114.50 75.94 L115.05 78.23 L115.60 77.72 L116.15 77.44 L116.70 71.86 L117.10 64.81 L117.25 68.02 L117.80 77.61 L118.35 74.73 L118.90 79.07 L119.00 60.82 L119.45 75.51 L120.00 77.38 L120.55 77.97 L121.10 75.68 L121.65 76.57 L122.20 60.72 L122.40 54.02 L122.75 64.62 L123.30 79.19 L123.85 77.35 L124.40 77.83 L124.95 77.80 L125.50 76.58 L126.05 66.16 L126.30 60.57 L126.60 67.58 L127.15 77.95 L127.70 74.15 L128.25 70.76 L128.80 60.46 L129.35 67.70 L129.90 57.53 L130.20 49.04 L130.45 57.04 L131.00 70.60 L131.55 60.04 L132.10 62.19 L132.60 20.88 L132.65 70.36 L133.20 45.31 L133.75 72.10 L134.20 63.87 L134.30 70.02 L134.85 63.45 L135.40 70.44 L135.95 70.51 L136.50 72.00 L137.05 56.67 L137.50 44.43 L137.60 49.62 L138.15 69.67 L138.70 63.41 L139.25 64.90 L139.50 39.40 L139.80 70.47 L140.35 63.73 L140.90 69.59 L141.40 42.07 L141.45 67.03 L142.00 58.95 L142.55 76.60 L143.10 63.00 L143.65 68.65 L144.00 40.29 L144.20 64.42 L144.75 57.55 L145.00 49.05 L145.30 55.39 L145.85 68.97 L146.40 68.58 L146.95 72.61 L147.50 61.28 L147.90 50.82 L148.05 54.95 L148.60 71.98 L149.15 56.71 L149.70 70.95 L150.25 67.70 L150.80 59.14 L151.35 61.10 L151.90 72.83 L152.45 61.44 L153.00 72.57 L153.55 60.77 L153.70 58.10 L154.10 61.20 L154.65 70.26 L155.20 57.04 L155.75 72.51 L156.30 55.11 L156.70 43.08 L156.85 49.36 L157.40 71.40 L157.95 78.50 L158.50 78.48 L159.05 78.50 L159.60 78.50 L160.15 78.50 L160.70 78.49 L161.25 78.48 L161.80 78.49 L162.35 78.48 L162.90 77.48 L163.45 77.49 L164.00 75.76" stroke="#c8c8c8" stroke-width="0.45" fill="none" stroke-linejoin="round"/>
<path d="M23.20 73.30 L23.50 68.29 L23.75 72.47 L24.30 76.85 L24.85 77.76 L25.40 78.05 L25.95 77.70 L26.50 78.99 L27.05 71.43 L27.50 61.15 L27.60 63.64 L28.15 76.86 L28.70 77.97 L29.25 78.17 L29.80 75.90 L30.35 79.10 L30.80 72.69 L30.90 79.36 L31.45 77.80 L32.00 78.28 L32.55 73.13 L33.10 63.19 L33.65 73.00 L34.20 79.27 L34.75 78.08 L35.30 78.20 L35.85 77.75 L36.40 78.26 L36.95 75.27 L37.50 77.49 L38.05 69.04 L38.20 64.89 L38.60 71.87 L39.15 78.99 L39.70 78.10 L40.25 77.93 L40.80 77.29 L41.35 79.00 L41.90 76.46 L42.45 76.60 L43.00 63.07 L43.10 59.59 L43.55 70.48 L44.10 79.01 L44.65 77.85 L45.20 77.41 L45.75 77.39 L46.30 78.16 L46.85 75.39 L47.40 76.92 L47.50 63.32 L47.95 76.02 L48.50 77.64 L49.05 79.10 L49.60 77.36 L50.15 77.97 L50.40 62.77 L50.70 77.37 L51.25 75.58 L51.80 67.18 L52.35 75.44 L52.90 78.40 L53.45 76.49 L54.00 77.65 L54.55 78.09 L55.10 78.39 L55.65 76.73 L56.20 78.94 L56.70 57.18 L56.75 76.15 L57.30 71.43 L57.85 77.87 L58.40 74.02 L58.95 79.12 L59.50 76.41 L60.05 78.08 L60.60 78.08 L61.15 77.74 L61.50 72.26 L61.70 78.94 L62.25 71.22 L62.70 61.70 L62.80 64.91 L63.35 77.32 L63.90 75.80 L64.45 77.92 L65.00 78.08 L65.55 78.13 L66.10 74.20 L66.65 79.36 L66.70 63.47 L67.20 79.16 L67.75 76.12 L68.30 78.28 L68.85 78.11 L69.40 78.22 L69.95 74.03 L70.50 78.96 L71.05 68.60 L71.60 67.20 L72.00 51.57 L72.15 77.55 L72.70 64.88 L73.25 71.19 L73.70 45.01 L73.80 78.15 L74.35 60.15 L74.90 67.87 L75.30 55.70 L75.45 69.10 L76.00 64.37 L76.55 70.40 L76.90 59.22 L77.10 76.24 L77.65 64.48 L78.20 75.68 L78.75 76.95 L79.30 78.00 L79.85 77.44 L80.40 78.00 L80.95 74.01 L81.00 72.67 L81.50 76.56 L82.05 79.30 L82.60 76.58 L83.15 77.92 L83.70 78.11 L84.25 78.13 L84.70 60.92 L84.80 74.65 L85.35 73.86 L85.90 77.40 L86.20 63.53 L86.45 77.32 L87.00 77.52 L87.55 79.11 L88.10 75.72 L88.65 77.95 L89.20 77.39 L89.75 78.03 L90.30 78.11 L90.85 77.34 L91.40 74.55 L91.95 77.96 L92.50 78.10 L93.05 79.31 L93.60 64.24 L94.15 77.67 L94.70 78.10 L95.25 78.15 L95.80 76.59 L96.35 78.00 L96.90 60.12 L97.45 75.63 L98.00 77.31 L98.55 78.37 L99.10 75.85 L99.65 74.58 L99.80 63.53 L100.20 76.69 L100.75 68.81 L100.80 66.71 L101.30 74.05 L101.85 79.27 L102.40 78.10 L102.95 78.16 L103.50 70.01 L104.05 79.29 L104.20 51.64 L104.60 77.06 L105.15 62.26 L105.30 55.89 L105.70 66.42 L106.25 78.12 L106.80 78.08 L107.35 79.17 L107.90 75.53 L108.45 79.09 L108.70 59.92 L109.00 74.66 L109.55 77.16 L110.10 77.59 L110.65 78.08 L111.20 79.36 L111.75 75.57 L112.30 78.03 L112.60 72.48 L112.85 76.71 L113.40 78.08 L113.95 78.24 L114.50 76.55 L115.05 78.44 L115.60 78.05 L116.15 77.77 L116.70 73.05 L117.10 67.26 L117.25 69.75 L117.80 77.93 L118.35 75.49 L118.90 79.13 L119.00 63.98 L119.45 76.18 L120.00 77.75 L120.55 78.23 L121.10 76.36 L121.65 77.08 L122.20 63.98 L122.40 58.77 L122.75 67.04 L123.30 79.24 L123.85 77.68 L124.40 78.13 L124.95 78.09 L125.50 77.11 L126.05 68.31 L126.30 63.66 L126.60 69.43 L127.15 78.22 L127.70 75.09 L128.25 72.20 L128.80 63.79 L129.35 69.83 L129.90 61.12 L130.20 53.62 L130.45 60.69 L131.00 72.00 L131.55 63.09 L132.10 65.12 L132.60 29.71 L132.65 71.79 L133.20 50.69 L133.75 73.36 L134.20 66.58 L134.30 71.70 L134.85 66.06 L135.40 71.99 L135.95 72.01 L136.50 73.22 L137.05 60.04 L137.50 49.97 L137.60 54.16 L138.15 71.37 L138.70 65.75 L139.25 67.49 L139.50 45.97 L139.80 71.92 L140.35 66.29 L140.90 71.34 L141.40 48.37 L141.45 69.09 L142.00 62.55 L142.55 77.06 L143.10 65.64 L143.65 70.40 L144.00 47.07 L144.20 67.12 L144.75 61.06 L145.00 53.66 L145.30 59.38 L145.85 70.68 L146.40 70.41 L146.95 73.75 L147.50 64.54 L147.90 55.96 L148.05 59.04 L148.60 73.21 L149.15 60.13 L149.70 72.50 L150.25 69.53 L150.80 62.23 L151.35 64.38 L151.90 74.02 L152.45 64.45 L153.00 73.67 L153.55 63.92 L153.70 61.28 L154.10 64.06 L154.65 71.83 L155.20 60.53 L155.75 73.74 L156.30 59.17 L156.70 48.45 L156.85 53.67 L157.40 72.57 L157.95 78.67 L158.50 78.67 L159.05 78.65 L159.60 78.67 L160.15 78.65 L160.70 78.67 L161.25 78.66 L161.80 78.67 L162.35 78.67 L162.90 77.83 L163.45 77.80 L164.00 76.40" stroke="#cc4650" stroke-width="0.9" fill="none" stroke-linejoin="round"/>
<path d="M23.20 79.50 L23.20 72.37 L23.50 66.55 L23.75 71.42 L24.30 76.42 L24.85 77.50 L25.40 77.79 L25.95 77.40 L26.50 78.91 L27.05 70.17 L27.50 58.02 L27.60 60.81 L28.15 78.74 L28.70 77.72 L29.25 77.96 L29.80 75.30 L30.35 79.04 L30.80 71.79 L30.90 79.34 L31.45 77.52 L32.00 78.08 L32.55 72.11 L33.10 60.69 L33.65 72.03 L34.20 79.24 L34.75 77.90 L35.30 77.98 L35.85 78.61 L36.40 79.03 L36.95 74.49 L37.50 77.12 L38.05 67.27 L38.20 62.45 L38.60 70.69 L39.15 78.90 L39.70 77.87 L40.25 77.67 L40.80 76.93 L41.35 79.36 L41.90 76.01 L42.45 78.63 L43.00 60.23 L43.10 56.44 L43.55 69.15 L44.10 78.92 L44.65 77.55 L45.20 77.10 L45.75 77.08 L46.30 77.92 L46.85 74.76 L47.40 76.46 L47.50 60.87 L47.95 75.46 L48.50 77.32 L49.05 79.04 L49.60 77.03 L50.15 77.74 L50.40 59.96 L50.70 77.07 L51.25 74.92 L51.80 65.22 L52.35 74.79 L52.90 78.20 L53.45 76.00 L54.00 77.38 L54.55 77.88 L55.10 78.23 L55.65 76.29 L56.20 78.86 L56.70 53.35 L56.75 75.60 L57.30 79.34 L57.85 77.59 L58.40 73.10 L58.95 79.06 L59.50 75.91 L60.05 77.87 L60.60 77.85 L61.15 77.50 L61.50 70.94 L61.70 78.87 L62.25 69.82 L62.70 78.99 L62.80 62.61 L63.35 76.94 L63.90 75.21 L64.45 77.67 L65.00 77.87 L65.55 77.91 L66.10 73.35 L66.65 79.34 L66.70 79.37 L67.20 79.11 L67.75 75.61 L68.30 78.11 L68.85 77.86 L69.40 78.03 L69.95 73.06 L70.50 78.89 L71.05 67.08 L71.60 65.32 L72.00 47.78 L72.15 77.27 L72.70 62.49 L73.25 69.84 L73.70 40.39 L73.80 77.92 L74.35 56.61 L74.90 66.06 L75.30 51.79 L75.45 67.71 L76.00 62.07 L76.55 69.16 L76.90 55.94 L77.10 75.67 L77.65 62.04 L78.20 74.99 L78.75 76.62 L79.30 77.72 L79.85 77.09 L80.40 77.75 L80.95 78.66 L81.00 71.71 L81.50 76.09 L82.05 79.27 L82.60 76.14 L83.15 77.66 L83.70 77.89 L84.25 77.94 L84.70 57.95 L84.80 73.78 L85.35 72.96 L85.90 77.05 L86.20 60.72 L86.45 77.01 L87.00 77.17 L87.55 79.05 L88.10 75.16 L88.65 77.69 L89.20 77.06 L89.75 77.78 L90.30 77.85 L90.85 77.00 L91.40 73.78 L91.95 77.70 L92.50 77.88 L93.05 79.28 L93.60 62.19 L94.15 77.41 L94.70 77.85 L95.25 77.93 L95.80 76.17 L96.35 77.78 L96.90 56.62 L97.45 75.11 L98.00 79.42 L98.55 78.21 L99.10 75.29 L99.65 73.72 L99.80 60.77 L100.20 76.27 L100.75 67.03 L100.80 64.33 L101.30 73.24 L101.85 79.23 L102.40 77.88 L102.95 77.99 L103.50 68.47 L104.05 79.25 L104.20 47.64 L104.60 76.66 L105.15 59.65 L105.30 51.90 L105.70 64.56 L106.25 79.26 L106.80 77.86 L107.35 79.11 L107.90 74.93 L108.45 79.03 L108.70 57.35 L109.00 73.86 L109.55 76.73 L110.10 77.31 L110.65 77.88 L111.20 79.34 L111.75 74.99 L112.30 77.76 L112.60 71.41 L112.85 78.64 L113.40 79.42 L113.95 78.05 L114.50 76.10 L115.05 78.27 L115.60 77.78 L116.15 77.52 L116.70 72.15 L117.10 65.40 L117.25 68.32 L117.80 79.35 L118.35 74.92 L118.90 79.07 L119.00 61.27 L119.45 75.66 L120.00 77.46 L120.55 78.00 L121.10 75.84 L121.65 76.71 L122.20 61.45 L122.40 79.44 L122.75 65.13 L123.30 79.20 L123.85 77.39 L124.40 77.88 L124.95 77.90 L125.50 76.74 L126.05 66.67 L126.30 61.22 L126.60 67.75 L127.15 78.88 L127.70 74.43 L128.25 71.04 L128.80 61.53 L129.35 68.38 L129.90 78.62 L130.20 78.86 L130.45 57.76 L131.00 70.77 L131.55 60.44 L132.10 62.50 L132.60 79.13 L132.65 70.57 L133.20 46.23 L133.75 72.34 L134.20 64.57 L134.30 70.43 L134.85 63.77 L135.40 70.69 L135.95 70.79 L136.50 72.10 L137.05 57.19 L137.50 46.13 L137.60 50.02 L138.15 69.96 L138.70 63.80 L139.25 65.36 L139.50 40.75 L139.80 70.68 L140.35 64.44 L140.90 69.97 L141.40 43.49 L141.45 67.60 L142.00 59.88 L142.55 76.69 L143.10 63.33 L143.65 69.10 L144.00 42.48 L144.20 64.95 L144.75 58.09 L145.00 49.94 L145.30 56.27 L145.85 69.29 L146.40 79.46 L146.95 72.94 L147.50 61.96 L147.90 52.27 L148.05 56.06 L148.60 72.22 L149.15 78.94 L149.70 71.37 L150.25 68.02 L150.80 78.91 L151.35 61.70 L151.90 73.07 L152.45 61.65 L153.00 72.65 L153.55 61.39 L153.70 58.56 L154.10 61.74 L154.65 70.56 L155.20 57.75 L155.75 72.78 L156.30 56.09 L156.70 43.73 L156.85 49.99 L157.40 71.46 L157.95 79.50 L158.50 79.50 L159.05 79.50 L159.60 79.50 L160.15 79.50 L160.70 79.50 L161.25 79.50 L161.80 79.50 L162.35 79.50 L162.90 79.50 L163.45 79.50 L164.00 79.50 L164.00 79.50Z" fill="#ffc878" fill-opacity="0.6" stroke="none"/>
<path d="M23.20 72.37 L23.50 66.55 L23.75 71.42 L24.30 76.42 L24.85 77.50 L25.40 77.79 L25.95 77.40 L26.50 78.91 L27.05 70.17 L27.50 58.02 L27.60 60.81 L28.15 78.74 L28.70 77.72 L29.25 77.96 L29.80 75.30 L30.35 79.04 L30.80 71.79 L30.90 79.34 L31.45 77.52 L32.00 78.08 L32.55 72.11 L33.10 60.69 L33.65 72.03 L34.20 79.24 L34.75 77.90 L35.30 77.98 L35.85 78.61 L36.40 79.03 L36.95 74.49 L37.50 77.12 L38.05 67.27 L38.20 62.45 L38.60 70.69 L39.15 78.90 L39.70 77.87 L40.25 77.67 L40.80 76.93 L41.35 79.36 L41.90 76.01 L42.45 78.63 L43.00 60.23 L43.10 56.44 L43.55 69.15 L44.10 78.92 L44.65 77.55 L45.20 77.10 L45.75 77.08 L46.30 77.92 L46.85 74.76 L47.40 76.46 L47.50 60.87 L47.95 75.46 L48.50 77.32 L49.05 79.04 L49.60 77.03 L50.15 77.74 L50.40 59.96 L50.70 77.07 L51.25 74.92 L51.80 65.22 L52.35 74.79 L52.90 78.20 L53.45 76.00 L54.00 77.38 L54.55 77.88 L55.10 78.23 L55.65 76.29 L56.20 78.86 L56.70 53.35 L56.75 75.60 L57.30 79.34 L57.85 77.59 L58.40 73.10 L58.95 79.06 L59.50 75.91 L60.05 77.87 L60.60 77.85 L61.15 77.50 L61.50 70.94 L61.70 78.87 L62.25 69.82 L62.70 78.99 L62.80 62.61 L63.35 76.94 L63.90 75.21 L64.45 77.67 L65.00 77.87 L65.55 77.91 L66.10 73.35 L66.65 79.34 L66.70 79.37 L67.20 79.11 L67.75 75.61 L68.30 78.11 L68.85 77.86 L69.40 78.03 L69.95 73.06 L70.50 78.89 L71.05 67.08 L71.60 65.32 L72.00 47.78 L72.15 77.27 L72.70 62.49 L73.25 69.84 L73.70 40.39 L73.80 77.92 L74.35 56.61 L74.90 66.06 L75.30 51.79 L75.45 67.71 L76.00 62.07 L76.55 69.16 L76.90 55.94 L77.10 75.67 L77.65 62.04 L78.20 74.99 L78.75 76.62 L79.30 77.72 L79.85 77.09 L80.40 77.75 L80.95 78.66 L81.00 71.71 L81.50 76.09 L82.05 79.27 L82.60 76.14 L83.15 77.66 L83.70 77.89 L84.25 77.94 L84.70 57.95 L84.80 73.78 L85.35 72.96 L85.90 77.05 L86.20 60.72 L86.45 77.01 L87.00 77.17 L87.55 79.05 L88.10 75.16 L88.65 77.69 L89.20 77.06 L89.75 77.78 L90.30 77.85 L90.85 77.00 L91.40 73.78 L91.95 77.70 L92.50 77.88 L93.05 79.28 L93.60 62.19 L94.15 77.41 L94.70 77.85 L95.25 77.93 L95.80 76.17 L96.35 77.78 L96.90 56.62 L97.45 75.11 L98.00 79.42 L98.55 78.21 L99.10 75.29 L99.65 73.72 L99.80 60.77 L100.20 76.27 L100.75 67.03 L100.80 64.33 L101.30 73.24 L101.85 79.23 L102.40 77.88 L102.95 77.99 L103.50 68.47 L104.05 79.25 L104.20 47.64 L104.60 76.66 L105.15 59.65 L105.30 51.90 L105.70 64.56 L106.25 79.26 L106.80 77.86 L107.35 79.11 L107.90 74.93 L108.45 79.03 L108.70 57.35 L109.00 73.86 L109.55 76.73 L110.10 77.31 L110.65 77.88 L111.20 79.34 L111.75 74.99 L112.30 77.76 L112.60 71.41 L112.85 78.64 L113.40 79.42 L113.95 78.05 L114.50 76.10 L115.05 78.27 L115.60 77.78 L116.15 77.52 L116.70 72.15 L117.10 65.40 L117.25 68.32 L117.80 79.35 L118.35 74.92 L118.90 79.07 L119.00 61.27 L119.45 75.66 L120.00 77.46 L120.55 78.00 L121.10 75.84 L121.65 76.71 L122.20 61.45 L122.40 79.44 L122.75 65.13 L123.30 79.20 L123.85 77.39 L124.40 77.88 L124.95 77.90 L125.50 76.74 L126.05 66.67 L126.30 61.22 L126.60 67.75 L127.15 78.88 L127.70 74.43 L128.25 71.04 L128.80 61.53 L129.35 68.38 L129.90 78.62 L130.20 78.86 L130.45 57.76 L131.00 70.77 L131.55 60.44 L132.10 62.50 L132.60 79.13 L132.65 70.57 L133.20 46.23 L133.75 72.34 L134.20 64.57 L134.30 70.43 L134.85 63.77 L135.40 70.69 L135.95 70.79 L136.50 72.10 L137.05 57.19 L137.50 46.13 L137.60 50.02 L138.15 69.96 L138.70 63.80 L139.25 65.36 L139.50 40.75 L139.80 70.68 L140.35 64.44 L140.90 69.97 L141.40 43.49 L141.45 67.60 L142.00 59.88 L142.55 76.69 L143.10 63.33 L143.65 69.10 L144.00 42.48 L144.20 64.95 L144.75 58.09 L145.00 49.94 L145.30 56.27 L145.85 69.29 L146.40 79.46 L146.95 72.94 L147.50 61.96 L147.90 52.27 L148.05 56.06 L148.60 72.22 L149.15 78.94 L149.70 71.37 L150.25 68.02 L150.80 78.91 L151.35 61.70 L151.90 73.07 L152.45 61.65 L153.00 72.65 L153.55 61.39 L153.70 58.56 L154.10 61.74 L154.65 70.56 L155.20 57.75 L155.75 72.78 L156.30 56.09 L156.70 43.73 L156.85 49.99 L157.40 71.46 L157.95 78.53 L158.50 78.53 L159.05 78.52 L159.60 78.51 L160.15 78.52 L160.70 78.53 L161.25 78.53 L161.80 78.52 L162.35 78.51 L162.90 77.54 L163.45 77.57 L164.00 75.98" stroke="#ff9c1e" stroke-width="0.8" fill="none" stroke-linejoin="round"/>
<path d="M157.95 77.50H164.00" stroke="#4450f0" stroke-width="0" fill="none"/>
<path d="M157.95 78.70H164.00" stroke="#cc4650" stroke-width="0" fill="none"/>
<path d="M243.70 79.50 L244.30 79.34 L244.89 79.14 L245.49 78.98 L246.08 78.81 L246.68 78.54 L247.28 78.38 L247.87 78.18 L248.47 78.01 L249.06 77.68 L249.66 77.45 L250.25 77.26 L250.85 77.05 L251.45 76.75 L252.04 76.55 L252.64 76.25 L253.23 76.05 L253.83 75.87 L254.43 75.55 L255.02 75.42 L255.62 75.10 L256.21 74.89 L256.81 74.58 L257.41 74.34 L258.00 74.18 L258.60 74.03 L259.19 73.87 L259.79 73.70 L260.39 73.52 L260.98 73.32 L261.58 73.13 L262.17 72.89 L262.77 72.70 L263.37 72.55 L263.96 72.44 L264.56 72.20 L265.15 71.99 L265.75 71.71 L266.34 71.58 L266.94 71.43 L267.54 71.14 L268.13 71.01 L268.73 70.79 L269.32 70.55 L269.92 70.38 L270.52 70.19 L271.11 70.07 L271.71 69.86 L272.30 69.68 L272.90 69.51 L273.50 69.42 L274.09 69.23 L274.69 69.06 L275.28 68.91 L275.88 68.69 L276.48 68.45 L277.07 68.25 L277.67 68.14 L278.26 67.91 L278.86 67.80 L279.45 67.52 L280.05 67.22 L280.65 66.99 L281.24 66.75 L281.84 66.56 L282.43 66.33 L283.03 66.14 L283.63 65.83 L284.22 65.56 L284.82 65.25 L285.41 64.95 L286.01 64.70 L286.61 64.44 L287.20 64.29 L287.80 64.07 L288.39 63.80 L288.99 63.55 L289.58 63.19 L290.18 63.01 L290.78 62.74 L291.37 62.42 L291.97 62.09 L292.56 61.51 L293.16 61.14 L293.76 60.79 L294.35 60.24 L294.95 59.97 L295.54 59.69 L296.14 59.54 L296.74 59.38 L297.33 59.25 L297.93 59.04 L298.52 58.84 L299.12 58.59 L299.72 58.30 L300.31 58.19 L300.91 58.01 L301.50 57.78 L302.10 57.61 L302.69 57.34 L303.29 57.17 L303.89 57.02 L304.48 56.87 L305.08 56.69 L305.67 56.54 L306.27 56.43 L306.87 56.25 L307.46 56.05 L308.06 55.93 L308.65 55.82 L309.25 55.72 L309.85 55.55 L310.44 55.22 L311.04 54.95 L311.63 54.58 L312.23 54.35 L312.83 54.06 L313.42 53.73 L314.02 53.47 L314.61 53.19 L315.21 53.02 L315.81 52.76 L316.40 52.32 L317.00 51.58 L317.59 50.78 L318.19 50.39 L318.78 49.61 L319.38 48.98 L319.98 48.21 L320.57 47.71 L321.17 47.47 L321.76 47.32 L322.36 47.18 L322.96 47.08 L323.55 46.84 L324.15 46.68 L324.74 46.54 L325.34 46.31 L325.94 46.18 L326.53 45.94 L327.13 45.77 L327.72 45.56 L328.32 45.41 L328.92 45.28 L329.51 45.17 L330.11 45.00 L330.70 44.80 L331.30 44.66 L331.89 44.37 L332.49 44.20 L333.09 43.98 L333.68 43.78 L334.28 43.55 L334.87 43.25 L335.47 42.95 L336.07 42.72 L336.66 42.52 L337.26 42.28 L337.85 41.97 L338.45 41.71 L339.05 41.46 L339.64 41.28 L340.24 41.10 L340.83 40.89 L341.43 40.71 L342.02 39.97 L342.62 39.21 L343.22 38.56 L343.81 37.97 L344.41 37.38 L345.00 36.02 L345.60 34.72 L346.20 34.40 L346.79 34.05 L347.39 33.65 L347.98 33.13 L348.58 32.60 L349.18 32.31 L349.77 31.71 L350.37 31.17 L350.96 30.73 L351.56 30.34 L352.16 29.88 L352.75 29.22 L353.35 28.44 L353.94 27.84 L354.54 27.13 L355.13 26.66 L355.73 26.14 L356.33 25.63 L356.92 25.19 L357.52 24.68 L358.11 24.40 L358.71 23.94 L359.31 23.52 L359.90 23.14 L360.50 22.94 L361.09 22.69 L361.69 22.21 L362.29 21.95 L362.88 21.57 L363.48 21.13 L364.07 20.70 L364.67 20.27 L365.27 20.06 L365.86 19.32 L366.46 18.13 L367.05 17.04 L367.65 16.19 L368.25 15.59 L368.84 14.93 L369.44 14.75 L370.03 14.73 L370.63 14.72 L371.22 14.70 L371.82 14.67 L372.42 14.65 L373.01 14.64 L373.61 14.62 L374.20 14.60 L374.80 14.57" stroke="#3a3a3a" stroke-width="1.05" fill="none" stroke-linejoin="round"/>
<path d="M243.70 79.50 L244.30 79.35 L244.89 79.15 L245.49 78.99 L246.08 78.81 L246.68 78.55 L247.28 78.39 L247.87 78.19 L248.47 78.03 L249.06 77.70 L249.66 77.48 L250.25 77.29 L250.85 77.08 L251.45 76.79 L252.04 76.59 L252.64 76.29 L253.23 76.09 L253.83 75.91 L254.43 75.60 L255.02 75.47 L255.62 75.16 L256.21 74.94 L256.81 74.64 L257.41 74.40 L258.00 74.25 L258.60 74.09 L259.19 73.94 L259.79 73.77 L260.39 73.59 L260.98 73.39 L261.58 73.21 L262.17 72.97 L262.77 72.78 L263.37 72.64 L263.96 72.52 L264.56 72.29 L265.15 72.08 L265.75 71.81 L266.34 71.67 L266.94 71.52 L267.54 71.24 L268.13 71.12 L268.73 70.89 L269.32 70.66 L269.92 70.49 L270.52 70.30 L271.11 70.18 L271.71 69.97 L272.30 69.79 L272.90 69.63 L273.50 69.54 L274.09 69.35 L274.69 69.18 L275.28 69.04 L275.88 68.81 L276.48 68.58 L277.07 68.38 L277.67 68.28 L278.26 68.05 L278.86 67.94 L279.45 67.66 L280.05 67.36 L280.65 67.13 L281.24 66.90 L281.84 66.71 L282.43 66.49 L283.03 66.30 L283.63 65.99 L284.22 65.73 L284.82 65.42 L285.41 65.12 L286.01 64.88 L286.61 64.62 L287.20 64.47 L287.80 64.25 L288.39 63.99 L288.99 63.74 L289.58 63.38 L290.18 63.20 L290.78 62.94 L291.37 62.62 L291.97 62.30 L292.56 61.72 L293.16 61.36 L293.76 61.01 L294.35 60.47 L294.95 60.20 L295.54 59.93 L296.14 59.77 L296.74 59.62 L297.33 59.50 L297.93 59.28 L298.52 59.09 L299.12 58.84 L299.72 58.56 L300.31 58.45 L300.91 58.27 L301.50 58.04 L302.10 57.87 L302.69 57.61 L303.29 57.44 L303.89 57.29 L304.48 57.14 L305.08 56.96 L305.67 56.82 L306.27 56.70 L306.87 56.52 L307.46 56.33 L308.06 56.21 L308.65 56.10 L309.25 56.00 L309.85 55.83 L310.44 55.51 L311.04 55.24 L311.63 54.88 L312.23 54.65 L312.83 54.36 L313.42 54.04 L314.02 53.77 L314.61 53.51 L315.21 53.33 L315.81 53.08 L316.40 52.64 L317.00 51.91 L317.59 51.13 L318.19 50.73 L318.78 49.96 L319.38 49.34 L319.98 48.58 L320.57 48.09 L321.17 47.85 L321.76 47.70 L322.36 47.56 L322.96 47.46 L323.55 47.23 L324.15 47.07 L324.74 46.93 L325.34 46.71 L325.94 46.57 L326.53 46.33 L327.13 46.17 L327.72 45.96 L328.32 45.81 L328.92 45.68 L329.51 45.57 L330.11 45.41 L330.70 45.21 L331.30 45.07 L331.89 44.79 L332.49 44.62 L333.09 44.40 L333.68 44.21 L334.28 43.97 L334.87 43.68 L335.47 43.38 L336.07 43.16 L336.66 42.96 L337.26 42.72 L337.85 42.42 L338.45 42.16 L339.05 41.91 L339.64 41.73 L340.24 41.56 L340.83 41.35 L341.43 41.17 L342.02 40.44 L342.62 39.69 L343.22 39.04 L343.81 38.46 L344.41 37.88 L345.00 36.54 L345.60 35.25 L346.20 34.94 L346.79 34.59 L347.39 34.19 L347.98 33.68 L348.58 33.16 L349.18 32.87 L349.77 32.28 L350.37 31.74 L350.96 31.31 L351.56 30.92 L352.16 30.47 L352.75 29.82 L353.35 29.05 L353.94 28.45 L354.54 27.75 L355.13 27.29 L355.73 26.78 L356.33 26.26 L356.92 25.84 L357.52 25.33 L358.11 25.06 L358.71 24.60 L359.31 24.18 L359.90 23.80 L360.50 23.61 L361.09 23.36 L361.69 22.89 L362.29 22.63 L362.88 22.26 L363.48 21.82 L364.07 21.40 L364.67 20.97 L365.27 20.77 L365.86 20.04 L366.46 18.86 L367.05 17.78 L367.65 16.94 L368.25 16.34 L368.84 15.70 L369.44 15.52 L370.03 15.50 L370.63 15.49 L371.22 15.46 L371.82 15.44 L372.42 15.42 L373.01 15.41 L373.61 15.39 L374.20 15.36 L374.80 15.34" stroke="#4450f0" stroke-width="1.05" fill="none" stroke-linejoin="round"/>
<path d="M243.70 79.50 L244.30 79.35 L244.89 79.17 L245.49 79.01 L246.08 78.85 L246.68 78.59 L247.28 78.44 L247.87 78.26 L248.47 78.10 L249.06 77.79 L249.66 77.57 L250.25 77.40 L250.85 77.20 L251.45 76.92 L252.04 76.72 L252.64 76.45 L253.23 76.25 L253.83 76.08 L254.43 75.79 L255.02 75.66 L255.62 75.36 L256.21 75.16 L256.81 74.87 L257.41 74.65 L258.00 74.50 L258.60 74.35 L259.19 74.20 L259.79 74.05 L260.39 73.88 L260.98 73.69 L261.58 73.51 L262.17 73.28 L262.77 73.10 L263.37 72.96 L263.96 72.85 L264.56 72.64 L265.15 72.44 L265.75 72.17 L266.34 72.05 L266.94 71.90 L267.54 71.64 L268.13 71.52 L268.73 71.30 L269.32 71.08 L269.92 70.92 L270.52 70.74 L271.11 70.63 L271.71 70.43 L272.30 70.26 L272.90 70.10 L273.50 70.02 L274.09 69.84 L274.69 69.67 L275.28 69.54 L275.88 69.33 L276.48 69.11 L277.07 68.92 L277.67 68.82 L278.26 68.60 L278.86 68.49 L279.45 68.23 L280.05 67.95 L280.65 67.73 L281.24 67.50 L281.84 67.32 L282.43 67.11 L283.03 66.93 L283.63 66.64 L284.22 66.39 L284.82 66.10 L285.41 65.81 L286.01 65.58 L286.61 65.33 L287.20 65.19 L287.80 64.98 L288.39 64.73 L288.99 64.50 L289.58 64.15 L290.18 63.99 L290.78 63.73 L291.37 63.43 L291.97 63.12 L292.56 62.57 L293.16 62.23 L293.76 61.90 L294.35 61.38 L294.95 61.12 L295.54 60.87 L296.14 60.72 L296.74 60.58 L297.33 60.46 L297.93 60.25 L298.52 60.07 L299.12 59.83 L299.72 59.56 L300.31 59.46 L300.91 59.29 L301.50 59.07 L302.10 58.91 L302.69 58.66 L303.29 58.49 L303.89 58.35 L304.48 58.21 L305.08 58.04 L305.67 57.90 L306.27 57.79 L306.87 57.63 L307.46 57.44 L308.06 57.33 L308.65 57.22 L309.25 57.13 L309.85 56.97 L310.44 56.66 L311.04 56.40 L311.63 56.06 L312.23 55.84 L312.83 55.57 L313.42 55.26 L314.02 55.01 L314.61 54.75 L315.21 54.59 L315.81 54.35 L316.40 53.93 L317.00 53.23 L317.59 52.49 L318.19 52.11 L318.78 51.38 L319.38 50.79 L319.98 50.06 L320.57 49.60 L321.17 49.37 L321.76 49.23 L322.36 49.10 L322.96 49.00 L323.55 48.78 L324.15 48.63 L324.74 48.49 L325.34 48.28 L325.94 48.15 L326.53 47.93 L327.13 47.77 L327.72 47.57 L328.32 47.43 L328.92 47.30 L329.51 47.20 L330.11 47.04 L330.70 46.86 L331.30 46.72 L331.89 46.46 L332.49 46.29 L333.09 46.08 L333.68 45.90 L334.28 45.68 L334.87 45.40 L335.47 45.12 L336.07 44.90 L336.66 44.71 L337.26 44.49 L337.85 44.20 L338.45 43.95 L339.05 43.72 L339.64 43.54 L340.24 43.38 L340.83 43.18 L341.43 43.01 L342.02 42.31 L342.62 41.60 L343.22 40.99 L343.81 40.43 L344.41 39.88 L345.00 38.60 L345.60 37.37 L346.20 37.08 L346.79 36.75 L347.39 36.36 L347.98 35.88 L348.58 35.39 L349.18 35.11 L349.77 34.54 L350.37 34.03 L350.96 33.62 L351.56 33.26 L352.16 32.82 L352.75 32.20 L353.35 31.47 L353.94 30.90 L354.54 30.23 L355.13 29.80 L355.73 29.31 L356.33 28.82 L356.92 28.41 L357.52 27.93 L358.11 27.67 L358.71 27.24 L359.31 26.83 L359.90 26.48 L360.50 26.29 L361.09 26.06 L361.69 25.61 L362.29 25.36 L362.88 25.00 L363.48 24.59 L364.07 24.19 L364.67 23.78 L365.27 23.59 L365.86 22.89 L366.46 21.77 L367.05 20.74 L367.65 19.94 L368.25 19.38 L368.84 18.76 L369.44 18.59 L370.03 18.57 L370.63 18.56 L371.22 18.54 L371.82 18.51 L372.42 18.50 L373.01 18.49 L373.61 18.46 L374.20 18.44 L374.80 18.42" stroke="#3f9a50" stroke-width="1.05" fill="none" stroke-linejoin="round"/>
<path d="M243.70 79.50 L244.30 79.36 L244.89 79.17 L245.49 79.03 L246.08 78.86 L246.68 78.61 L247.28 78.47 L247.87 78.29 L248.47 78.13 L249.06 77.83 L249.66 77.62 L250.25 77.44 L250.85 77.25 L251.45 76.98 L252.04 76.79 L252.64 76.52 L253.23 76.33 L253.83 76.16 L254.43 75.87 L255.02 75.75 L255.62 75.46 L256.21 75.26 L256.81 74.98 L257.41 74.76 L258.00 74.61 L258.60 74.47 L259.19 74.32 L259.79 74.17 L260.39 74.01 L260.98 73.82 L261.58 73.65 L262.17 73.43 L262.77 73.25 L263.37 73.12 L263.96 73.01 L264.56 72.80 L265.15 72.60 L265.75 72.34 L266.34 72.22 L266.94 72.08 L267.54 71.82 L268.13 71.70 L268.73 71.49 L269.32 71.28 L269.92 71.12 L270.52 70.94 L271.11 70.84 L271.71 70.64 L272.30 70.47 L272.90 70.32 L273.50 70.23 L274.09 70.06 L274.69 69.90 L275.28 69.77 L275.88 69.56 L276.48 69.35 L277.07 69.16 L277.67 69.06 L278.26 68.85 L278.86 68.75 L279.45 68.49 L280.05 68.21 L280.65 68.00 L281.24 67.78 L281.84 67.60 L282.43 67.40 L283.03 67.22 L283.63 66.94 L284.22 66.69 L284.82 66.41 L285.41 66.13 L286.01 65.90 L286.61 65.66 L287.20 65.52 L287.80 65.32 L288.39 65.07 L288.99 64.84 L289.58 64.51 L290.18 64.34 L290.78 64.10 L291.37 63.80 L291.97 63.50 L292.56 62.96 L293.16 62.63 L293.76 62.30 L294.35 61.80 L294.95 61.55 L295.54 61.30 L296.14 61.15 L296.74 61.01 L297.33 60.90 L297.93 60.70 L298.52 60.52 L299.12 60.29 L299.72 60.02 L300.31 59.92 L300.91 59.76 L301.50 59.54 L302.10 59.39 L302.69 59.14 L303.29 58.98 L303.89 58.84 L304.48 58.70 L305.08 58.54 L305.67 58.40 L306.27 58.30 L306.87 58.13 L307.46 57.95 L308.06 57.84 L308.65 57.73 L309.25 57.64 L309.85 57.49 L310.44 57.19 L311.04 56.94 L311.63 56.60 L312.23 56.39 L312.83 56.12 L313.42 55.82 L314.02 55.57 L314.61 55.33 L315.21 55.16 L315.81 54.93 L316.40 54.52 L317.00 53.84 L317.59 53.11 L318.19 52.75 L318.78 52.03 L319.38 51.46 L319.98 50.74 L320.57 50.29 L321.17 50.07 L321.76 49.93 L322.36 49.80 L322.96 49.70 L323.55 49.49 L324.15 49.34 L324.74 49.21 L325.34 49.00 L325.94 48.88 L326.53 48.66 L327.13 48.51 L327.72 48.31 L328.32 48.17 L328.92 48.05 L329.51 47.95 L330.11 47.79 L330.70 47.61 L331.30 47.48 L331.89 47.22 L332.49 47.06 L333.09 46.85 L333.68 46.68 L334.28 46.46 L334.87 46.19 L335.47 45.91 L336.07 45.70 L336.66 45.52 L337.26 45.30 L337.85 45.01 L338.45 44.77 L339.05 44.54 L339.64 44.37 L340.24 44.22 L340.83 44.02 L341.43 43.86 L342.02 43.17 L342.62 42.48 L343.22 41.88 L343.81 41.33 L344.41 40.79 L345.00 39.55 L345.60 38.34 L346.20 38.06 L346.79 37.73 L347.39 37.36 L347.98 36.89 L348.58 36.40 L349.18 36.13 L349.77 35.58 L350.37 35.08 L350.96 34.68 L351.56 34.33 L352.16 33.90 L352.75 33.30 L353.35 32.58 L353.94 32.02 L354.54 31.37 L355.13 30.95 L355.73 30.47 L356.33 29.99 L356.92 29.59 L357.52 29.12 L358.11 28.87 L358.71 28.44 L359.31 28.05 L359.90 27.70 L360.50 27.52 L361.09 27.29 L361.69 26.86 L362.29 26.61 L362.88 26.26 L363.48 25.86 L364.07 25.46 L364.67 25.07 L365.27 24.88 L365.86 24.20 L366.46 23.10 L367.05 22.10 L367.65 21.32 L368.25 20.77 L368.84 20.16 L369.44 20.00 L370.03 19.98 L370.63 19.97 L371.22 19.95 L371.82 19.92 L372.42 19.91 L373.01 19.90 L373.61 19.88 L374.20 19.85 L374.80 19.83" stroke="#c8c8c8" stroke-width="1.05" fill="none" stroke-linejoin="round"/>
<path d="M243.70 79.50 L244.30 79.38 L244.89 79.23 L245.49 79.11 L246.08 78.98 L246.68 78.77 L247.28 78.65 L247.87 78.50 L248.47 78.37 L249.06 78.13 L249.66 77.95 L250.25 77.81 L250.85 77.65 L251.45 77.42 L252.04 77.27 L252.64 77.05 L253.23 76.89 L253.83 76.75 L254.43 76.52 L255.02 76.42 L255.62 76.18 L256.21 76.01 L256.81 75.78 L257.41 75.60 L258.00 75.48 L258.60 75.36 L259.19 75.24 L259.79 75.12 L260.39 74.98 L260.98 74.83 L261.58 74.69 L262.17 74.50 L262.77 74.36 L263.37 74.25 L263.96 74.16 L264.56 73.99 L265.15 73.83 L265.75 73.61 L266.34 73.51 L266.94 73.40 L267.54 73.18 L268.13 73.09 L268.73 72.91 L269.32 72.73 L269.92 72.61 L270.52 72.46 L271.11 72.37 L271.71 72.21 L272.30 72.07 L272.90 71.95 L273.50 71.88 L274.09 71.73 L274.69 71.60 L275.28 71.50 L275.88 71.33 L276.48 71.15 L277.07 71.00 L277.67 70.92 L278.26 70.74 L278.86 70.66 L279.45 70.44 L280.05 70.22 L280.65 70.04 L281.24 69.86 L281.84 69.71 L282.43 69.55 L283.03 69.40 L283.63 69.17 L284.22 68.96 L284.82 68.73 L285.41 68.50 L286.01 68.31 L286.61 68.11 L287.20 68.00 L287.80 67.83 L288.39 67.63 L288.99 67.44 L289.58 67.17 L290.18 67.03 L290.78 66.83 L291.37 66.59 L291.97 66.34 L292.56 65.90 L293.16 65.62 L293.76 65.35 L294.35 64.94 L294.95 64.73 L295.54 64.53 L296.14 64.41 L296.74 64.29 L297.33 64.20 L297.93 64.03 L298.52 63.88 L299.12 63.70 L299.72 63.48 L300.31 63.39 L300.91 63.26 L301.50 63.08 L302.10 62.96 L302.69 62.75 L303.29 62.62 L303.89 62.51 L304.48 62.39 L305.08 62.26 L305.67 62.15 L306.27 62.06 L306.87 61.92 L307.46 61.77 L308.06 61.68 L308.65 61.60 L309.25 61.52 L309.85 61.39 L310.44 61.14 L311.04 60.94 L311.63 60.66 L312.23 60.49 L312.83 60.27 L313.42 60.02 L314.02 59.82 L314.61 59.61 L315.21 59.48 L315.81 59.29 L316.40 58.95 L317.00 58.39 L317.59 57.79 L318.19 57.49 L318.78 56.91 L319.38 56.43 L319.98 55.85 L320.57 55.47 L321.17 55.29 L321.76 55.17 L322.36 55.07 L322.96 54.99 L323.55 54.81 L324.15 54.69 L324.74 54.58 L325.34 54.41 L325.94 54.31 L326.53 54.13 L327.13 54.01 L327.72 53.84 L328.32 53.73 L328.92 53.63 L329.51 53.55 L330.11 53.42 L330.70 53.27 L331.30 53.16 L331.89 52.95 L332.49 52.81 L333.09 52.65 L333.68 52.50 L334.28 52.32 L334.87 52.10 L335.47 51.87 L336.07 51.70 L336.66 51.55 L337.26 51.37 L337.85 51.13 L338.45 50.94 L339.05 50.74 L339.64 50.61 L340.24 50.48 L340.83 50.32 L341.43 50.18 L342.02 49.62 L342.62 49.05 L343.22 48.55 L343.81 48.11 L344.41 47.66 L345.00 46.63 L345.60 45.65 L346.20 45.41 L346.79 45.14 L347.39 44.84 L347.98 44.45 L348.58 44.05 L349.18 43.83 L349.77 43.37 L350.37 42.96 L350.96 42.63 L351.56 42.34 L352.16 41.99 L352.75 41.49 L353.35 40.91 L353.94 40.45 L354.54 39.91 L355.13 39.56 L355.73 39.17 L356.33 38.77 L356.92 38.45 L357.52 38.06 L358.11 37.85 L358.71 37.50 L359.31 37.18 L359.90 36.89 L360.50 36.74 L361.09 36.56 L361.69 36.20 L362.29 35.99 L362.88 35.71 L363.48 35.38 L364.07 35.05 L364.67 34.73 L365.27 34.57 L365.86 34.01 L366.46 33.11 L367.05 32.28 L367.65 31.64 L368.25 31.19 L368.84 30.69 L369.44 30.56 L370.03 30.54 L370.63 30.53 L371.22 30.51 L371.82 30.49 L372.42 30.48 L373.01 30.47 L373.61 30.45 L374.20 30.44 L374.80 30.42" stroke="#cc4650" stroke-width="1.05" fill="none" stroke-linejoin="round"/>
<path d="M243.70 79.50 L244.30 79.36 L244.89 79.19 L245.49 79.04 L246.08 78.89 L246.68 78.65 L247.28 78.51 L247.87 78.33 L248.47 78.18 L249.06 77.89 L249.66 77.69 L250.25 77.52 L250.85 77.33 L251.45 77.07 L252.04 76.89 L252.64 76.63 L253.23 76.45 L253.83 76.29 L254.43 76.01 L255.02 75.89 L255.62 75.61 L256.21 75.42 L256.81 75.15 L257.41 74.94 L258.00 74.80 L258.60 74.66 L259.19 74.52 L259.79 74.37 L260.39 74.21 L260.98 74.04 L261.58 73.87 L262.17 73.66 L262.77 73.48 L263.37 73.36 L263.96 73.25 L264.56 73.05 L265.15 72.86 L265.75 72.61 L266.34 72.49 L266.94 72.36 L267.54 72.11 L268.13 72.00 L268.73 71.79 L269.32 71.59 L269.92 71.44 L270.52 71.26 L271.11 71.16 L271.71 70.97 L272.30 70.81 L272.90 70.67 L273.50 70.58 L274.09 70.41 L274.69 70.26 L275.28 70.14 L275.88 69.94 L276.48 69.73 L277.07 69.55 L277.67 69.46 L278.26 69.25 L278.86 69.15 L279.45 68.91 L280.05 68.64 L280.65 68.43 L281.24 68.22 L281.84 68.05 L282.43 67.85 L283.03 67.68 L283.63 67.41 L284.22 67.17 L284.82 66.90 L285.41 66.63 L286.01 66.41 L286.61 66.18 L287.20 66.05 L287.80 65.85 L288.39 65.62 L288.99 65.39 L289.58 65.07 L290.18 64.91 L290.78 64.68 L291.37 64.39 L291.97 64.10 L292.56 63.59 L293.16 63.26 L293.76 62.95 L294.35 62.46 L294.95 62.22 L295.54 61.98 L296.14 61.84 L296.74 61.71 L297.33 61.60 L297.93 61.41 L298.52 61.23 L299.12 61.01 L299.72 60.76 L300.31 60.66 L300.91 60.50 L301.50 60.29 L302.10 60.14 L302.69 59.91 L303.29 59.75 L303.89 59.62 L304.48 59.49 L305.08 59.32 L305.67 59.20 L306.27 59.09 L306.87 58.93 L307.46 58.76 L308.06 58.65 L308.65 58.55 L309.25 58.47 L309.85 58.31 L310.44 58.03 L311.04 57.79 L311.63 57.46 L312.23 57.26 L312.83 57.00 L313.42 56.71 L314.02 56.48 L314.61 56.23 L315.21 56.08 L315.81 55.85 L316.40 55.46 L317.00 54.81 L317.59 54.10 L318.19 53.75 L318.78 53.07 L319.38 52.51 L319.98 51.83 L320.57 51.39 L321.17 51.17 L321.76 51.04 L322.36 50.92 L322.96 50.82 L323.55 50.62 L324.15 50.48 L324.74 50.35 L325.34 50.15 L325.94 50.03 L326.53 49.82 L327.13 49.67 L327.72 49.48 L328.32 49.35 L328.92 49.23 L329.51 49.14 L330.11 48.99 L330.70 48.81 L331.30 48.69 L331.89 48.43 L332.49 48.28 L333.09 48.08 L333.68 47.91 L334.28 47.70 L334.87 47.44 L335.47 47.18 L336.07 46.98 L336.66 46.80 L337.26 46.58 L337.85 46.31 L338.45 46.08 L339.05 45.86 L339.64 45.70 L340.24 45.54 L340.83 45.36 L341.43 45.20 L342.02 44.54 L342.62 43.87 L343.22 43.29 L343.81 42.77 L344.41 42.25 L345.00 41.05 L345.60 39.89 L346.20 39.62 L346.79 39.31 L347.39 38.95 L347.98 38.49 L348.58 38.03 L349.18 37.76 L349.77 37.23 L350.37 36.76 L350.96 36.37 L351.56 36.03 L352.16 35.62 L352.75 35.04 L353.35 34.35 L353.94 33.81 L354.54 33.18 L355.13 32.77 L355.73 32.31 L356.33 31.85 L356.92 31.47 L357.52 31.01 L358.11 30.77 L358.71 30.36 L359.31 29.99 L359.90 29.65 L360.50 29.47 L361.09 29.26 L361.69 28.84 L362.29 28.60 L362.88 28.27 L363.48 27.88 L364.07 27.50 L364.67 27.12 L365.27 26.93 L365.86 26.28 L366.46 25.23 L367.05 24.26 L367.65 23.51 L368.25 22.98 L368.84 22.40 L369.44 22.24 L370.03 22.22 L370.63 22.21 L371.22 22.19 L371.82 22.16 L372.42 22.15 L373.01 22.14 L373.61 22.12 L374.20 22.10 L374.80 22.08" stroke="#ff9c1e" stroke-width="1.05" fill="none" stroke-linejoin="round"/>
<path d="M23.70 176.64 L23.84 179.77 L23.98 172.95 L24.12 176.80 L24.26 169.26 L24.40 173.98 L24.54 165.57 L24.68 170.35 L24.82 161.88 L24.96 169.38 L25.10 158.19 L25.24 165.14 L25.38 154.51 L25.52 172.06 L25.66 150.82 L25.80 165.19 L25.94 147.13 L26.08 156.82 L26.23 143.44 L26.37 158.26 L26.51 139.75 L26.65 152.06 L26.79 136.06 L26.93 162.23 L27.07 132.37 L27.21 154.77 L83.72 154.77 L83.72 188.50 L83.96 176.77 L97.15 176.77 L97.15 175.98 L97.31 135.80 L97.51 158.52 L97.71 143.70 L97.95 163.14 L98.15 156.88 L98.45 165.44 L110.17 165.44 L110.17 175.98 L110.33 117.35 L110.53 134.54 L110.73 128.02 L110.97 142.84 L111.17 145.81 L111.48 146.99 L123.20 146.99 L123.20 188.50 L123.44 176.77 L136.63 176.77 L136.63 175.98 L136.79 133.16 L136.99 158.52 L137.19 141.46 L137.43 163.14 L137.63 155.30 L137.93 165.44 L150.45 165.44 L150.45 175.98 L150.61 117.35 L150.81 134.54 L151.01 128.02 L151.25 142.84 L151.46 145.81 L151.76 146.99 L162.68 146.99 L162.68 188.50 L162.92 176.77 L165.28 176.77" stroke="#3a3a3a" stroke-width="1.15" fill="none" stroke-linejoin="round"/>
<path d="M23.70 176.78 L23.84 179.88 L23.98 173.14 L24.12 176.94 L24.26 169.49 L24.40 174.16 L24.54 165.85 L24.68 170.56 L24.82 162.20 L24.96 169.60 L25.10 158.55 L25.24 165.41 L25.38 154.91 L25.52 172.26 L25.66 151.26 L25.80 165.47 L25.94 147.62 L26.08 157.20 L26.23 143.97 L26.37 158.62 L26.51 140.33 L26.65 152.49 L26.79 136.68 L26.93 162.54 L27.07 133.03 L27.21 155.17 L83.72 155.17 L83.72 188.50 L83.96 176.91 L97.15 176.91 L97.15 176.13 L97.31 136.42 L97.51 158.88 L97.71 144.23 L97.95 163.44 L98.15 157.25 L98.45 165.72 L110.17 165.72 L110.17 176.13 L110.33 118.19 L110.53 135.18 L110.73 128.74 L110.97 143.39 L111.17 146.32 L111.48 147.49 L123.20 147.49 L123.20 188.50 L123.44 176.91 L136.63 176.91 L136.63 176.13 L136.79 133.82 L136.99 158.88 L137.19 142.02 L137.43 163.44 L137.63 155.69 L137.93 165.72 L150.45 165.72 L150.45 176.13 L150.61 118.19 L150.81 135.18 L151.01 128.74 L151.25 143.39 L151.46 146.32 L151.76 147.49 L162.68 147.49 L162.68 188.50 L162.92 176.91 L165.28 176.91" stroke="#4450f0" stroke-width="1.15" fill="none" stroke-linejoin="round"/>
<path d="M23.70 177.31 L23.84 180.26 L23.98 173.83 L24.12 177.46 L24.26 170.35 L24.40 174.80 L24.54 166.86 L24.68 171.37 L24.82 163.38 L24.96 170.45 L25.10 159.90 L25.24 166.45 L25.38 156.42 L25.52 172.99 L25.66 152.94 L25.80 166.50 L25.94 149.46 L26.08 158.61 L26.23 145.98 L26.37 159.96 L26.51 142.49 L26.65 154.11 L26.79 139.01 L26.93 163.71 L27.07 135.53 L27.21 156.67 L83.72 156.67 L83.72 188.50 L83.96 177.43 L97.15 177.43 L97.15 176.69 L97.31 138.76 L97.51 160.21 L97.71 146.22 L97.95 164.56 L98.15 158.66 L98.45 166.74 L110.17 166.74 L110.17 176.69 L110.33 121.36 L110.53 137.58 L110.73 131.43 L110.97 145.42 L111.17 148.21 L111.48 149.33 L123.20 149.33 L123.20 188.50 L123.44 177.43 L136.63 177.43 L136.63 176.69 L136.79 136.28 L136.99 160.21 L137.19 144.11 L137.43 164.56 L137.63 157.17 L137.93 166.74 L150.45 166.74 L150.45 176.69 L150.61 121.36 L150.81 137.58 L151.01 131.43 L151.25 145.42 L151.46 148.21 L151.76 149.33 L162.68 149.33 L162.68 188.50 L162.92 177.43 L165.28 177.43" stroke="#3f9a50" stroke-width="1.15" fill="none" stroke-linejoin="round"/>
<path d="M23.70 177.60 L23.84 180.48 L23.98 174.21 L24.12 177.75 L24.26 170.82 L24.40 175.16 L24.54 167.43 L24.68 171.82 L24.82 164.04 L24.96 170.92 L25.10 160.65 L25.24 167.03 L25.38 157.26 L25.52 173.39 L25.66 153.87 L25.80 167.08 L25.94 150.48 L26.08 159.39 L26.23 147.09 L26.37 160.71 L26.51 143.70 L26.65 155.01 L26.79 140.31 L26.93 164.36 L27.07 136.92 L27.21 157.50 L83.72 157.50 L83.72 188.50 L83.96 177.72 L97.15 177.72 L97.15 177.00 L97.31 140.07 L97.51 160.95 L97.71 147.33 L97.95 165.19 L98.15 159.44 L98.45 167.31 L110.17 167.31 L110.17 177.00 L110.33 123.11 L110.53 138.92 L110.73 132.92 L110.97 146.54 L111.17 149.27 L111.48 150.36 L123.20 150.36 L123.20 188.50 L123.44 177.72 L136.63 177.72 L136.63 177.00 L136.79 137.64 L136.99 160.95 L137.19 145.27 L137.43 165.19 L137.63 157.99 L137.93 167.31 L150.45 167.31 L150.45 177.00 L150.61 123.11 L150.81 138.92 L151.01 132.92 L151.25 146.54 L151.46 149.27 L151.76 150.36 L162.68 150.36 L162.68 188.50 L162.92 177.72 L165.28 177.72" stroke="#c8c8c8" stroke-width="1.15" fill="none" stroke-linejoin="round"/>
<path d="M23.70 179.50 L23.84 181.88 L23.98 176.70 L24.12 179.62 L24.26 173.90 L24.40 177.48 L24.54 171.10 L24.68 174.73 L24.82 168.30 L24.96 173.99 L25.10 165.50 L25.24 170.77 L25.38 162.70 L25.52 176.02 L25.66 159.90 L25.80 170.81 L25.94 157.10 L26.08 164.46 L26.23 154.30 L26.37 165.55 L26.51 151.50 L26.65 160.84 L26.79 148.70 L26.93 168.56 L27.07 145.90 L27.21 162.90 L83.72 162.90 L83.72 188.50 L83.96 179.60 L97.15 179.60 L97.15 179.00 L97.31 148.50 L97.51 165.75 L97.71 154.50 L97.95 169.25 L98.15 164.50 L98.45 171.00 L110.17 171.00 L110.17 179.00 L110.33 134.50 L110.53 147.55 L110.73 142.60 L110.97 153.85 L111.17 156.10 L111.48 157.00 L123.20 157.00 L123.20 188.50 L123.44 179.60 L136.63 179.60 L136.63 179.00 L136.79 146.50 L136.99 165.75 L137.19 152.80 L137.43 169.25 L137.63 163.30 L137.93 171.00 L150.45 171.00 L150.45 179.00 L150.61 134.50 L150.81 147.55 L151.01 142.60 L151.25 153.85 L151.46 156.10 L151.76 157.00 L162.68 157.00 L162.68 188.50 L162.92 179.60 L165.28 179.60" stroke="#cc4650" stroke-width="1.15" fill="none" stroke-linejoin="round"/>
<path d="M23.70 177.81 L23.84 180.64 L23.98 174.49 L24.12 177.96 L24.26 171.16 L24.40 175.42 L24.54 167.84 L24.68 172.14 L24.82 164.51 L24.96 171.27 L25.10 161.19 L25.24 167.45 L25.38 157.86 L25.52 173.68 L25.66 154.54 L25.80 167.49 L25.94 151.21 L26.08 159.95 L26.23 147.89 L26.37 161.25 L26.51 144.57 L26.65 155.66 L26.79 141.24 L26.93 164.82 L27.07 137.92 L27.21 158.10 L83.72 158.10 L83.72 188.50 L83.96 177.93 L97.15 177.93 L97.15 177.22 L97.31 141.00 L97.51 161.49 L97.71 148.13 L97.95 165.64 L98.15 160.00 L98.45 167.72 L110.17 167.72 L110.17 177.22 L110.33 124.38 L110.53 139.87 L110.73 134.00 L110.97 147.36 L111.17 150.03 L111.48 151.10 L123.20 151.10 L123.20 188.50 L123.44 177.93 L136.63 177.93 L136.63 177.22 L136.79 138.63 L136.99 161.49 L137.19 146.11 L137.43 165.64 L137.63 158.58 L137.93 167.72 L150.45 167.72 L150.45 177.22 L150.61 124.38 L150.81 139.87 L151.01 134.00 L151.25 147.36 L151.46 150.03 L151.76 151.10 L162.68 151.10 L162.68 188.50 L162.92 177.93 L165.28 177.93" stroke="#ff9c1e" stroke-width="1.15" fill="none" stroke-linejoin="round"/>
<path d="M243.80 189.30 L244.40 188.95 L245.00 188.52 L245.60 188.28 L246.20 187.91 L246.80 187.42 L247.39 186.99 L247.99 186.63 L248.59 186.22 L249.19 185.84 L249.79 185.58 L250.39 185.30 L250.99 184.98 L251.59 184.75 L252.19 184.37 L252.79 184.04 L253.39 183.78 L253.98 183.46 L254.58 183.02 L255.18 182.75 L255.78 182.36 L256.38 182.00 L256.98 181.50 L257.58 181.14 L258.18 180.93 L258.78 180.54 L259.38 180.11 L259.98 179.78 L260.57 179.54 L261.17 179.08 L261.77 178.69 L262.37 178.46 L262.97 178.23 L263.57 177.90 L264.17 177.40 L264.77 177.13 L265.37 176.88 L265.97 176.36 L266.57 176.05 L267.16 175.81 L267.76 175.42 L268.36 175.12 L268.96 174.72 L269.56 174.52 L270.16 174.24 L270.76 173.89 L271.36 173.63 L271.96 173.24 L272.56 172.91 L273.16 172.58 L273.75 172.30 L274.35 171.95 L274.95 171.51 L275.55 171.08 L276.15 170.78 L276.75 170.33 L277.35 169.96 L277.95 169.59 L278.55 169.21 L279.15 168.81 L279.75 168.47 L280.34 168.21 L280.94 167.82 L281.54 167.58 L282.14 167.18 L282.74 166.73 L283.34 166.35 L283.94 165.97 L284.54 165.70 L285.14 165.45 L285.74 165.01 L286.34 164.67 L286.93 164.47 L287.53 164.24 L288.13 163.79 L288.73 163.46 L289.33 163.09 L289.93 162.72 L290.53 162.31 L291.13 161.91 L291.73 161.53 L292.33 161.28 L292.93 161.05 L293.52 160.75 L294.12 160.28 L294.72 159.93 L295.32 159.54 L295.92 159.19 L296.52 158.79 L297.12 158.38 L297.72 157.98 L298.32 157.53 L298.92 157.34 L299.52 156.88 L300.11 156.61 L300.71 156.42 L301.31 156.32 L301.91 156.11 L302.51 156.02 L303.11 155.91 L303.71 155.71 L304.31 155.54 L304.91 155.37 L305.51 155.17 L306.11 155.06 L306.70 154.86 L307.30 154.68 L307.90 154.56 L308.50 154.37 L309.10 154.21 L309.70 154.05 L310.30 153.91 L310.90 153.81 L311.50 153.66 L312.10 153.55 L312.70 153.35 L313.29 153.13 L313.89 152.91 L314.49 152.70 L315.09 152.42 L315.69 152.30 L316.29 152.08 L316.89 151.94 L317.49 151.63 L318.09 151.51 L318.69 151.23 L319.29 151.00 L319.88 150.87 L320.48 150.72 L321.08 150.48 L321.68 150.23 L322.28 150.02 L322.88 149.73 L323.48 149.41 L324.08 148.87 L324.68 148.55 L325.28 148.13 L325.88 147.69 L326.47 147.31 L327.07 146.91 L327.67 146.63 L328.27 146.29 L328.87 145.63 L329.47 145.22 L330.07 144.87 L330.67 144.52 L331.27 144.21 L331.87 143.92 L332.47 143.63 L333.06 143.25 L333.66 142.69 L334.26 142.37 L334.86 141.72 L335.46 141.27 L336.06 140.86 L336.66 140.59 L337.26 139.98 L337.86 139.86 L338.46 139.80 L339.06 139.66 L339.65 139.57 L340.25 139.45 L340.85 139.31 L341.45 139.17 L342.05 139.07 L342.65 138.96 L343.25 138.84 L343.85 138.76 L344.45 138.64 L345.05 138.57 L345.65 138.48 L346.24 138.39 L346.84 138.32 L347.44 138.24 L348.04 138.19 L348.64 138.01 L349.24 137.75 L349.84 137.50 L350.44 137.32 L351.04 137.08 L351.64 136.94 L352.24 136.72 L352.83 136.40 L353.43 136.19 L354.03 136.02 L354.63 135.76 L355.23 135.57 L355.83 135.43 L356.43 135.23 L357.03 135.10 L357.63 134.97 L358.23 134.77 L358.83 134.53 L359.42 134.31 L360.02 134.00 L360.62 133.72 L361.22 133.26 L361.82 132.79 L362.42 132.44 L363.02 131.88 L363.62 131.52 L364.22 131.08 L364.82 130.76 L365.42 130.31 L366.01 129.75 L366.61 129.46 L367.21 129.17 L367.81 128.89 L368.41 128.27 L369.01 127.84 L369.61 127.56 L370.21 127.31 L370.81 126.78 L371.41 126.51 L372.01 126.22 L372.60 125.65 L373.20 125.40 L373.80 124.80 L374.40 124.20 L375.00 124.16 L375.60 124.16" stroke="#3a3a3a" stroke-width="1.05" fill="none" stroke-linejoin="round"/>
<path d="M243.80 189.30 L244.40 188.96 L245.00 188.53 L245.60 188.30 L246.20 187.93 L246.80 187.44 L247.39 187.02 L247.99 186.66 L248.59 186.25 L249.19 185.88 L249.79 185.63 L250.39 185.35 L250.99 185.03 L251.59 184.81 L252.19 184.43 L252.79 184.10 L253.39 183.84 L253.98 183.53 L254.58 183.09 L255.18 182.83 L255.78 182.44 L256.38 182.09 L256.98 181.59 L257.58 181.24 L258.18 181.03 L258.78 180.64 L259.38 180.22 L259.98 179.89 L260.57 179.66 L261.17 179.21 L261.77 178.82 L262.37 178.58 L262.97 178.36 L263.57 178.03 L264.17 177.54 L264.77 177.27 L265.37 177.03 L265.97 176.51 L266.57 176.21 L267.16 175.97 L267.76 175.58 L268.36 175.29 L268.96 174.89 L269.56 174.70 L270.16 174.42 L270.76 174.07 L271.36 173.82 L271.96 173.43 L272.56 173.11 L273.16 172.78 L273.75 172.50 L274.35 172.16 L274.95 171.72 L275.55 171.30 L276.15 171.00 L276.75 170.56 L277.35 170.19 L277.95 169.82 L278.55 169.45 L279.15 169.05 L279.75 168.72 L280.34 168.46 L280.94 168.08 L281.54 167.84 L282.14 167.44 L282.74 167.00 L283.34 166.62 L283.94 166.24 L284.54 165.98 L285.14 165.73 L285.74 165.30 L286.34 164.96 L286.93 164.76 L287.53 164.53 L288.13 164.09 L288.73 163.77 L289.33 163.40 L289.93 163.03 L290.53 162.63 L291.13 162.23 L291.73 161.86 L292.33 161.62 L292.93 161.39 L293.52 161.09 L294.12 160.62 L294.72 160.28 L295.32 159.90 L295.92 159.55 L296.52 159.15 L297.12 158.75 L297.72 158.35 L298.32 157.91 L298.92 157.72 L299.52 157.26 L300.11 157.00 L300.71 156.81 L301.31 156.71 L301.91 156.51 L302.51 156.42 L303.11 156.31 L303.71 156.10 L304.31 155.94 L304.91 155.77 L305.51 155.57 L306.11 155.47 L306.70 155.26 L307.30 155.09 L307.90 154.97 L308.50 154.78 L309.10 154.62 L309.70 154.46 L310.30 154.33 L310.90 154.24 L311.50 154.08 L312.10 153.98 L312.70 153.78 L313.29 153.56 L313.89 153.35 L314.49 153.14 L315.09 152.86 L315.69 152.74 L316.29 152.53 L316.89 152.38 L317.49 152.08 L318.09 151.95 L318.69 151.68 L319.29 151.45 L319.88 151.33 L320.48 151.18 L321.08 150.94 L321.68 150.69 L322.28 150.48 L322.88 150.20 L323.48 149.88 L324.08 149.35 L324.68 149.03 L325.28 148.62 L325.88 148.18 L326.47 147.80 L327.07 147.41 L327.67 147.14 L328.27 146.80 L328.87 146.15 L329.47 145.74 L330.07 145.40 L330.67 145.05 L331.27 144.75 L331.87 144.45 L332.47 144.17 L333.06 143.79 L333.66 143.25 L334.26 142.93 L334.86 142.28 L335.46 141.83 L336.06 141.44 L336.66 141.17 L337.26 140.56 L337.86 140.45 L338.46 140.38 L339.06 140.25 L339.65 140.16 L340.25 140.04 L340.85 139.90 L341.45 139.76 L342.05 139.66 L342.65 139.56 L343.25 139.44 L343.85 139.36 L344.45 139.24 L345.05 139.17 L345.65 139.08 L346.24 139.00 L346.84 138.93 L347.44 138.85 L348.04 138.79 L348.64 138.61 L349.24 138.36 L349.84 138.12 L350.44 137.94 L351.04 137.70 L351.64 137.56 L352.24 137.34 L352.83 137.03 L353.43 136.82 L354.03 136.65 L354.63 136.40 L355.23 136.21 L355.83 136.07 L356.43 135.87 L357.03 135.74 L357.63 135.62 L358.23 135.42 L358.83 135.18 L359.42 134.96 L360.02 134.65 L360.62 134.38 L361.22 133.92 L361.82 133.46 L362.42 133.12 L363.02 132.56 L363.62 132.20 L364.22 131.77 L364.82 131.46 L365.42 131.01 L366.01 130.46 L366.61 130.17 L367.21 129.89 L367.81 129.60 L368.41 129.00 L369.01 128.57 L369.61 128.29 L370.21 128.04 L370.81 127.52 L371.41 127.25 L372.01 126.97 L372.60 126.41 L373.20 126.16 L373.80 125.57 L374.40 124.97 L375.00 124.93 L375.60 124.93" stroke="#4450f0" stroke-width="1.05" fill="none" stroke-linejoin="round"/>
<path d="M243.80 189.30 L244.40 188.97 L245.00 188.57 L245.60 188.34 L246.20 188.00 L246.80 187.53 L247.39 187.13 L247.99 186.79 L248.59 186.40 L249.19 186.05 L249.79 185.80 L250.39 185.54 L250.99 185.23 L251.59 185.02 L252.19 184.67 L252.79 184.35 L253.39 184.10 L253.98 183.80 L254.58 183.39 L255.18 183.14 L255.78 182.77 L256.38 182.43 L256.98 181.96 L257.58 181.63 L258.18 181.42 L258.78 181.06 L259.38 180.65 L259.98 180.35 L260.57 180.12 L261.17 179.69 L261.77 179.32 L262.37 179.10 L262.97 178.88 L263.57 178.57 L264.17 178.10 L264.77 177.85 L265.37 177.62 L265.97 177.12 L266.57 176.84 L267.16 176.61 L267.76 176.24 L268.36 175.96 L268.96 175.58 L269.56 175.40 L270.16 175.13 L270.76 174.80 L271.36 174.56 L271.96 174.19 L272.56 173.88 L273.16 173.57 L273.75 173.31 L274.35 172.98 L274.95 172.56 L275.55 172.16 L276.15 171.88 L276.75 171.46 L277.35 171.10 L277.95 170.76 L278.55 170.40 L279.15 170.02 L279.75 169.71 L280.34 169.46 L280.94 169.09 L281.54 168.87 L282.14 168.49 L282.74 168.07 L283.34 167.71 L283.94 167.35 L284.54 167.10 L285.14 166.86 L285.74 166.45 L286.34 166.13 L286.93 165.94 L287.53 165.72 L288.13 165.30 L288.73 164.99 L289.33 164.64 L289.93 164.29 L290.53 163.91 L291.13 163.53 L291.73 163.18 L292.33 162.95 L292.93 162.73 L293.52 162.45 L294.12 162.00 L294.72 161.67 L295.32 161.31 L295.92 160.98 L296.52 160.60 L297.12 160.22 L297.72 159.84 L298.32 159.42 L298.92 159.23 L299.52 158.80 L300.11 158.55 L300.71 158.37 L301.31 158.27 L301.91 158.08 L302.51 157.99 L303.11 157.89 L303.71 157.70 L304.31 157.54 L304.91 157.38 L305.51 157.19 L306.11 157.09 L306.70 156.90 L307.30 156.73 L307.90 156.62 L308.50 156.44 L309.10 156.29 L309.70 156.14 L310.30 156.00 L310.90 155.92 L311.50 155.77 L312.10 155.67 L312.70 155.48 L313.29 155.27 L313.89 155.07 L314.49 154.87 L315.09 154.61 L315.69 154.49 L316.29 154.29 L316.89 154.15 L317.49 153.86 L318.09 153.75 L318.69 153.49 L319.29 153.27 L319.88 153.15 L320.48 153.01 L321.08 152.78 L321.68 152.55 L322.28 152.35 L322.88 152.08 L323.48 151.77 L324.08 151.27 L324.68 150.96 L325.28 150.57 L325.88 150.16 L326.47 149.79 L327.07 149.42 L327.67 149.16 L328.27 148.84 L328.87 148.22 L329.47 147.83 L330.07 147.50 L330.67 147.18 L331.27 146.89 L331.87 146.61 L332.47 146.33 L333.06 145.98 L333.66 145.46 L334.26 145.15 L334.86 144.54 L335.46 144.11 L336.06 143.74 L336.66 143.48 L337.26 142.90 L337.86 142.79 L338.46 142.73 L339.06 142.60 L339.65 142.52 L340.25 142.40 L340.85 142.27 L341.45 142.14 L342.05 142.04 L342.65 141.95 L343.25 141.83 L343.85 141.76 L344.45 141.64 L345.05 141.58 L345.65 141.49 L346.24 141.41 L346.84 141.34 L347.44 141.27 L348.04 141.22 L348.64 141.05 L349.24 140.81 L349.84 140.57 L350.44 140.41 L351.04 140.17 L351.64 140.04 L352.24 139.84 L352.83 139.54 L353.43 139.34 L354.03 139.18 L354.63 138.94 L355.23 138.76 L355.83 138.63 L356.43 138.44 L357.03 138.31 L357.63 138.19 L358.23 138.00 L358.83 137.78 L359.42 137.57 L360.02 137.28 L360.62 137.01 L361.22 136.58 L361.82 136.14 L362.42 135.81 L363.02 135.28 L363.62 134.94 L364.22 134.53 L364.82 134.23 L365.42 133.80 L366.01 133.28 L366.61 133.01 L367.21 132.74 L367.81 132.47 L368.41 131.89 L369.01 131.48 L369.61 131.22 L370.21 130.98 L370.81 130.49 L371.41 130.23 L372.01 129.96 L372.60 129.43 L373.20 129.19 L373.80 128.63 L374.40 128.06 L375.00 128.02 L375.60 128.02" stroke="#3f9a50" stroke-width="1.05" fill="none" stroke-linejoin="round"/>
<path d="M243.80 189.30 L244.40 188.98 L245.00 188.59 L245.60 188.37 L246.20 188.03 L246.80 187.57 L247.39 187.18 L247.99 186.84 L248.59 186.47 L249.19 186.12 L249.79 185.89 L250.39 185.62 L250.99 185.33 L251.59 185.12 L252.19 184.77 L252.79 184.46 L253.39 184.22 L253.98 183.93 L254.58 183.53 L255.18 183.28 L255.78 182.92 L256.38 182.59 L256.98 182.13 L257.58 181.80 L258.18 181.61 L258.78 181.25 L259.38 180.85 L259.98 180.55 L260.57 180.33 L261.17 179.91 L261.77 179.55 L262.37 179.33 L262.97 179.13 L263.57 178.82 L264.17 178.36 L264.77 178.11 L265.37 177.89 L265.97 177.41 L266.57 177.13 L267.16 176.90 L267.76 176.54 L268.36 176.27 L268.96 175.90 L269.56 175.72 L270.16 175.46 L270.76 175.14 L271.36 174.90 L271.96 174.54 L272.56 174.24 L273.16 173.93 L273.75 173.68 L274.35 173.36 L274.95 172.95 L275.55 172.56 L276.15 172.28 L276.75 171.87 L277.35 171.52 L277.95 171.19 L278.55 170.84 L279.15 170.47 L279.75 170.16 L280.34 169.92 L280.94 169.56 L281.54 169.34 L282.14 168.97 L282.74 168.56 L283.34 168.21 L283.94 167.86 L284.54 167.61 L285.14 167.38 L285.74 166.98 L286.34 166.66 L286.93 166.48 L287.53 166.27 L288.13 165.86 L288.73 165.56 L289.33 165.21 L289.93 164.87 L290.53 164.50 L291.13 164.13 L291.73 163.78 L292.33 163.55 L292.93 163.34 L293.52 163.07 L294.12 162.63 L294.72 162.31 L295.32 161.96 L295.92 161.63 L296.52 161.26 L297.12 160.89 L297.72 160.52 L298.32 160.11 L298.92 159.93 L299.52 159.50 L300.11 159.26 L300.71 159.08 L301.31 158.99 L301.91 158.80 L302.51 158.72 L303.11 158.62 L303.71 158.43 L304.31 158.27 L304.91 158.12 L305.51 157.93 L306.11 157.83 L306.70 157.65 L307.30 157.49 L307.90 157.38 L308.50 157.20 L309.10 157.05 L309.70 156.90 L310.30 156.77 L310.90 156.69 L311.50 156.55 L312.10 156.45 L312.70 156.26 L313.29 156.06 L313.89 155.86 L314.49 155.67 L315.09 155.41 L315.69 155.30 L316.29 155.10 L316.89 154.97 L317.49 154.68 L318.09 154.57 L318.69 154.32 L319.29 154.10 L319.88 153.99 L320.48 153.85 L321.08 153.63 L321.68 153.40 L322.28 153.20 L322.88 152.94 L323.48 152.64 L324.08 152.15 L324.68 151.85 L325.28 151.47 L325.88 151.06 L326.47 150.71 L327.07 150.34 L327.67 150.09 L328.27 149.78 L328.87 149.17 L329.47 148.79 L330.07 148.47 L330.67 148.15 L331.27 147.87 L331.87 147.59 L332.47 147.33 L333.06 146.98 L333.66 146.47 L334.26 146.17 L334.86 145.58 L335.46 145.16 L336.06 144.79 L336.66 144.54 L337.26 143.97 L337.86 143.87 L338.46 143.81 L339.06 143.68 L339.65 143.60 L340.25 143.49 L340.85 143.36 L341.45 143.23 L342.05 143.14 L342.65 143.04 L343.25 142.93 L343.85 142.86 L344.45 142.74 L345.05 142.68 L345.65 142.60 L346.24 142.52 L346.84 142.45 L347.44 142.38 L348.04 142.33 L348.64 142.16 L349.24 141.93 L349.84 141.70 L350.44 141.54 L351.04 141.31 L351.64 141.18 L352.24 140.98 L352.83 140.69 L353.43 140.49 L354.03 140.34 L354.63 140.10 L355.23 139.92 L355.83 139.80 L356.43 139.61 L357.03 139.49 L357.63 139.37 L358.23 139.19 L358.83 138.97 L359.42 138.76 L360.02 138.48 L360.62 138.22 L361.22 137.80 L361.82 137.37 L362.42 137.05 L363.02 136.53 L363.62 136.20 L364.22 135.80 L364.82 135.51 L365.42 135.09 L366.01 134.58 L366.61 134.31 L367.21 134.04 L367.81 133.78 L368.41 133.22 L369.01 132.82 L369.61 132.56 L370.21 132.33 L370.81 131.85 L371.41 131.59 L372.01 131.33 L372.60 130.81 L373.20 130.58 L373.80 130.03 L374.40 129.47 L375.00 129.44 L375.60 129.44" stroke="#c8c8c8" stroke-width="1.05" fill="none" stroke-linejoin="round"/>
<path d="M243.80 189.30 L244.40 189.04 L245.00 188.71 L245.60 188.53 L246.20 188.25 L246.80 187.88 L247.39 187.55 L247.99 187.28 L248.59 186.97 L249.19 186.69 L249.79 186.49 L250.39 186.28 L250.99 186.03 L251.59 185.86 L252.19 185.58 L252.79 185.32 L253.39 185.12 L253.98 184.88 L254.58 184.55 L255.18 184.35 L255.78 184.05 L256.38 183.78 L256.98 183.40 L257.58 183.13 L258.18 182.97 L258.78 182.68 L259.38 182.35 L259.98 182.11 L260.57 181.92 L261.17 181.58 L261.77 181.28 L262.37 181.10 L262.97 180.93 L263.57 180.68 L264.17 180.30 L264.77 180.10 L265.37 179.91 L265.97 179.52 L266.57 179.29 L267.16 179.10 L267.76 178.81 L268.36 178.58 L268.96 178.28 L269.56 178.13 L270.16 177.91 L270.76 177.65 L271.36 177.45 L271.96 177.16 L272.56 176.91 L273.16 176.66 L273.75 176.45 L274.35 176.18 L274.95 175.85 L275.55 175.53 L276.15 175.30 L276.75 174.96 L277.35 174.68 L277.95 174.40 L278.55 174.11 L279.15 173.81 L279.75 173.56 L280.34 173.36 L280.94 173.06 L281.54 172.88 L282.14 172.58 L282.74 172.24 L283.34 171.95 L283.94 171.66 L284.54 171.46 L285.14 171.27 L285.74 170.94 L286.34 170.68 L286.93 170.53 L287.53 170.35 L288.13 170.02 L288.73 169.77 L289.33 169.49 L289.93 169.21 L290.53 168.90 L291.13 168.59 L291.73 168.31 L292.33 168.12 L292.93 167.95 L293.52 167.72 L294.12 167.36 L294.72 167.10 L295.32 166.81 L295.92 166.54 L296.52 166.24 L297.12 165.93 L297.72 165.62 L298.32 165.29 L298.92 165.14 L299.52 164.79 L300.11 164.59 L300.71 164.44 L301.31 164.37 L301.91 164.21 L302.51 164.14 L303.11 164.06 L303.71 163.91 L304.31 163.78 L304.91 163.65 L305.51 163.50 L306.11 163.42 L306.70 163.26 L307.30 163.13 L307.90 163.04 L308.50 162.89 L309.10 162.77 L309.70 162.65 L310.30 162.54 L310.90 162.48 L311.50 162.36 L312.10 162.28 L312.70 162.12 L313.29 161.96 L313.89 161.80 L314.49 161.63 L315.09 161.42 L315.69 161.33 L316.29 161.17 L316.89 161.06 L317.49 160.82 L318.09 160.73 L318.69 160.52 L319.29 160.35 L319.88 160.25 L320.48 160.14 L321.08 159.96 L321.68 159.77 L322.28 159.60 L322.88 159.39 L323.48 159.15 L324.08 158.74 L324.68 158.49 L325.28 158.18 L325.88 157.84 L326.47 157.55 L327.07 157.26 L327.67 157.04 L328.27 156.79 L328.87 156.29 L329.47 155.98 L330.07 155.71 L330.67 155.45 L331.27 155.22 L331.87 154.99 L332.47 154.77 L333.06 154.49 L333.66 154.07 L334.26 153.82 L334.86 153.33 L335.46 152.99 L336.06 152.69 L336.66 152.48 L337.26 152.01 L337.86 151.93 L338.46 151.88 L339.06 151.78 L339.65 151.71 L340.25 151.62 L340.85 151.51 L341.45 151.40 L342.05 151.33 L342.65 151.25 L343.25 151.16 L343.85 151.10 L344.45 151.00 L345.05 150.95 L345.65 150.88 L346.24 150.82 L346.84 150.76 L347.44 150.71 L348.04 150.66 L348.64 150.52 L349.24 150.33 L349.84 150.14 L350.44 150.01 L351.04 149.82 L351.64 149.72 L352.24 149.55 L352.83 149.31 L353.43 149.15 L354.03 149.02 L354.63 148.83 L355.23 148.68 L355.83 148.58 L356.43 148.43 L357.03 148.33 L357.63 148.23 L358.23 148.08 L358.83 147.90 L359.42 147.73 L360.02 147.50 L360.62 147.28 L361.22 146.93 L361.82 146.58 L362.42 146.32 L363.02 145.89 L363.62 145.62 L364.22 145.29 L364.82 145.05 L365.42 144.70 L366.01 144.29 L366.61 144.07 L367.21 143.85 L367.81 143.63 L368.41 143.17 L369.01 142.84 L369.61 142.63 L370.21 142.44 L370.81 142.04 L371.41 141.83 L372.01 141.62 L372.60 141.19 L373.20 141.00 L373.80 140.55 L374.40 140.09 L375.00 140.06 L375.60 140.06" stroke="#cc4650" stroke-width="1.05" fill="none" stroke-linejoin="round"/>
<path d="M243.80 189.30 L244.40 188.99 L245.00 188.61 L245.60 188.40 L246.20 188.08 L246.80 187.63 L247.39 187.26 L247.99 186.94 L248.59 186.57 L249.19 186.24 L249.79 186.01 L250.39 185.76 L250.99 185.48 L251.59 185.28 L252.19 184.94 L252.79 184.64 L253.39 184.41 L253.98 184.13 L254.58 183.74 L255.18 183.51 L255.78 183.16 L256.38 182.84 L256.98 182.40 L257.58 182.09 L258.18 181.90 L258.78 181.55 L259.38 181.17 L259.98 180.88 L260.57 180.67 L261.17 180.27 L261.77 179.92 L262.37 179.71 L262.97 179.51 L263.57 179.22 L264.17 178.77 L264.77 178.54 L265.37 178.32 L265.97 177.85 L266.57 177.59 L267.16 177.37 L267.76 177.02 L268.36 176.76 L268.96 176.40 L269.56 176.23 L270.16 175.98 L270.76 175.67 L271.36 175.44 L271.96 175.10 L272.56 174.81 L273.16 174.51 L273.75 174.27 L274.35 173.96 L274.95 173.57 L275.55 173.19 L276.15 172.92 L276.75 172.53 L277.35 172.19 L277.95 171.87 L278.55 171.53 L279.15 171.17 L279.75 170.88 L280.34 170.65 L280.94 170.30 L281.54 170.09 L282.14 169.73 L282.74 169.34 L283.34 169.00 L283.94 168.66 L284.54 168.43 L285.14 168.20 L285.74 167.82 L286.34 167.51 L286.93 167.34 L287.53 167.13 L288.13 166.74 L288.73 166.45 L289.33 166.12 L289.93 165.79 L290.53 165.43 L291.13 165.07 L291.73 164.74 L292.33 164.52 L292.93 164.32 L293.52 164.06 L294.12 163.63 L294.72 163.33 L295.32 162.98 L295.92 162.68 L296.52 162.32 L297.12 161.96 L297.72 161.60 L298.32 161.21 L298.92 161.03 L299.52 160.63 L300.11 160.39 L300.71 160.22 L301.31 160.13 L301.91 159.95 L302.51 159.87 L303.11 159.77 L303.71 159.59 L304.31 159.44 L304.91 159.29 L305.51 159.11 L306.11 159.02 L306.70 158.84 L307.30 158.68 L307.90 158.58 L308.50 158.41 L309.10 158.26 L309.70 158.12 L310.30 158.00 L310.90 157.92 L311.50 157.78 L312.10 157.69 L312.70 157.51 L313.29 157.31 L313.89 157.12 L314.49 156.93 L315.09 156.69 L315.69 156.58 L316.29 156.39 L316.89 156.26 L317.49 155.99 L318.09 155.88 L318.69 155.63 L319.29 155.42 L319.88 155.31 L320.48 155.18 L321.08 154.97 L321.68 154.75 L322.28 154.56 L322.88 154.31 L323.48 154.02 L324.08 153.55 L324.68 153.26 L325.28 152.89 L325.88 152.50 L326.47 152.16 L327.07 151.81 L327.67 151.56 L328.27 151.26 L328.87 150.68 L329.47 150.31 L330.07 150.01 L330.67 149.70 L331.27 149.43 L331.87 149.16 L332.47 148.91 L333.06 148.57 L333.66 148.08 L334.26 147.79 L334.86 147.22 L335.46 146.82 L336.06 146.46 L336.66 146.22 L337.26 145.68 L337.86 145.58 L338.46 145.52 L339.06 145.40 L339.65 145.32 L340.25 145.21 L340.85 145.09 L341.45 144.96 L342.05 144.87 L342.65 144.78 L343.25 144.67 L343.85 144.60 L344.45 144.49 L345.05 144.43 L345.65 144.35 L346.24 144.28 L346.84 144.22 L347.44 144.15 L348.04 144.09 L348.64 143.94 L349.24 143.71 L349.84 143.49 L350.44 143.33 L351.04 143.12 L351.64 142.99 L352.24 142.80 L352.83 142.52 L353.43 142.33 L354.03 142.18 L354.63 141.95 L355.23 141.78 L355.83 141.66 L356.43 141.48 L357.03 141.36 L357.63 141.25 L358.23 141.08 L358.83 140.86 L359.42 140.66 L360.02 140.39 L360.62 140.14 L361.22 139.74 L361.82 139.32 L362.42 139.02 L363.02 138.52 L363.62 138.20 L364.22 137.81 L364.82 137.53 L365.42 137.13 L366.01 136.64 L366.61 136.38 L367.21 136.12 L367.81 135.87 L368.41 135.33 L369.01 134.94 L369.61 134.70 L370.21 134.48 L370.81 134.01 L371.41 133.77 L372.01 133.51 L372.60 133.01 L373.20 132.79 L373.80 132.26 L374.40 131.73 L375.00 131.69 L375.60 131.69" stroke="#ff9c1e" stroke-width="1.05" fill="none" stroke-linejoin="round"/>
<path d="M23.50 284.52 L23.90 272.19 L24.05 277.52 L24.60 292.26 L25.15 291.28 L25.70 296.83 L26.25 285.62 L26.80 296.82 L27.35 274.45 L27.40 272.12 L27.90 286.41 L28.45 297.67 L29.00 282.99 L29.55 293.92 L30.10 290.14 L30.65 294.05 L30.80 288.95 L31.20 293.22 L31.75 293.62 L32.30 292.84 L32.85 286.81 L33.30 273.38 L33.40 276.63 L33.95 293.04 L34.50 293.24 L35.05 298.05 L35.60 276.82 L35.70 272.77 L36.15 286.25 L36.70 296.69 L37.25 291.27 L37.80 287.21 L38.00 269.18 L38.35 296.94 L38.90 285.02 L39.45 291.43 L39.60 266.04 L40.00 291.61 L40.55 283.62 L41.00 267.49 L41.10 273.88 L41.65 291.88 L42.20 293.47 L42.75 292.48 L43.10 271.58 L43.30 292.12 L43.85 293.17 L44.40 297.14 L44.90 263.58 L44.95 297.72 L45.50 286.82 L46.05 293.65 L46.60 290.51 L47.15 297.96 L47.40 257.14 L47.70 296.54 L47.80 262.29 L48.25 297.35 L48.80 289.05 L49.35 293.55 L49.90 293.70 L50.45 297.62 L51.00 287.75 L51.30 282.47 L51.55 287.28 L52.10 294.66 L52.65 285.12 L53.20 292.71 L53.75 291.93 L54.30 290.93 L54.85 286.02 L55.20 277.17 L55.40 283.01 L55.95 290.39 L56.50 292.04 L57.05 293.47 L57.60 293.72 L58.15 292.55 L58.70 272.38 L58.80 268.41 L59.25 284.30 L59.80 293.97 L60.35 293.62 L60.90 293.54 L61.45 291.30 L62.00 291.85 L62.55 290.49 L63.10 278.42 L63.65 290.14 L64.20 297.92 L64.75 276.29 L65.00 267.71 L65.30 280.44 L65.85 296.70 L66.40 292.34 L66.95 294.59 L67.50 292.34 L68.05 291.62 L68.60 272.21 L69.15 293.51 L69.70 293.63 L70.25 294.26 L70.80 280.95 L70.90 278.12 L71.35 288.16 L71.90 293.80 L72.45 274.66 L72.90 255.02 L73.00 264.45 L73.55 297.16 L74.10 293.70 L74.65 293.74 L75.20 282.02 L75.75 295.82 L75.80 265.82 L76.30 283.57 L76.85 271.74 L77.20 256.16 L77.40 265.01 L77.95 285.33 L78.50 272.76 L79.05 280.21 L79.10 245.25 L79.60 285.04 L80.15 278.85 L80.70 269.42 L81.25 282.15 L81.80 287.44 L82.30 274.54 L82.35 287.48 L82.90 285.13 L83.45 287.79 L84.00 266.74 L84.20 259.47 L84.55 272.46 L85.10 288.38 L85.65 283.74 L86.20 288.01 L86.60 275.18 L86.75 287.85 L87.30 284.70 L87.85 286.82 L88.40 278.73 L88.95 283.66 L89.50 283.30 L90.05 284.27 L90.50 263.74 L90.60 282.82 L91.15 282.76 L91.70 285.45 L92.25 278.24 L92.50 272.77 L92.80 278.47 L93.35 288.90 L93.90 285.17 L94.45 285.94 L95.00 287.09 L95.55 287.83 L95.90 273.74 L96.10 288.03 L96.65 286.57 L97.20 288.14 L97.75 287.10 L98.30 297.61 L98.85 281.17 L99.40 256.32 L99.95 281.33 L100.50 292.18 L101.05 289.92 L101.60 297.72 L102.15 254.23 L102.20 248.44 L102.70 276.14 L103.25 294.38 L103.80 291.73 L104.35 293.46 L104.90 287.62 L105.45 285.47 L105.70 247.77 L106.00 290.09 L106.55 268.22 L106.70 261.64 L107.10 278.31 L107.65 294.24 L108.20 292.23 L108.75 293.89 L109.30 279.59 L109.60 268.66 L109.85 278.16 L110.40 293.29 L110.95 284.96 L111.50 297.61 L112.05 293.67 L112.60 291.35 L113.10 265.37 L113.15 290.21 L113.70 287.45 L114.25 293.63 L114.80 286.41 L115.35 297.52 L115.50 265.80 L115.90 297.34 L116.45 290.12 L117.00 292.43 L117.55 293.66 L118.10 290.39 L118.40 262.96 L118.65 297.72 L119.20 292.81 L119.75 293.54 L120.30 283.17 L120.85 281.76 L121.40 266.07 L121.80 252.32 L121.95 258.46 L122.50 295.49 L123.05 267.01 L123.30 256.57 L123.60 267.48 L124.15 284.30 L124.70 271.25 L124.90 266.48 L125.25 275.34 L125.80 280.54 L126.35 273.61 L126.90 276.61 L127.20 235.50 L127.45 272.74 L128.00 271.89 L128.55 281.32 L129.10 262.53 L129.20 255.26 L129.65 269.91 L130.20 282.20 L130.75 271.84 L131.30 286.51 L131.85 268.94 L132.10 260.64 L132.40 269.89 L132.95 281.14 L133.50 283.20 L134.05 283.00 L134.60 268.84 L134.70 263.25 L135.15 275.02 L135.70 294.74 L136.25 277.48 L136.80 282.01 L137.35 275.66 L137.90 272.94 L138.00 251.09 L138.45 280.66 L139.00 274.69 L139.55 283.32 L140.10 268.04 L140.60 250.22 L140.65 254.96 L141.20 297.22 L141.75 271.52 L142.30 282.59 L142.85 274.08 L143.40 281.85 L143.90 241.54 L143.95 278.17 L144.50 269.32 L145.05 283.89 L145.60 268.71 L145.80 260.59 L146.15 271.84 L146.70 286.90 L147.25 275.20 L147.80 295.24 L148.35 273.61 L148.80 258.94 L148.90 265.04 L149.45 285.61 L150.00 286.92 L150.55 287.76 L151.10 275.75 L151.65 287.58 L151.70 249.13 L152.20 296.24 L152.75 275.90 L153.30 288.88 L153.85 284.43 L154.40 285.12 L154.95 257.74 L155.00 250.36 L155.50 273.65 L156.05 288.08 L156.20 259.61 L156.60 281.28 L157.15 283.72 L157.70 285.35 L158.25 282.37 L158.80 295.16 L159.00 254.47 L159.35 283.35 L159.90 284.69 L160.45 289.57 L161.00 280.16 L161.50 265.99 L161.55 267.85 L162.10 283.67 L162.65 286.65 L163.20 282.96 L163.50 270.69 L163.75 286.81" stroke="#3a3a3a" stroke-width="0.5" fill="none" stroke-linejoin="round"/>
<path d="M23.50 284.45 L23.90 271.49 L24.05 277.08 L24.60 292.24 L25.15 291.04 L25.70 296.76 L26.25 285.40 L26.80 296.80 L27.35 273.83 L27.40 270.78 L27.90 286.01 L28.45 297.67 L29.00 282.82 L29.55 293.75 L30.10 290.03 L30.65 293.90 L30.80 288.73 L31.20 293.12 L31.75 293.56 L32.30 292.65 L32.85 286.33 L33.30 272.43 L33.40 276.24 L33.95 292.92 L34.50 293.15 L35.05 298.04 L35.60 276.04 L35.70 272.07 L36.15 285.99 L36.70 296.60 L37.25 291.00 L37.80 287.12 L38.00 268.18 L38.35 296.87 L38.90 284.71 L39.45 291.38 L39.60 265.65 L40.00 291.60 L40.55 283.19 L41.00 266.73 L41.10 273.27 L41.65 291.83 L42.20 293.39 L42.75 292.24 L43.10 270.29 L43.30 291.85 L43.85 293.08 L44.40 297.09 L44.90 262.48 L44.95 297.70 L45.50 286.36 L46.05 293.56 L46.60 290.33 L47.15 297.94 L47.40 255.86 L47.70 296.50 L47.80 261.60 L48.25 297.31 L48.80 288.77 L49.35 293.48 L49.90 293.47 L50.45 297.59 L51.00 287.33 L51.30 282.04 L51.55 287.11 L52.10 294.55 L52.65 284.89 L53.20 292.58 L53.75 291.69 L54.30 290.59 L54.85 285.88 L55.20 276.27 L55.40 282.49 L55.95 290.18 L56.50 291.83 L57.05 293.41 L57.60 293.54 L58.15 292.32 L58.70 271.10 L58.80 267.92 L59.25 284.01 L59.80 293.86 L60.35 293.60 L60.90 293.48 L61.45 291.00 L62.00 291.65 L62.55 290.38 L63.10 277.44 L63.65 290.04 L64.20 297.91 L64.75 276.03 L65.00 266.92 L65.30 279.97 L65.85 296.64 L66.40 292.24 L66.95 294.40 L67.50 292.11 L68.05 291.48 L68.60 271.35 L69.15 293.39 L69.70 293.55 L70.25 294.16 L70.80 280.50 L70.90 277.43 L71.35 287.78 L71.90 293.71 L72.45 274.61 L72.90 253.86 L73.00 263.39 L73.55 297.12 L74.10 293.60 L74.65 293.60 L75.20 281.92 L75.75 295.81 L75.80 265.31 L76.30 283.22 L76.85 271.12 L77.20 255.33 L77.40 263.85 L77.95 284.82 L78.50 272.13 L79.05 280.00 L79.10 244.32 L79.60 284.85 L80.15 278.29 L80.70 268.70 L81.25 281.99 L81.80 287.17 L82.30 273.93 L82.35 287.44 L82.90 284.53 L83.45 287.36 L84.00 266.55 L84.20 258.79 L84.55 271.93 L85.10 288.32 L85.65 283.00 L86.20 287.92 L86.60 274.59 L86.75 287.59 L87.30 284.27 L87.85 286.63 L88.40 278.29 L88.95 283.12 L89.50 282.75 L90.05 284.00 L90.50 262.25 L90.60 282.13 L91.15 282.39 L91.70 285.25 L92.25 277.69 L92.50 272.10 L92.80 278.52 L93.35 288.91 L93.90 284.79 L94.45 285.52 L95.00 286.60 L95.55 287.44 L95.90 273.26 L96.10 287.80 L96.65 286.18 L97.20 287.87 L97.75 286.84 L98.30 297.59 L98.85 281.14 L99.40 255.45 L99.95 281.04 L100.50 291.88 L101.05 289.78 L101.60 297.69 L102.15 253.17 L102.20 247.62 L102.70 275.62 L103.25 294.19 L103.80 291.45 L104.35 293.32 L104.90 287.27 L105.45 285.06 L105.70 247.16 L106.00 290.02 L106.55 268.07 L106.70 259.71 L107.10 277.82 L107.65 294.07 L108.20 292.04 L108.75 293.77 L109.30 278.69 L109.60 267.57 L109.85 277.16 L110.40 293.09 L110.95 284.64 L111.50 297.60 L112.05 293.55 L112.60 291.15 L113.10 264.37 L113.15 289.88 L113.70 287.31 L114.25 293.49 L114.80 286.09 L115.35 297.52 L115.50 264.29 L115.90 297.30 L116.45 290.04 L117.00 292.39 L117.55 293.61 L118.10 290.27 L118.40 262.24 L118.65 297.69 L119.20 292.55 L119.75 293.41 L120.30 282.89 L120.85 281.59 L121.40 265.95 L121.80 251.45 L121.95 257.92 L122.50 295.44 L123.05 266.66 L123.30 256.13 L123.60 266.87 L124.15 283.97 L124.70 270.22 L124.90 265.60 L125.25 274.74 L125.80 280.50 L126.35 272.88 L126.90 275.92 L127.20 234.23 L127.45 271.84 L128.00 271.54 L128.55 280.84 L129.10 262.01 L129.20 253.52 L129.65 269.07 L130.20 282.02 L130.75 270.86 L131.30 286.20 L131.85 268.48 L132.10 260.08 L132.40 269.46 L132.95 280.23 L133.50 282.76 L134.05 282.76 L134.60 267.78 L134.70 261.58 L135.15 274.68 L135.70 294.63 L136.25 276.69 L136.80 281.84 L137.35 274.83 L137.90 272.42 L138.00 250.11 L138.45 280.41 L139.00 274.47 L139.55 282.77 L140.10 267.32 L140.60 248.54 L140.65 253.64 L141.20 297.19 L141.75 270.73 L142.30 282.08 L142.85 273.73 L143.40 281.49 L143.90 240.28 L143.95 277.84 L144.50 268.15 L145.05 283.32 L145.60 267.90 L145.80 259.72 L146.15 270.49 L146.70 286.50 L147.25 274.04 L147.80 295.09 L148.35 272.81 L148.80 258.48 L148.90 265.03 L149.45 285.26 L150.00 286.65 L150.55 287.37 L151.10 275.03 L151.65 287.43 L151.70 247.59 L152.20 296.16 L152.75 275.27 L153.30 288.61 L153.85 284.26 L154.40 284.57 L154.95 256.59 L155.00 249.47 L155.50 272.99 L156.05 287.97 L156.20 258.59 L156.60 281.14 L157.15 283.39 L157.70 285.23 L158.25 282.00 L158.80 295.03 L159.00 254.09 L159.35 282.81 L159.90 284.35 L160.45 289.54 L161.00 279.88 L161.50 264.28 L161.55 267.15 L162.10 283.30 L162.65 286.34 L163.20 282.58 L163.50 270.08 L163.75 286.75" stroke="#4450f0" stroke-width="0.65" fill="none" stroke-linejoin="round"/>
<path d="M23.50 284.95 L23.90 272.98 L24.05 277.76 L24.60 292.51 L25.15 291.43 L25.70 296.88 L26.25 285.78 L26.80 296.89 L27.35 275.44 L27.40 272.67 L27.90 286.96 L28.45 297.71 L29.00 283.40 L29.55 294.03 L30.10 290.44 L30.65 294.12 L30.80 289.33 L31.20 293.31 L31.75 293.77 L32.30 293.05 L32.85 287.10 L33.30 273.56 L33.40 277.55 L33.95 293.18 L34.50 293.48 L35.05 298.06 L35.60 277.62 L35.70 273.29 L36.15 286.75 L36.70 296.70 L37.25 291.43 L37.80 287.63 L38.00 270.07 L38.35 296.98 L38.90 285.21 L39.45 291.76 L39.60 267.13 L40.00 291.87 L40.55 284.28 L41.00 268.80 L41.10 275.14 L41.65 292.09 L42.20 293.64 L42.75 292.60 L43.10 272.06 L43.30 292.22 L43.85 293.35 L44.40 297.15 L44.90 264.85 L44.95 297.74 L45.50 287.02 L46.05 293.79 L46.60 290.60 L47.15 297.97 L47.40 258.40 L47.70 296.58 L47.80 263.24 L48.25 297.36 L48.80 289.20 L49.35 293.82 L49.90 293.80 L50.45 297.64 L51.00 288.02 L51.30 283.25 L51.55 287.78 L52.10 294.80 L52.65 285.40 L53.20 292.90 L53.75 292.16 L54.30 291.16 L54.85 286.41 L55.20 277.65 L55.40 283.29 L55.95 290.63 L56.50 292.16 L57.05 293.71 L57.60 293.78 L58.15 292.81 L58.70 273.14 L58.80 269.45 L59.25 284.91 L59.80 294.19 L60.35 293.80 L60.90 293.76 L61.45 291.39 L62.00 292.15 L62.55 290.65 L63.10 278.87 L63.65 290.40 L64.20 297.94 L64.75 277.07 L65.00 268.55 L65.30 281.15 L65.85 296.76 L66.40 292.51 L66.95 294.68 L67.50 292.54 L68.05 291.85 L68.60 272.99 L69.15 293.70 L69.70 293.80 L70.25 294.37 L70.80 281.52 L70.90 278.93 L71.35 288.53 L71.90 293.98 L72.45 275.84 L72.90 256.53 L73.00 265.36 L73.55 297.19 L74.10 293.77 L74.65 293.82 L75.20 282.65 L75.75 295.90 L75.80 267.15 L76.30 284.26 L76.85 272.79 L77.20 258.51 L77.40 265.78 L77.95 285.70 L78.50 274.17 L79.05 280.76 L79.10 247.45 L79.60 285.40 L80.15 279.64 L80.70 270.55 L81.25 282.65 L81.80 288.02 L82.30 275.22 L82.35 287.79 L82.90 285.56 L83.45 288.00 L84.00 267.94 L84.20 260.72 L84.55 272.95 L85.10 288.75 L85.65 284.20 L86.20 288.41 L86.60 276.08 L86.75 288.09 L87.30 284.91 L87.85 287.12 L88.40 279.73 L88.95 283.95 L89.50 283.67 L90.05 284.63 L90.50 264.92 L90.60 283.20 L91.15 283.25 L91.70 285.90 L92.25 279.22 L92.50 273.56 L92.80 279.62 L93.35 289.17 L93.90 285.65 L94.45 286.35 L95.00 287.30 L95.55 288.13 L95.90 274.33 L96.10 288.36 L96.65 286.84 L97.20 288.68 L97.75 287.32 L98.30 297.63 L98.85 281.66 L99.40 258.58 L99.95 281.97 L100.50 292.29 L101.05 290.15 L101.60 297.73 L102.15 254.84 L102.20 249.94 L102.70 276.92 L103.25 294.47 L103.80 291.82 L104.35 293.63 L104.90 288.10 L105.45 285.77 L105.70 250.37 L106.00 290.42 L106.55 269.78 L106.70 262.43 L107.10 278.65 L107.65 294.28 L108.20 292.33 L108.75 294.01 L109.30 280.09 L109.60 269.76 L109.85 278.80 L110.40 293.46 L110.95 285.24 L111.50 297.63 L112.05 293.84 L112.60 291.58 L113.10 266.34 L113.15 290.52 L113.70 287.83 L114.25 293.84 L114.80 286.79 L115.35 297.55 L115.50 266.71 L115.90 297.36 L116.45 290.54 L117.00 292.62 L117.55 293.77 L118.10 290.74 L118.40 263.88 L118.65 297.74 L119.20 292.97 L119.75 293.66 L120.30 283.84 L120.85 282.41 L121.40 267.31 L121.80 253.39 L121.95 260.34 L122.50 295.59 L123.05 268.28 L123.30 258.13 L123.60 268.35 L124.15 284.77 L124.70 272.06 L124.90 267.27 L125.25 276.07 L125.80 281.23 L126.35 274.11 L126.90 277.42 L127.20 236.45 L127.45 273.27 L128.00 272.77 L128.55 281.59 L129.10 264.48 L129.20 255.80 L129.65 270.30 L130.20 282.89 L130.75 272.52 L131.30 286.84 L131.85 270.30 L132.10 261.89 L132.40 270.52 L132.95 281.46 L133.50 283.86 L134.05 283.62 L134.60 269.46 L134.70 264.19 L135.15 276.00 L135.70 294.90 L136.25 277.61 L136.80 282.71 L137.35 276.59 L137.90 273.40 L138.00 253.33 L138.45 281.50 L139.00 275.19 L139.55 283.74 L140.10 269.70 L140.60 250.70 L140.65 256.47 L141.20 297.27 L141.75 271.86 L142.30 283.10 L142.85 274.86 L143.40 282.65 L143.90 243.31 L143.95 278.90 L144.50 270.00 L145.05 284.15 L145.60 269.49 L145.80 262.26 L146.15 272.49 L146.70 287.05 L147.25 275.41 L147.80 295.28 L148.35 274.16 L148.80 260.92 L148.90 266.63 L149.45 286.16 L150.00 287.49 L150.55 287.79 L151.10 276.04 L151.65 287.93 L151.70 249.94 L152.20 296.32 L152.75 276.63 L153.30 289.24 L153.85 284.71 L154.40 285.44 L154.95 258.93 L155.00 251.86 L155.50 274.37 L156.05 288.39 L156.20 260.65 L156.60 281.97 L157.15 284.41 L157.70 285.66 L158.25 282.74 L158.80 295.23 L159.00 255.95 L159.35 283.62 L159.90 285.09 L160.45 290.02 L161.00 280.88 L161.50 267.01 L161.55 268.87 L162.10 284.21 L162.65 287.09 L163.20 283.33 L163.50 271.77 L163.75 287.39" stroke="#3f9a50" stroke-width="0.45" fill="none" stroke-linejoin="round"/>
<path d="M23.50 285.46 L23.90 273.43 L24.05 278.67 L24.60 292.70 L25.15 291.60 L25.70 296.90 L26.25 286.31 L26.80 296.90 L27.35 276.10 L27.40 273.65 L27.90 287.28 L28.45 297.71 L29.00 284.01 L29.55 294.20 L30.10 290.70 L30.65 294.24 L30.80 289.49 L31.20 293.49 L31.75 293.95 L32.30 293.22 L32.85 287.37 L33.30 274.57 L33.40 277.99 L33.95 293.37 L34.50 293.56 L35.05 298.07 L35.60 278.22 L35.70 273.60 L36.15 287.14 L36.70 296.74 L37.25 291.73 L37.80 287.83 L38.00 271.17 L38.35 297.03 L38.90 285.66 L39.45 291.83 L39.60 267.68 L40.00 291.99 L40.55 284.41 L41.00 269.58 L41.10 275.62 L41.65 292.36 L42.20 293.69 L42.75 292.80 L43.10 272.58 L43.30 292.41 L43.85 293.46 L44.40 297.19 L44.90 265.24 L44.95 297.75 L45.50 287.47 L46.05 293.89 L46.60 290.99 L47.15 297.98 L47.40 258.66 L47.70 296.66 L47.80 264.25 L48.25 297.40 L48.80 289.58 L49.35 293.86 L49.90 293.99 L50.45 297.66 L51.00 288.19 L51.30 283.62 L51.55 287.88 L52.10 294.88 L52.65 285.84 L53.20 292.94 L53.75 292.19 L54.30 291.37 L54.85 286.94 L55.20 278.11 L55.40 283.46 L55.95 291.01 L56.50 292.33 L57.05 293.85 L57.60 293.88 L58.15 292.88 L58.70 273.62 L58.80 270.24 L59.25 285.28 L59.80 294.21 L60.35 293.89 L60.90 293.81 L61.45 291.71 L62.00 292.29 L62.55 291.00 L63.10 279.09 L63.65 290.69 L64.20 297.95 L64.75 277.72 L65.00 269.01 L65.30 281.56 L65.85 296.81 L66.40 292.68 L66.95 294.73 L67.50 292.69 L68.05 292.09 L68.60 273.04 L69.15 293.76 L69.70 293.92 L70.25 294.50 L70.80 281.78 L70.90 279.36 L71.35 288.73 L71.90 294.09 L72.45 276.42 L72.90 257.14 L73.00 266.43 L73.55 297.20 L74.10 293.91 L74.65 293.96 L75.20 283.07 L75.75 295.98 L75.80 267.89 L76.30 284.61 L76.85 273.31 L77.20 259.06 L77.40 266.61 L77.95 286.15 L78.50 274.32 L79.05 281.55 L79.10 248.40 L79.60 285.95 L80.15 280.11 L80.70 271.02 L81.25 283.20 L81.80 288.28 L82.30 275.91 L82.35 288.34 L82.90 285.74 L83.45 288.25 L84.00 269.17 L84.20 261.80 L84.55 274.16 L85.10 288.86 L85.65 284.39 L86.20 288.65 L86.60 276.48 L86.75 288.38 L87.30 285.29 L87.85 287.50 L88.40 280.25 L88.95 284.43 L89.50 283.98 L90.05 285.17 L90.50 265.33 L90.60 283.60 L91.15 283.58 L91.70 286.23 L92.25 279.45 L92.50 274.56 L92.80 279.66 L93.35 289.53 L93.90 285.93 L94.45 286.68 L95.00 287.65 L95.55 288.46 L95.90 275.12 L96.10 288.67 L96.65 287.35 L97.20 288.95 L97.75 287.78 L98.30 297.66 L98.85 282.16 L99.40 258.96 L99.95 282.32 L100.50 292.44 L101.05 290.44 L101.60 297.76 L102.15 255.94 L102.20 251.69 L102.70 277.11 L103.25 294.61 L103.80 292.06 L104.35 293.73 L104.90 288.20 L105.45 286.07 L105.70 251.19 L106.00 290.70 L106.55 270.39 L106.70 263.01 L107.10 279.51 L107.65 294.37 L108.20 292.51 L108.75 294.07 L109.30 280.30 L109.60 270.28 L109.85 278.79 L110.40 293.58 L110.95 285.70 L111.50 297.67 L112.05 293.97 L112.60 291.64 L113.10 267.19 L113.15 290.60 L113.70 288.14 L114.25 293.88 L114.80 287.14 L115.35 297.57 L115.50 267.08 L115.90 297.40 L116.45 290.70 L117.00 292.84 L117.55 293.94 L118.10 290.88 L118.40 264.64 L118.65 297.75 L119.20 293.00 L119.75 293.72 L120.30 284.15 L120.85 282.88 L121.40 268.03 L121.80 254.47 L121.95 261.04 L122.50 295.70 L123.05 268.96 L123.30 259.37 L123.60 268.81 L124.15 285.30 L124.70 272.41 L124.90 268.01 L125.25 276.96 L125.80 281.76 L126.35 275.06 L126.90 277.50 L127.20 238.10 L127.45 274.09 L128.00 273.33 L128.55 282.08 L129.10 265.35 L129.20 256.86 L129.65 271.10 L130.20 282.90 L130.75 273.08 L131.30 287.33 L131.85 271.11 L132.10 263.07 L132.40 271.82 L132.95 281.75 L133.50 284.06 L134.05 283.75 L134.60 270.62 L134.70 265.21 L135.15 276.21 L135.70 294.97 L136.25 278.49 L136.80 282.99 L137.35 276.90 L137.90 274.28 L138.00 254.26 L138.45 281.99 L139.00 275.80 L139.55 283.87 L140.10 269.89 L140.60 252.80 L140.65 257.64 L141.20 297.29 L141.75 272.65 L142.30 283.31 L142.85 275.95 L143.40 282.89 L143.90 244.41 L143.95 279.32 L144.50 270.71 L145.05 284.57 L145.60 270.04 L145.80 262.96 L146.15 272.65 L146.70 287.59 L147.25 276.26 L147.80 295.34 L148.35 274.92 L148.80 261.35 L148.90 266.91 L149.45 286.54 L150.00 287.57 L150.55 288.17 L151.10 276.84 L151.65 288.39 L151.70 251.13 L152.20 296.37 L152.75 277.14 L153.30 289.42 L153.85 285.07 L154.40 285.58 L154.95 259.76 L155.00 253.35 L155.50 274.87 L156.05 288.77 L156.20 261.81 L156.60 282.31 L157.15 284.51 L157.70 286.05 L158.25 283.30 L158.80 295.27 L159.00 257.87 L159.35 284.03 L159.90 285.35 L160.45 290.26 L161.00 281.42 L161.50 267.04 L161.55 269.86 L162.10 284.59 L162.65 287.17 L163.20 283.72 L163.50 271.86 L163.75 287.65" stroke="#c8c8c8" stroke-width="0.45" fill="none" stroke-linejoin="round"/>
<path d="M23.50 287.75 L23.90 277.20 L24.05 282.06 L24.60 293.65 L25.15 292.68 L25.70 297.17 L26.25 288.27 L26.80 297.15 L27.35 279.73 L27.40 277.59 L27.90 288.95 L28.45 297.83 L29.00 286.35 L29.55 294.86 L30.10 292.01 L30.65 294.97 L30.80 290.82 L31.20 294.23 L31.75 294.72 L32.30 294.06 L32.85 289.28 L33.30 278.32 L33.40 281.52 L33.95 294.24 L34.50 294.33 L35.05 298.13 L35.60 281.15 L35.70 278.02 L36.15 288.78 L36.70 297.02 L37.25 292.83 L37.80 289.58 L38.00 275.57 L38.35 297.25 L38.90 287.92 L39.45 292.93 L39.60 272.97 L40.00 293.14 L40.55 286.77 L41.00 274.24 L41.10 279.34 L41.65 293.36 L42.20 294.52 L42.75 293.67 L43.10 277.00 L43.30 293.49 L43.85 294.37 L44.40 297.39 L44.90 271.21 L44.95 297.85 L45.50 289.29 L46.05 294.64 L46.60 292.12 L47.15 298.04 L47.40 265.70 L47.70 296.96 L47.80 270.31 L48.25 297.55 L48.80 291.08 L49.35 294.68 L49.90 294.64 L50.45 297.78 L51.00 289.90 L51.30 285.83 L51.55 289.66 L52.10 295.45 L52.65 287.89 L53.20 293.87 L53.75 293.26 L54.30 292.53 L54.85 288.86 L55.20 281.61 L55.40 286.12 L55.95 292.25 L56.50 293.27 L57.05 294.55 L57.60 294.64 L58.15 293.73 L58.70 277.90 L58.80 274.74 L59.25 287.18 L59.80 294.95 L60.35 294.71 L60.90 294.58 L61.45 292.71 L62.00 293.21 L62.55 292.18 L63.10 282.43 L63.65 292.03 L64.20 298.03 L64.75 281.19 L65.00 273.84 L65.30 284.44 L65.85 297.05 L66.40 293.73 L66.95 295.32 L67.50 293.64 L68.05 293.01 L68.60 277.30 L69.15 294.50 L69.70 294.67 L70.25 295.11 L70.80 284.80 L70.90 282.32 L71.35 290.36 L71.90 294.72 L72.45 279.92 L72.90 264.51 L73.00 271.25 L73.55 297.41 L74.10 294.72 L74.65 294.72 L75.20 285.84 L75.75 296.40 L75.80 272.86 L76.30 286.72 L76.85 277.39 L77.20 265.21 L77.40 271.87 L77.95 288.01 L78.50 278.54 L79.05 284.35 L79.10 257.52 L79.60 287.86 L80.15 283.26 L80.70 275.34 L81.25 285.86 L81.80 289.86 L82.30 279.46 L82.35 289.87 L82.90 287.96 L83.45 290.01 L84.00 273.49 L84.20 267.81 L84.55 277.88 L85.10 290.43 L85.65 286.73 L86.20 290.16 L86.60 279.92 L86.75 289.96 L87.30 287.55 L87.85 289.28 L88.40 282.93 L88.95 286.82 L89.50 286.35 L90.05 287.17 L90.50 271.06 L90.60 285.91 L91.15 285.80 L91.70 288.19 L92.25 282.47 L92.50 278.71 L92.80 282.83 L93.35 290.97 L93.90 287.80 L94.45 288.63 L95.00 289.53 L95.55 289.95 L95.90 279.07 L96.10 290.19 L96.65 289.01 L97.20 290.43 L97.75 289.46 L98.30 297.77 L98.85 284.79 L99.40 265.52 L99.95 284.75 L100.50 293.49 L101.05 291.74 L101.60 297.85 L102.15 262.97 L102.20 258.64 L102.70 281.11 L103.25 295.16 L103.80 293.05 L104.35 294.50 L104.90 289.99 L105.45 288.33 L105.70 259.40 L106.00 291.84 L106.55 274.82 L106.70 268.72 L107.10 282.58 L107.65 295.11 L108.20 293.55 L108.75 294.83 L109.30 283.29 L109.60 275.15 L109.85 282.14 L110.40 294.34 L110.95 287.80 L111.50 297.77 L112.05 294.72 L112.60 292.79 L113.10 272.27 L113.15 292.02 L113.70 289.81 L114.25 294.66 L114.80 289.04 L115.35 297.72 L115.50 272.19 L115.90 297.55 L116.45 291.99 L117.00 293.81 L117.55 294.62 L118.10 292.17 L118.40 270.86 L118.65 297.87 L119.20 293.92 L119.75 294.55 L120.30 286.50 L120.85 285.38 L121.40 273.35 L121.80 261.90 L121.95 266.67 L122.50 296.12 L123.05 273.81 L123.30 265.43 L123.60 274.12 L124.15 287.25 L124.70 276.70 L124.90 272.95 L125.25 280.34 L125.80 284.43 L126.35 279.07 L126.90 281.08 L127.20 247.92 L127.45 278.44 L128.00 277.86 L128.55 284.73 L129.10 270.88 L129.20 263.73 L129.65 275.78 L130.20 285.81 L130.75 277.34 L131.30 289.27 L131.85 275.18 L132.10 269.21 L132.40 275.73 L132.95 284.44 L133.50 286.59 L134.05 286.32 L134.60 275.35 L134.70 270.32 L135.15 280.32 L135.70 295.59 L136.25 281.91 L136.80 285.42 L137.35 280.55 L137.90 278.46 L138.00 261.63 L138.45 284.59 L139.00 279.85 L139.55 286.25 L140.10 274.89 L140.60 260.11 L140.65 263.69 L141.20 297.48 L141.75 277.32 L142.30 285.74 L142.85 279.60 L143.40 285.38 L143.90 252.93 L143.95 282.47 L144.50 275.46 L145.05 286.98 L145.60 274.57 L145.80 269.09 L146.15 277.31 L146.70 289.36 L147.25 280.11 L147.80 295.85 L148.35 279.11 L148.80 267.49 L148.90 272.29 L149.45 288.36 L150.00 289.44 L150.55 289.92 L151.10 280.61 L151.65 289.91 L151.70 258.62 L152.20 296.68 L152.75 280.80 L153.30 290.76 L153.85 287.51 L154.40 287.90 L154.95 265.99 L155.00 260.70 L155.50 278.65 L156.05 290.46 L156.20 267.10 L156.60 285.25 L157.15 286.95 L157.70 288.02 L158.25 285.52 L158.80 295.79 L159.00 264.50 L159.35 286.30 L159.90 287.53 L160.45 291.62 L161.00 284.07 L161.50 272.19 L161.55 274.99 L162.10 286.83 L162.65 289.00 L163.20 286.15 L163.50 276.63 L163.75 289.33" stroke="#cc4650" stroke-width="0.9" fill="none" stroke-linejoin="round"/>
<path d="M23.50 298.40 L23.50 285.92 L23.90 273.92 L24.05 279.10 L24.60 292.82 L25.15 291.82 L25.70 296.97 L26.25 286.53 L26.80 296.98 L27.35 276.81 L27.40 274.29 L27.90 287.59 L28.45 297.75 L29.00 284.55 L29.55 294.36 L30.10 291.03 L30.65 294.41 L30.80 289.74 L31.20 293.66 L31.75 294.02 L32.30 293.33 L32.85 287.72 L33.30 274.99 L33.40 297.55 L33.95 293.47 L34.50 293.75 L35.05 297.11 L35.60 278.94 L35.70 275.01 L36.15 287.27 L36.70 296.83 L37.25 297.93 L37.80 288.30 L38.00 272.05 L38.35 297.07 L38.90 286.15 L39.45 292.18 L39.60 269.24 L40.00 292.28 L40.55 284.87 L41.00 269.92 L41.10 276.39 L41.65 292.53 L42.20 293.92 L42.75 292.94 L43.10 273.64 L43.30 292.64 L43.85 293.76 L44.40 297.23 L44.90 266.24 L44.95 297.55 L45.50 287.72 L46.05 294.14 L46.60 291.20 L47.15 297.99 L47.40 259.96 L47.70 296.73 L47.80 265.97 L48.25 297.41 L48.80 289.75 L49.35 294.07 L49.90 294.09 L50.45 297.70 L51.00 288.67 L51.30 283.84 L51.55 288.25 L52.10 295.02 L52.65 286.46 L53.20 293.16 L53.75 292.48 L54.30 291.53 L54.85 287.28 L55.20 278.85 L55.40 284.22 L55.95 291.19 L56.50 292.61 L57.05 293.98 L57.60 294.02 L58.15 293.02 L58.70 274.73 L58.80 270.96 L59.25 285.52 L59.80 294.37 L60.35 294.05 L60.90 293.96 L61.45 291.94 L62.00 292.42 L62.55 291.09 L63.10 279.84 L63.65 290.89 L64.20 297.96 L64.75 278.17 L65.00 270.33 L65.30 281.97 L65.85 296.84 L66.40 292.84 L66.95 294.89 L67.50 292.82 L68.05 292.25 L68.60 274.52 L69.15 293.90 L69.70 294.13 L70.25 294.63 L70.80 282.50 L70.90 280.05 L71.35 289.11 L71.90 294.20 L72.45 277.17 L72.90 258.75 L73.00 267.51 L73.55 297.24 L74.10 294.04 L74.65 294.14 L75.20 283.45 L75.75 296.09 L75.80 268.61 L76.30 284.94 L76.85 273.94 L77.20 260.37 L77.40 267.81 L77.95 298.22 L78.50 275.47 L79.05 281.88 L79.10 250.17 L79.60 286.24 L80.15 280.51 L80.70 271.62 L81.25 283.67 L81.80 297.79 L82.30 276.80 L82.35 288.53 L82.90 286.26 L83.45 288.64 L84.00 269.61 L84.20 263.10 L84.55 275.04 L85.10 289.26 L85.65 296.64 L86.20 289.03 L86.60 277.12 L86.75 288.81 L87.30 285.93 L87.85 287.92 L88.40 280.65 L88.95 284.91 L89.50 284.30 L90.05 285.31 L90.50 266.33 L90.60 298.23 L91.15 283.86 L91.70 286.60 L92.25 280.09 L92.50 275.26 L92.80 280.63 L93.35 289.74 L93.90 286.33 L94.45 286.83 L95.00 287.90 L95.55 288.67 L95.90 275.99 L96.10 288.98 L96.65 287.71 L97.20 298.28 L97.75 288.08 L98.30 297.67 L98.85 282.81 L99.40 260.51 L99.95 282.75 L100.50 292.64 L101.05 290.80 L101.60 297.76 L102.15 257.64 L102.20 253.12 L102.70 278.08 L103.25 294.74 L103.80 292.25 L104.35 293.81 L104.90 288.72 L105.45 286.42 L105.70 252.72 L106.00 290.81 L106.55 270.97 L106.70 264.04 L107.10 298.03 L107.65 294.53 L108.20 292.69 L108.75 294.24 L109.30 280.98 L109.60 270.96 L109.85 279.83 L110.40 293.64 L110.95 286.20 L111.50 297.68 L112.05 294.05 L112.60 297.06 L113.10 267.56 L113.15 290.82 L113.70 288.41 L114.25 294.07 L114.80 287.66 L115.35 297.61 L115.50 268.07 L115.90 297.41 L116.45 290.89 L117.00 293.05 L117.55 294.07 L118.10 291.25 L118.40 266.49 L118.65 297.78 L119.20 293.30 L119.75 293.92 L120.30 284.58 L120.85 283.24 L121.40 269.23 L121.80 255.68 L121.95 262.61 L122.50 295.74 L123.05 270.13 L123.30 260.60 L123.60 270.37 L124.15 285.63 L124.70 273.22 L124.90 268.97 L125.25 277.61 L125.80 282.27 L126.35 275.95 L126.90 278.45 L127.20 240.75 L127.45 275.15 L128.00 274.44 L128.55 282.81 L129.10 266.23 L129.20 258.03 L129.65 272.47 L130.20 283.43 L130.75 296.53 L131.30 287.66 L131.85 272.09 L132.10 263.87 L132.40 272.14 L132.95 282.51 L133.50 284.64 L134.05 298.32 L134.60 271.09 L134.70 265.80 L135.15 277.22 L135.70 295.07 L136.25 279.07 L136.80 283.37 L137.35 277.87 L137.90 274.90 L138.00 255.56 L138.45 282.53 L139.00 277.10 L139.55 284.47 L140.10 270.82 L140.60 254.29 L140.65 258.30 L141.20 297.33 L141.75 273.55 L142.30 283.97 L142.85 276.36 L143.40 283.32 L143.90 246.13 L143.95 279.82 L144.50 271.55 L145.05 284.99 L145.60 270.93 L145.80 263.88 L146.15 273.55 L146.70 296.73 L147.25 277.20 L147.80 295.50 L148.35 275.94 L148.80 262.61 L148.90 268.02 L149.45 286.62 L150.00 287.96 L150.55 288.48 L151.10 277.78 L151.65 288.61 L151.70 296.88 L152.20 296.39 L152.75 278.09 L153.30 289.58 L153.85 285.62 L154.40 297.85 L154.95 260.60 L155.00 254.76 L155.50 275.80 L156.05 288.98 L156.20 262.82 L156.60 283.03 L157.15 285.17 L157.70 286.49 L158.25 283.75 L158.80 295.38 L159.00 258.44 L159.35 284.42 L159.90 285.68 L160.45 290.46 L161.00 282.00 L161.50 268.18 L161.55 270.86 L162.10 284.93 L162.65 287.55 L163.20 284.33 L163.50 273.27 L163.75 287.82 L163.75 298.40Z" fill="#ffc878" fill-opacity="0.6" stroke="none"/>
<path d="M23.50 285.92 L23.90 273.92 L24.05 279.10 L24.60 292.82 L25.15 291.82 L25.70 296.97 L26.25 286.53 L26.80 296.98 L27.35 276.81 L27.40 274.29 L27.90 287.59 L28.45 297.75 L29.00 284.55 L29.55 294.36 L30.10 291.03 L30.65 294.41 L30.80 289.74 L31.20 293.66 L31.75 294.02 L32.30 293.33 L32.85 287.72 L33.30 274.99 L33.40 297.55 L33.95 293.47 L34.50 293.75 L35.05 297.11 L35.60 278.94 L35.70 275.01 L36.15 287.27 L36.70 296.83 L37.25 297.93 L37.80 288.30 L38.00 272.05 L38.35 297.07 L38.90 286.15 L39.45 292.18 L39.60 269.24 L40.00 292.28 L40.55 284.87 L41.00 269.92 L41.10 276.39 L41.65 292.53 L42.20 293.92 L42.75 292.94 L43.10 273.64 L43.30 292.64 L43.85 293.76 L44.40 297.23 L44.90 266.24 L44.95 297.55 L45.50 287.72 L46.05 294.14 L46.60 291.20 L47.15 297.99 L47.40 259.96 L47.70 296.73 L47.80 265.97 L48.25 297.41 L48.80 289.75 L49.35 294.07 L49.90 294.09 L50.45 297.70 L51.00 288.67 L51.30 283.84 L51.55 288.25 L52.10 295.02 L52.65 286.46 L53.20 293.16 L53.75 292.48 L54.30 291.53 L54.85 287.28 L55.20 278.85 L55.40 284.22 L55.95 291.19 L56.50 292.61 L57.05 293.98 L57.60 294.02 L58.15 293.02 L58.70 274.73 L58.80 270.96 L59.25 285.52 L59.80 294.37 L60.35 294.05 L60.90 293.96 L61.45 291.94 L62.00 292.42 L62.55 291.09 L63.10 279.84 L63.65 290.89 L64.20 297.96 L64.75 278.17 L65.00 270.33 L65.30 281.97 L65.85 296.84 L66.40 292.84 L66.95 294.89 L67.50 292.82 L68.05 292.25 L68.60 274.52 L69.15 293.90 L69.70 294.13 L70.25 294.63 L70.80 282.50 L70.90 280.05 L71.35 289.11 L71.90 294.20 L72.45 277.17 L72.90 258.75 L73.00 267.51 L73.55 297.24 L74.10 294.04 L74.65 294.14 L75.20 283.45 L75.75 296.09 L75.80 268.61 L76.30 284.94 L76.85 273.94 L77.20 260.37 L77.40 267.81 L77.95 298.22 L78.50 275.47 L79.05 281.88 L79.10 250.17 L79.60 286.24 L80.15 280.51 L80.70 271.62 L81.25 283.67 L81.80 297.79 L82.30 276.80 L82.35 288.53 L82.90 286.26 L83.45 288.64 L84.00 269.61 L84.20 263.10 L84.55 275.04 L85.10 289.26 L85.65 296.64 L86.20 289.03 L86.60 277.12 L86.75 288.81 L87.30 285.93 L87.85 287.92 L88.40 280.65 L88.95 284.91 L89.50 284.30 L90.05 285.31 L90.50 266.33 L90.60 298.23 L91.15 283.86 L91.70 286.60 L92.25 280.09 L92.50 275.26 L92.80 280.63 L93.35 289.74 L93.90 286.33 L94.45 286.83 L95.00 287.90 L95.55 288.67 L95.90 275.99 L96.10 288.98 L96.65 287.71 L97.20 298.28 L97.75 288.08 L98.30 297.67 L98.85 282.81 L99.40 260.51 L99.95 282.75 L100.50 292.64 L101.05 290.80 L101.60 297.76 L102.15 257.64 L102.20 253.12 L102.70 278.08 L103.25 294.74 L103.80 292.25 L104.35 293.81 L104.90 288.72 L105.45 286.42 L105.70 252.72 L106.00 290.81 L106.55 270.97 L106.70 264.04 L107.10 298.03 L107.65 294.53 L108.20 292.69 L108.75 294.24 L109.30 280.98 L109.60 270.96 L109.85 279.83 L110.40 293.64 L110.95 286.20 L111.50 297.68 L112.05 294.05 L112.60 297.06 L113.10 267.56 L113.15 290.82 L113.70 288.41 L114.25 294.07 L114.80 287.66 L115.35 297.61 L115.50 268.07 L115.90 297.41 L116.45 290.89 L117.00 293.05 L117.55 294.07 L118.10 291.25 L118.40 266.49 L118.65 297.78 L119.20 293.30 L119.75 293.92 L120.30 284.58 L120.85 283.24 L121.40 269.23 L121.80 255.68 L121.95 262.61 L122.50 295.74 L123.05 270.13 L123.30 260.60 L123.60 270.37 L124.15 285.63 L124.70 273.22 L124.90 268.97 L125.25 277.61 L125.80 282.27 L126.35 275.95 L126.90 278.45 L127.20 240.75 L127.45 275.15 L128.00 274.44 L128.55 282.81 L129.10 266.23 L129.20 258.03 L129.65 272.47 L130.20 283.43 L130.75 296.53 L131.30 287.66 L131.85 272.09 L132.10 263.87 L132.40 272.14 L132.95 282.51 L133.50 284.64 L134.05 298.32 L134.60 271.09 L134.70 265.80 L135.15 277.22 L135.70 295.07 L136.25 279.07 L136.80 283.37 L137.35 277.87 L137.90 274.90 L138.00 255.56 L138.45 282.53 L139.00 277.10 L139.55 284.47 L140.10 270.82 L140.60 254.29 L140.65 258.30 L141.20 297.33 L141.75 273.55 L142.30 283.97 L142.85 276.36 L143.40 283.32 L143.90 246.13 L143.95 279.82 L144.50 271.55 L145.05 284.99 L145.60 270.93 L145.80 263.88 L146.15 273.55 L146.70 296.73 L147.25 277.20 L147.80 295.50 L148.35 275.94 L148.80 262.61 L148.90 268.02 L149.45 286.62 L150.00 287.96 L150.55 288.48 L151.10 277.78 L151.65 288.61 L151.70 296.88 L152.20 296.39 L152.75 278.09 L153.30 289.58 L153.85 285.62 L154.40 297.85 L154.95 260.60 L155.00 254.76 L155.50 275.80 L156.05 288.98 L156.20 262.82 L156.60 283.03 L157.15 285.17 L157.70 286.49 L158.25 283.75 L158.80 295.38 L159.00 258.44 L159.35 284.42 L159.90 285.68 L160.45 290.46 L161.00 282.00 L161.50 268.18 L161.55 270.86 L162.10 284.93 L162.65 287.55 L163.20 284.33 L163.50 273.27 L163.75 287.82" stroke="#ff9c1e" stroke-width="0.8" fill="none" stroke-linejoin="round"/>
<path d="M244.20 298.40 L244.79 298.27 L245.39 298.07 L245.98 297.95 L246.57 297.82 L247.17 297.61 L247.76 297.44 L248.36 297.21 L248.95 297.04 L249.54 296.86 L250.14 296.64 L250.73 296.50 L251.32 296.31 L251.92 296.20 L252.51 295.95 L253.10 295.77 L253.70 295.53 L254.29 295.37 L254.89 295.19 L255.48 295.00 L256.07 294.85 L256.67 294.75 L257.26 294.52 L257.85 294.25 L258.45 294.10 L259.04 293.81 L259.63 293.57 L260.23 293.42 L260.82 293.23 L261.42 293.00 L262.01 292.84 L262.60 292.63 L263.20 292.49 L263.79 292.31 L264.38 292.03 L264.98 291.84 L265.57 291.54 L266.16 291.39 L266.76 291.15 L267.35 290.98 L267.95 290.86 L268.54 290.74 L269.13 290.49 L269.73 290.25 L270.32 290.08 L270.91 289.95 L271.51 289.75 L272.10 289.64 L272.69 289.43 L273.29 289.31 L273.88 289.20 L274.48 289.09 L275.07 288.97 L275.66 288.88 L276.26 288.67 L276.85 288.49 L277.44 288.30 L278.04 288.14 L278.63 288.06 L279.22 287.91 L279.82 287.75 L280.41 287.61 L281.01 287.52 L281.60 287.37 L282.19 287.08 L282.79 286.83 L283.38 286.62 L283.97 286.32 L284.57 286.14 L285.16 285.93 L285.75 285.65 L286.35 285.48 L286.94 285.35 L287.54 285.19 L288.13 284.90 L288.72 284.73 L289.32 284.46 L289.91 284.17 L290.50 284.01 L291.10 283.81 L291.69 283.58 L292.28 283.33 L292.88 283.15 L293.47 282.90 L294.07 282.63 L294.66 282.33 L295.25 281.91 L295.85 281.58 L296.44 281.24 L297.03 281.00 L297.63 280.65 L298.22 280.40 L298.81 280.06 L299.41 279.87 L300.00 279.48 L300.60 279.16 L301.19 278.78 L301.78 278.35 L302.38 278.09 L302.97 277.79 L303.56 277.49 L304.16 276.97 L304.75 276.71 L305.34 276.32 L305.94 276.16 L306.53 275.99 L307.13 275.85 L307.72 275.58 L308.31 275.31 L308.91 275.14 L309.50 274.95 L310.09 274.64 L310.69 274.34 L311.28 274.17 L311.87 274.01 L312.47 273.69 L313.06 273.53 L313.66 273.37 L314.25 273.20 L314.84 273.04 L315.44 272.68 L316.03 272.36 L316.62 272.00 L317.22 271.79 L317.81 271.46 L318.40 271.22 L319.00 270.98 L319.59 270.73 L320.19 270.40 L320.78 270.13 L321.37 269.70 L321.97 269.47 L322.56 269.00 L323.15 268.63 L323.75 268.15 L324.34 267.65 L324.93 267.49 L325.53 267.26 L326.12 267.07 L326.72 266.88 L327.31 266.61 L327.90 266.28 L328.50 266.08 L329.09 265.88 L329.68 265.72 L330.28 265.42 L330.87 265.27 L331.46 265.10 L332.06 264.91 L332.65 264.73 L333.25 264.42 L333.84 264.16 L334.43 263.67 L335.03 263.03 L335.62 262.41 L336.21 261.92 L336.81 261.24 L337.40 260.72 L337.99 260.08 L338.59 259.58 L339.18 259.12 L339.78 258.66 L340.37 258.00 L340.96 257.55 L341.56 256.90 L342.15 256.10 L342.74 255.46 L343.34 255.02 L343.93 254.37 L344.52 253.78 L345.12 253.43 L345.71 252.96 L346.31 252.42 L346.90 251.84 L347.49 251.49 L348.09 251.18 L348.68 250.63 L349.27 250.11 L349.87 249.82 L350.46 249.28 L351.05 248.83 L351.65 248.33 L352.24 247.65 L352.84 247.00 L353.43 246.74 L354.02 246.23 L354.62 245.72 L355.21 245.34 L355.80 245.06 L356.40 244.52 L356.99 244.14 L357.58 243.77 L358.18 243.14 L358.77 242.47 L359.37 242.03 L359.96 241.31 L360.55 240.98 L361.15 240.59 L361.74 240.25 L362.33 239.67 L362.93 239.28 L363.52 238.98 L364.11 238.71 L364.71 238.22 L365.30 237.53 L365.90 237.00 L366.49 236.35 L367.08 235.65 L367.68 235.27 L368.27 234.56 L368.86 234.03 L369.46 233.80 L370.05 233.57 L370.64 233.38 L371.24 233.09 L371.83 232.85 L372.43 232.64 L373.02 232.29 L373.61 231.86 L374.21 231.52 L374.80 231.24" stroke="#3a3a3a" stroke-width="1.05" fill="none" stroke-linejoin="round"/>
<path d="M244.20 298.40 L244.79 298.27 L245.39 298.08 L245.98 297.95 L246.57 297.83 L247.17 297.62 L247.76 297.45 L248.36 297.22 L248.95 297.05 L249.54 296.87 L250.14 296.67 L250.73 296.53 L251.32 296.34 L251.92 296.22 L252.51 295.98 L253.10 295.80 L253.70 295.57 L254.29 295.41 L254.89 295.23 L255.48 295.04 L256.07 294.90 L256.67 294.79 L257.26 294.56 L257.85 294.30 L258.45 294.15 L259.04 293.87 L259.63 293.63 L260.23 293.48 L260.82 293.29 L261.42 293.06 L262.01 292.91 L262.60 292.70 L263.20 292.56 L263.79 292.38 L264.38 292.11 L264.98 291.92 L265.57 291.63 L266.16 291.47 L266.76 291.23 L267.35 291.07 L267.95 290.95 L268.54 290.83 L269.13 290.58 L269.73 290.35 L270.32 290.18 L270.91 290.05 L271.51 289.85 L272.10 289.75 L272.69 289.53 L273.29 289.42 L273.88 289.31 L274.48 289.20 L275.07 289.08 L275.66 288.99 L276.26 288.78 L276.85 288.61 L277.44 288.42 L278.04 288.27 L278.63 288.18 L279.22 288.04 L279.82 287.88 L280.41 287.74 L281.01 287.65 L281.60 287.50 L282.19 287.21 L282.79 286.97 L283.38 286.76 L283.97 286.46 L284.57 286.28 L285.16 286.08 L285.75 285.80 L286.35 285.63 L286.94 285.50 L287.54 285.35 L288.13 285.06 L288.72 284.90 L289.32 284.63 L289.91 284.34 L290.50 284.18 L291.10 283.99 L291.69 283.75 L292.28 283.50 L292.88 283.33 L293.47 283.08 L294.07 282.81 L294.66 282.52 L295.25 282.10 L295.85 281.78 L296.44 281.44 L297.03 281.21 L297.63 280.86 L298.22 280.62 L298.81 280.28 L299.41 280.09 L300.00 279.70 L300.60 279.38 L301.19 279.01 L301.78 278.58 L302.38 278.34 L302.97 278.04 L303.56 277.74 L304.16 277.23 L304.75 276.97 L305.34 276.59 L305.94 276.42 L306.53 276.26 L307.13 276.12 L307.72 275.85 L308.31 275.58 L308.91 275.42 L309.50 275.23 L310.09 274.92 L310.69 274.62 L311.28 274.46 L311.87 274.30 L312.47 273.98 L313.06 273.83 L313.66 273.67 L314.25 273.50 L314.84 273.34 L315.44 272.99 L316.03 272.66 L316.62 272.31 L317.22 272.10 L317.81 271.78 L318.40 271.54 L319.00 271.31 L319.59 271.06 L320.19 270.73 L320.78 270.47 L321.37 270.04 L321.97 269.82 L322.56 269.35 L323.15 268.98 L323.75 268.51 L324.34 268.02 L324.93 267.85 L325.53 267.63 L326.12 267.44 L326.72 267.25 L327.31 266.99 L327.90 266.66 L328.50 266.46 L329.09 266.27 L329.68 266.10 L330.28 265.81 L330.87 265.67 L331.46 265.49 L332.06 265.30 L332.65 265.13 L333.25 264.82 L333.84 264.56 L334.43 264.08 L335.03 263.45 L335.62 262.83 L336.21 262.35 L336.81 261.68 L337.40 261.16 L337.99 260.54 L338.59 260.04 L339.18 259.59 L339.78 259.13 L340.37 258.48 L340.96 258.03 L341.56 257.39 L342.15 256.60 L342.74 255.97 L343.34 255.53 L343.93 254.89 L344.52 254.31 L345.12 253.96 L345.71 253.50 L346.31 252.97 L346.90 252.39 L347.49 252.05 L348.09 251.74 L348.68 251.19 L349.27 250.68 L349.87 250.40 L350.46 249.86 L351.05 249.42 L351.65 248.92 L352.24 248.26 L352.84 247.61 L353.43 247.35 L354.02 246.85 L354.62 246.34 L355.21 245.97 L355.80 245.69 L356.40 245.16 L356.99 244.78 L357.58 244.41 L358.18 243.79 L358.77 243.13 L359.37 242.70 L359.96 241.99 L360.55 241.66 L361.15 241.27 L361.74 240.94 L362.33 240.37 L362.93 239.98 L363.52 239.69 L364.11 239.42 L364.71 238.93 L365.30 238.25 L365.90 237.73 L366.49 237.09 L367.08 236.40 L367.68 236.02 L368.27 235.32 L368.86 234.80 L369.46 234.57 L370.05 234.34 L370.64 234.15 L371.24 233.86 L371.83 233.63 L372.43 233.42 L373.02 233.08 L373.61 232.65 L374.21 232.31 L374.80 232.03" stroke="#4450f0" stroke-width="1.05" fill="none" stroke-linejoin="round"/>
<path d="M244.20 298.40 L244.79 298.28 L245.39 298.09 L245.98 297.97 L246.57 297.86 L247.17 297.66 L247.76 297.50 L248.36 297.28 L248.95 297.12 L249.54 296.95 L250.14 296.75 L250.73 296.62 L251.32 296.44 L251.92 296.33 L252.51 296.09 L253.10 295.92 L253.70 295.70 L254.29 295.55 L254.89 295.38 L255.48 295.20 L256.07 295.06 L256.67 294.96 L257.26 294.75 L257.85 294.50 L258.45 294.36 L259.04 294.08 L259.63 293.85 L260.23 293.71 L260.82 293.54 L261.42 293.32 L262.01 293.17 L262.60 292.98 L263.20 292.84 L263.79 292.67 L264.38 292.41 L264.98 292.23 L265.57 291.95 L266.16 291.80 L266.76 291.58 L267.35 291.42 L267.95 291.31 L268.54 291.19 L269.13 290.96 L269.73 290.74 L270.32 290.58 L270.91 290.45 L271.51 290.26 L272.10 290.16 L272.69 289.96 L273.29 289.85 L273.88 289.74 L274.48 289.64 L275.07 289.53 L275.66 289.44 L276.26 289.25 L276.85 289.08 L277.44 288.90 L278.04 288.75 L278.63 288.67 L279.22 288.53 L279.82 288.39 L280.41 288.25 L281.01 288.16 L281.60 288.02 L282.19 287.75 L282.79 287.52 L283.38 287.32 L283.97 287.04 L284.57 286.86 L285.16 286.67 L285.75 286.40 L286.35 286.24 L286.94 286.12 L287.54 285.97 L288.13 285.70 L288.72 285.55 L289.32 285.29 L289.91 285.01 L290.50 284.86 L291.10 284.68 L291.69 284.46 L292.28 284.22 L292.88 284.05 L293.47 283.82 L294.07 283.56 L294.66 283.29 L295.25 282.89 L295.85 282.57 L296.44 282.25 L297.03 282.03 L297.63 281.70 L298.22 281.47 L298.81 281.15 L299.41 280.97 L300.00 280.60 L300.60 280.30 L301.19 279.94 L301.78 279.54 L302.38 279.30 L302.97 279.01 L303.56 278.73 L304.16 278.24 L304.75 278.00 L305.34 277.63 L305.94 277.48 L306.53 277.32 L307.13 277.19 L307.72 276.93 L308.31 276.68 L308.91 276.52 L309.50 276.34 L310.09 276.05 L310.69 275.76 L311.28 275.60 L311.87 275.46 L312.47 275.16 L313.06 275.01 L313.66 274.85 L314.25 274.70 L314.84 274.55 L315.44 274.21 L316.03 273.90 L316.62 273.56 L317.22 273.36 L317.81 273.06 L318.40 272.83 L319.00 272.61 L319.59 272.37 L320.19 272.06 L320.78 271.81 L321.37 271.41 L321.97 271.19 L322.56 270.74 L323.15 270.40 L323.75 269.94 L324.34 269.48 L324.93 269.32 L325.53 269.10 L326.12 268.93 L326.72 268.75 L327.31 268.49 L327.90 268.18 L328.50 267.99 L329.09 267.81 L329.68 267.65 L330.28 267.37 L330.87 267.24 L331.46 267.07 L332.06 266.89 L332.65 266.73 L333.25 266.43 L333.84 266.19 L334.43 265.73 L335.03 265.13 L335.62 264.54 L336.21 264.08 L336.81 263.44 L337.40 262.95 L337.99 262.35 L338.59 261.88 L339.18 261.45 L339.78 261.02 L340.37 260.40 L340.96 259.97 L341.56 259.36 L342.15 258.61 L342.74 258.01 L343.34 257.59 L343.93 256.98 L344.52 256.42 L345.12 256.10 L345.71 255.66 L346.31 255.15 L346.90 254.60 L347.49 254.27 L348.09 253.98 L348.68 253.46 L349.27 252.97 L349.87 252.70 L350.46 252.19 L351.05 251.77 L351.65 251.29 L352.24 250.66 L352.84 250.05 L353.43 249.80 L354.02 249.33 L354.62 248.84 L355.21 248.48 L355.80 248.22 L356.40 247.71 L356.99 247.36 L357.58 247.01 L358.18 246.41 L358.77 245.78 L359.37 245.37 L359.96 244.70 L360.55 244.38 L361.15 244.01 L361.74 243.69 L362.33 243.15 L362.93 242.78 L363.52 242.51 L364.11 242.25 L364.71 241.79 L365.30 241.13 L365.90 240.64 L366.49 240.03 L367.08 239.37 L367.68 239.01 L368.27 238.35 L368.86 237.85 L369.46 237.63 L370.05 237.41 L370.64 237.24 L371.24 236.96 L371.83 236.74 L372.43 236.54 L373.02 236.21 L373.61 235.81 L374.21 235.48 L374.80 235.22" stroke="#3f9a50" stroke-width="1.05" fill="none" stroke-linejoin="round"/>
<path d="M244.20 298.40 L244.79 298.28 L245.39 298.10 L245.98 297.98 L246.57 297.87 L247.17 297.67 L247.76 297.52 L248.36 297.30 L248.95 297.15 L249.54 296.98 L250.14 296.79 L250.73 296.66 L251.32 296.48 L251.92 296.37 L252.51 296.15 L253.10 295.98 L253.70 295.77 L254.29 295.62 L254.89 295.45 L255.48 295.27 L256.07 295.14 L256.67 295.04 L257.26 294.83 L257.85 294.59 L258.45 294.45 L259.04 294.18 L259.63 293.96 L260.23 293.82 L260.82 293.65 L261.42 293.44 L262.01 293.29 L262.60 293.10 L263.20 292.97 L263.79 292.80 L264.38 292.55 L264.98 292.37 L265.57 292.10 L266.16 291.96 L266.76 291.73 L267.35 291.58 L267.95 291.47 L268.54 291.36 L269.13 291.13 L269.73 290.91 L270.32 290.76 L270.91 290.64 L271.51 290.45 L272.10 290.35 L272.69 290.15 L273.29 290.05 L273.88 289.94 L274.48 289.84 L275.07 289.73 L275.66 289.65 L276.26 289.46 L276.85 289.30 L277.44 289.12 L278.04 288.98 L278.63 288.90 L279.22 288.76 L279.82 288.62 L280.41 288.48 L281.01 288.40 L281.60 288.26 L282.19 288.00 L282.79 287.77 L283.38 287.57 L283.97 287.30 L284.57 287.13 L285.16 286.94 L285.75 286.68 L286.35 286.52 L286.94 286.41 L287.54 286.26 L288.13 285.99 L288.72 285.84 L289.32 285.59 L289.91 285.32 L290.50 285.17 L291.10 285.00 L291.69 284.78 L292.28 284.55 L292.88 284.38 L293.47 284.15 L294.07 283.90 L294.66 283.64 L295.25 283.25 L295.85 282.94 L296.44 282.63 L297.03 282.41 L297.63 282.09 L298.22 281.86 L298.81 281.55 L299.41 281.38 L300.00 281.01 L300.60 280.72 L301.19 280.37 L301.78 279.97 L302.38 279.74 L302.97 279.46 L303.56 279.19 L304.16 278.71 L304.75 278.47 L305.34 278.11 L305.94 277.96 L306.53 277.81 L307.13 277.68 L307.72 277.43 L308.31 277.18 L308.91 277.02 L309.50 276.85 L310.09 276.57 L310.69 276.29 L311.28 276.13 L311.87 275.99 L312.47 275.69 L313.06 275.55 L313.66 275.40 L314.25 275.24 L314.84 275.10 L315.44 274.77 L316.03 274.47 L316.62 274.14 L317.22 273.94 L317.81 273.64 L318.40 273.42 L319.00 273.21 L319.59 272.97 L320.19 272.67 L320.78 272.42 L321.37 272.03 L321.97 271.82 L322.56 271.38 L323.15 271.04 L323.75 270.60 L324.34 270.15 L324.93 269.99 L325.53 269.78 L326.12 269.61 L326.72 269.43 L327.31 269.19 L327.90 268.88 L328.50 268.69 L329.09 268.51 L329.68 268.36 L330.28 268.09 L330.87 267.96 L331.46 267.79 L332.06 267.62 L332.65 267.46 L333.25 267.17 L333.84 266.93 L334.43 266.48 L335.03 265.89 L335.62 265.32 L336.21 264.88 L336.81 264.25 L337.40 263.77 L337.99 263.19 L338.59 262.72 L339.18 262.31 L339.78 261.88 L340.37 261.27 L340.96 260.86 L341.56 260.26 L342.15 259.53 L342.74 258.94 L343.34 258.53 L343.93 257.94 L344.52 257.39 L345.12 257.08 L345.71 256.64 L346.31 256.15 L346.90 255.61 L347.49 255.29 L348.09 255.00 L348.68 254.50 L349.27 254.02 L349.87 253.76 L350.46 253.26 L351.05 252.85 L351.65 252.38 L352.24 251.77 L352.84 251.17 L353.43 250.92 L354.02 250.46 L354.62 249.99 L355.21 249.64 L355.80 249.38 L356.40 248.88 L356.99 248.54 L357.58 248.19 L358.18 247.61 L358.77 247.00 L359.37 246.59 L359.96 245.94 L360.55 245.63 L361.15 245.27 L361.74 244.96 L362.33 244.43 L362.93 244.07 L363.52 243.80 L364.11 243.55 L364.71 243.10 L365.30 242.46 L365.90 241.98 L366.49 241.38 L367.08 240.74 L367.68 240.38 L368.27 239.74 L368.86 239.25 L369.46 239.04 L370.05 238.82 L370.64 238.65 L371.24 238.38 L371.83 238.16 L372.43 237.97 L373.02 237.65 L373.61 237.26 L374.21 236.94 L374.80 236.68" stroke="#c8c8c8" stroke-width="1.05" fill="none" stroke-linejoin="round"/>
<path d="M244.20 298.40 L244.79 298.30 L245.39 298.15 L245.98 298.06 L246.57 297.96 L247.17 297.80 L247.76 297.67 L248.36 297.50 L248.95 297.37 L249.54 297.23 L250.14 297.07 L250.73 296.97 L251.32 296.82 L251.92 296.73 L252.51 296.55 L253.10 296.41 L253.70 296.23 L254.29 296.11 L254.89 295.97 L255.48 295.83 L256.07 295.72 L256.67 295.64 L257.26 295.46 L257.85 295.26 L258.45 295.15 L259.04 294.93 L259.63 294.75 L260.23 294.63 L260.82 294.49 L261.42 294.32 L262.01 294.20 L262.60 294.04 L263.20 293.94 L263.79 293.79 L264.38 293.59 L264.98 293.44 L265.57 293.22 L266.16 293.10 L266.76 292.92 L267.35 292.79 L267.95 292.70 L268.54 292.61 L269.13 292.42 L269.73 292.24 L270.32 292.11 L270.91 292.01 L271.51 291.86 L272.10 291.78 L272.69 291.62 L273.29 291.53 L273.88 291.45 L274.48 291.36 L275.07 291.27 L275.66 291.20 L276.26 291.04 L276.85 290.91 L277.44 290.77 L278.04 290.65 L278.63 290.58 L279.22 290.47 L279.82 290.35 L280.41 290.24 L281.01 290.17 L281.60 290.06 L282.19 289.84 L282.79 289.66 L283.38 289.49 L283.97 289.27 L284.57 289.13 L285.16 288.98 L285.75 288.76 L286.35 288.63 L286.94 288.53 L287.54 288.41 L288.13 288.19 L288.72 288.07 L289.32 287.86 L289.91 287.64 L290.50 287.52 L291.10 287.37 L291.69 287.20 L292.28 287.01 L292.88 286.87 L293.47 286.68 L294.07 286.48 L294.66 286.26 L295.25 285.93 L295.85 285.68 L296.44 285.43 L297.03 285.25 L297.63 284.98 L298.22 284.80 L298.81 284.54 L299.41 284.40 L300.00 284.09 L300.60 283.85 L301.19 283.57 L301.78 283.24 L302.38 283.05 L302.97 282.82 L303.56 282.60 L304.16 282.20 L304.75 282.00 L305.34 281.71 L305.94 281.59 L306.53 281.46 L307.13 281.35 L307.72 281.15 L308.31 280.94 L308.91 280.82 L309.50 280.67 L310.09 280.44 L310.69 280.21 L311.28 280.08 L311.87 279.97 L312.47 279.72 L313.06 279.60 L313.66 279.48 L314.25 279.35 L314.84 279.23 L315.44 278.96 L316.03 278.71 L316.62 278.44 L317.22 278.28 L317.81 278.03 L318.40 277.85 L319.00 277.68 L319.59 277.48 L320.19 277.24 L320.78 277.03 L321.37 276.71 L321.97 276.53 L322.56 276.18 L323.15 275.90 L323.75 275.53 L324.34 275.16 L324.93 275.03 L325.53 274.86 L326.12 274.72 L326.72 274.57 L327.31 274.37 L327.90 274.12 L328.50 273.96 L329.09 273.82 L329.68 273.69 L330.28 273.47 L330.87 273.36 L331.46 273.22 L332.06 273.08 L332.65 272.95 L333.25 272.71 L333.84 272.52 L334.43 272.14 L335.03 271.66 L335.62 271.19 L336.21 270.82 L336.81 270.31 L337.40 269.91 L337.99 269.44 L338.59 269.05 L339.18 268.71 L339.78 268.36 L340.37 267.86 L340.96 267.52 L341.56 267.03 L342.15 266.43 L342.74 265.94 L343.34 265.61 L343.93 265.11 L344.52 264.67 L345.12 264.41 L345.71 264.05 L346.31 263.64 L346.90 263.20 L347.49 262.94 L348.09 262.70 L348.68 262.29 L349.27 261.90 L349.87 261.68 L350.46 261.27 L351.05 260.93 L351.65 260.55 L352.24 260.04 L352.84 259.55 L353.43 259.35 L354.02 258.97 L354.62 258.58 L355.21 258.29 L355.80 258.08 L356.40 257.67 L356.99 257.38 L357.58 257.10 L358.18 256.62 L358.77 256.12 L359.37 255.79 L359.96 255.24 L360.55 254.99 L361.15 254.70 L361.74 254.44 L362.33 254.00 L362.93 253.71 L363.52 253.49 L364.11 253.28 L364.71 252.91 L365.30 252.38 L365.90 251.99 L366.49 251.50 L367.08 250.97 L367.68 250.68 L368.27 250.14 L368.86 249.74 L369.46 249.57 L370.05 249.39 L370.64 249.25 L371.24 249.03 L371.83 248.85 L372.43 248.69 L373.02 248.43 L373.61 248.10 L374.21 247.84 L374.80 247.63" stroke="#cc4650" stroke-width="1.05" fill="none" stroke-linejoin="round"/>
<path d="M244.20 298.40 L244.79 298.29 L245.39 298.11 L245.98 298.00 L246.57 297.89 L247.17 297.70 L247.76 297.55 L248.36 297.34 L248.95 297.19 L249.54 297.03 L250.14 296.85 L250.73 296.72 L251.32 296.55 L251.92 296.45 L252.51 296.23 L253.10 296.07 L253.70 295.86 L254.29 295.72 L254.89 295.56 L255.48 295.39 L256.07 295.26 L256.67 295.17 L257.26 294.96 L257.85 294.73 L258.45 294.60 L259.04 294.34 L259.63 294.13 L260.23 293.99 L260.82 293.83 L261.42 293.62 L262.01 293.48 L262.60 293.30 L263.20 293.18 L263.79 293.01 L264.38 292.77 L264.98 292.60 L265.57 292.34 L266.16 292.20 L266.76 291.99 L267.35 291.84 L267.95 291.73 L268.54 291.62 L269.13 291.40 L269.73 291.20 L270.32 291.05 L270.91 290.93 L271.51 290.75 L272.10 290.66 L272.69 290.46 L273.29 290.36 L273.88 290.26 L274.48 290.16 L275.07 290.06 L275.66 289.98 L276.26 289.79 L276.85 289.64 L277.44 289.47 L278.04 289.33 L278.63 289.25 L279.22 289.13 L279.82 288.98 L280.41 288.86 L281.01 288.78 L281.60 288.64 L282.19 288.39 L282.79 288.17 L283.38 287.98 L283.97 287.72 L284.57 287.55 L285.16 287.38 L285.75 287.12 L286.35 286.97 L286.94 286.86 L287.54 286.72 L288.13 286.46 L288.72 286.31 L289.32 286.07 L289.91 285.82 L290.50 285.67 L291.10 285.50 L291.69 285.29 L292.28 285.07 L292.88 284.91 L293.47 284.69 L294.07 284.45 L294.66 284.19 L295.25 283.82 L295.85 283.52 L296.44 283.22 L297.03 283.01 L297.63 282.70 L298.22 282.48 L298.81 282.18 L299.41 282.02 L300.00 281.66 L300.60 281.38 L301.19 281.05 L301.78 280.67 L302.38 280.44 L302.97 280.18 L303.56 279.91 L304.16 279.45 L304.75 279.22 L305.34 278.88 L305.94 278.73 L306.53 278.58 L307.13 278.46 L307.72 278.22 L308.31 277.98 L308.91 277.83 L309.50 277.66 L310.09 277.39 L310.69 277.12 L311.28 276.97 L311.87 276.83 L312.47 276.55 L313.06 276.41 L313.66 276.26 L314.25 276.12 L314.84 275.97 L315.44 275.65 L316.03 275.37 L316.62 275.05 L317.22 274.86 L317.81 274.57 L318.40 274.36 L319.00 274.15 L319.59 273.93 L320.19 273.64 L320.78 273.40 L321.37 273.02 L321.97 272.82 L322.56 272.40 L323.15 272.07 L323.75 271.65 L324.34 271.21 L324.93 271.06 L325.53 270.86 L326.12 270.69 L326.72 270.52 L327.31 270.28 L327.90 269.99 L328.50 269.81 L329.09 269.64 L329.68 269.49 L330.28 269.23 L330.87 269.10 L331.46 268.95 L332.06 268.78 L332.65 268.62 L333.25 268.35 L333.84 268.12 L334.43 267.68 L335.03 267.12 L335.62 266.57 L336.21 266.14 L336.81 265.53 L337.40 265.07 L337.99 264.51 L338.59 264.07 L339.18 263.66 L339.78 263.25 L340.37 262.67 L340.96 262.27 L341.56 261.70 L342.15 260.99 L342.74 260.43 L343.34 260.03 L343.93 259.46 L344.52 258.94 L345.12 258.63 L345.71 258.22 L346.31 257.74 L346.90 257.22 L347.49 256.92 L348.09 256.64 L348.68 256.15 L349.27 255.69 L349.87 255.44 L350.46 254.96 L351.05 254.57 L351.65 254.11 L352.24 253.52 L352.84 252.95 L353.43 252.71 L354.02 252.27 L354.62 251.81 L355.21 251.47 L355.80 251.23 L356.40 250.75 L356.99 250.41 L357.58 250.08 L358.18 249.53 L358.77 248.93 L359.37 248.54 L359.96 247.91 L360.55 247.62 L361.15 247.27 L361.74 246.97 L362.33 246.46 L362.93 246.11 L363.52 245.85 L364.11 245.61 L364.71 245.18 L365.30 244.56 L365.90 244.10 L366.49 243.53 L367.08 242.91 L367.68 242.57 L368.27 241.94 L368.86 241.48 L369.46 241.27 L370.05 241.06 L370.64 240.90 L371.24 240.64 L371.83 240.43 L372.43 240.25 L373.02 239.93 L373.61 239.56 L374.21 239.25 L374.80 239.00" stroke="#ff9c1e" stroke-width="1.05" fill="none" stroke-linejoin="round"/>
<path d="M23.40 401.16 L23.95 402.27 L24.30 373.94 L24.50 395.72 L25.05 400.23 L25.60 400.87 L26.15 396.92 L26.70 405.07 L27.25 396.84 L27.80 405.38 L28.35 401.33 L28.90 400.29 L29.45 388.94 L29.80 374.35 L30.00 382.94 L30.55 400.78 L31.10 400.93 L31.65 407.01 L32.20 400.38 L32.75 401.20 L33.30 397.33 L33.85 400.87 L34.40 398.80 L34.95 400.80 L35.30 396.74 L35.50 401.52 L36.05 393.55 L36.60 406.05 L37.15 401.28 L37.70 405.75 L38.25 388.61 L38.60 376.46 L38.80 385.21 L39.35 398.85 L39.60 382.24 L39.90 401.99 L40.45 398.18 L41.00 400.74 L41.55 393.76 L42.10 406.77 L42.50 375.57 L42.65 397.91 L43.20 398.89 L43.75 406.43 L44.30 386.93 L44.50 379.95 L44.85 391.17 L45.40 402.57 L45.95 388.81 L46.40 368.02 L46.50 373.04 L47.05 399.62 L47.60 379.57 L47.80 370.22 L48.15 385.04 L48.70 400.43 L49.25 391.89 L49.80 368.31 L50.35 391.03 L50.90 400.10 L51.30 384.43 L51.45 399.62 L52.00 401.25 L52.55 402.45 L53.10 396.56 L53.65 401.10 L53.70 374.12 L54.20 398.46 L54.75 401.17 L55.30 406.21 L55.85 380.80 L56.20 364.61 L56.40 378.59 L56.95 401.36 L57.50 400.49 L58.05 400.73 L58.20 383.88 L58.60 398.18 L59.15 387.24 L59.70 355.55 L60.25 384.36 L60.70 362.33 L60.80 370.39 L61.35 398.97 L61.90 399.03 L62.45 400.29 L63.00 400.48 L63.55 401.20 L64.10 396.94 L64.65 399.75 L65.20 397.80 L65.75 406.27 L66.00 386.12 L66.30 398.03 L66.85 400.34 L67.40 401.28 L67.95 398.53 L68.50 405.74 L69.05 400.01 L69.60 398.68 L70.15 399.86 L70.70 404.68 L71.25 397.58 L71.80 395.60 L71.90 379.46 L72.35 406.51 L72.90 400.47 L73.45 401.50 L74.00 399.08 L74.55 401.71 L75.10 399.46 L75.65 395.90 L75.80 380.53 L76.20 401.00 L76.75 390.12 L77.20 370.67 L77.30 379.63 L77.85 406.91 L78.40 377.92 L78.95 404.87 L79.50 400.39 L80.05 398.64 L80.60 399.05 L81.15 400.19 L81.70 400.49 L82.25 401.58 L82.80 399.63 L83.35 406.72 L83.60 380.91 L83.90 406.23 L84.45 401.18 L85.00 401.79 L85.55 393.92 L86.10 402.59 L86.60 369.23 L86.65 406.75 L87.20 393.68 L87.75 405.88 L88.30 390.51 L88.50 384.41 L88.85 391.56 L89.40 400.05 L89.95 401.21 L90.50 401.81 L91.05 391.80 L91.50 376.88 L91.60 380.60 L92.15 404.08 L92.70 393.40 L93.25 391.97 L93.40 374.36 L93.80 404.02 L94.35 388.17 L94.90 380.92 L95.45 392.12 L96.00 393.66 L96.55 383.57 L97.10 392.40 L97.65 392.96 L98.20 389.35 L98.75 363.63 L98.90 353.71 L99.30 374.39 L99.85 394.63 L100.40 379.77 L100.95 394.81 L101.50 389.32 L102.05 403.38 L102.60 374.90 L102.80 367.56 L103.15 380.42 L103.70 393.12 L104.10 356.80 L104.25 403.14 L104.80 377.30 L105.30 366.23 L105.35 369.90 L105.90 397.87 L106.45 393.43 L107.00 393.53 L107.55 373.88 L108.10 344.07 L108.65 373.55 L109.20 377.65 L109.75 391.33 L110.30 397.30 L110.85 392.57 L111.40 387.95 L111.60 371.69 L111.95 392.75 L112.50 392.59 L113.05 396.37 L113.50 376.30 L113.60 391.66 L114.15 390.89 L114.70 393.74 L115.25 387.57 L115.80 388.93 L115.90 358.96 L116.35 396.49 L116.90 390.86 L117.45 397.12 L117.50 378.65 L118.00 393.46 L118.55 392.03 L119.10 388.10 L119.65 384.68 L120.20 395.53 L120.75 389.55 L121.00 386.78 L121.30 391.35 L121.85 397.50 L122.40 384.94 L122.95 394.45 L123.50 395.05 L124.05 397.21 L124.60 376.66 L124.90 365.24 L125.15 378.09 L125.70 396.79 L126.25 386.41 L126.80 392.83 L127.35 386.70 L127.90 395.95 L128.20 376.40 L128.45 391.79 L129.00 390.53 L129.55 402.93 L130.10 400.80 L130.65 400.65 L131.20 399.30 L131.75 400.88 L132.10 376.27 L132.30 397.48 L132.85 396.62 L133.40 406.76 L133.50 379.48 L133.95 405.84 L134.50 397.83 L135.05 401.27 L135.60 392.32 L136.00 380.10 L136.15 385.19 L136.70 400.39 L137.25 396.85 L137.80 405.31 L138.35 389.63 L138.90 389.42 L139.00 355.24 L139.45 399.45 L140.00 393.64 L140.55 397.70 L140.60 366.41 L141.10 407.02 L141.65 401.33 L142.20 398.78 L142.75 361.03 L142.90 345.08 L143.30 372.19 L143.85 387.16 L143.90 356.87 L144.40 405.78 L144.90 363.91 L144.95 393.52 L145.50 392.80 L146.05 402.23 L146.60 399.05 L147.15 406.15 L147.70 358.20 L147.80 345.57 L148.25 374.49 L148.80 356.76 L149.35 387.61 L149.90 400.20 L150.45 395.13 L151.00 406.38 L151.55 392.58 L152.10 399.96 L152.65 383.74 L152.70 379.09 L153.20 391.33 L153.70 370.91 L153.75 378.34 L154.30 398.07 L154.85 401.22 L155.40 402.42 L155.95 392.49 L156.50 405.10 L156.60 368.24 L157.05 397.40 L157.60 396.83 L158.15 400.49 L158.70 388.65 L159.20 364.47 L159.25 369.93 L159.80 399.47 L160.35 392.95 L160.90 372.26 L161.45 394.28 L162.00 405.94 L162.55 380.62 L162.90 364.87 L163.10 374.34 L163.65 402.46 L164.20 390.07" stroke="#3a3a3a" stroke-width="0.5" fill="none" stroke-linejoin="round"/>
<path d="M23.40 401.07 L23.95 402.16 L24.30 373.76 L24.50 395.63 L25.05 400.11 L25.60 400.58 L26.15 396.80 L26.70 405.06 L27.25 396.59 L27.80 405.28 L28.35 401.03 L28.90 399.99 L29.45 388.48 L29.80 373.67 L30.00 382.30 L30.55 400.61 L31.10 400.75 L31.65 407.00 L32.20 400.11 L32.75 401.05 L33.30 397.13 L33.85 400.52 L34.40 398.67 L34.95 400.59 L35.30 396.32 L35.50 401.40 L36.05 393.07 L36.60 406.02 L37.15 401.08 L37.70 405.73 L38.25 387.97 L38.60 376.10 L38.80 384.47 L39.35 398.71 L39.60 381.41 L39.90 401.95 L40.45 397.96 L41.00 400.52 L41.55 393.41 L42.10 406.76 L42.50 375.07 L42.65 397.62 L43.20 398.80 L43.75 406.39 L44.30 386.76 L44.50 378.63 L44.85 390.90 L45.40 402.42 L45.95 388.63 L46.40 367.12 L46.50 372.49 L47.05 399.28 L47.60 379.01 L47.80 369.90 L48.15 384.92 L48.70 400.30 L49.25 391.51 L49.80 367.26 L50.35 390.59 L50.90 399.90 L51.30 383.65 L51.45 399.40 L52.00 401.10 L52.55 402.33 L53.10 396.05 L53.65 400.86 L53.70 373.21 L54.20 398.06 L54.75 401.09 L55.30 406.20 L55.85 379.73 L56.20 364.47 L56.40 377.33 L56.95 401.19 L57.50 400.39 L58.05 400.46 L58.20 382.71 L58.60 398.17 L59.15 386.30 L59.70 353.95 L60.25 384.14 L60.70 360.53 L60.80 369.40 L61.35 398.81 L61.90 398.66 L62.45 400.16 L63.00 400.31 L63.55 401.09 L64.10 396.45 L64.65 399.35 L65.20 397.77 L65.75 406.24 L66.00 385.34 L66.30 397.56 L66.85 400.20 L67.40 401.10 L67.95 398.25 L68.50 405.68 L69.05 399.85 L69.60 398.37 L70.15 399.69 L70.70 404.60 L71.25 397.11 L71.80 395.10 L71.90 379.24 L72.35 406.50 L72.90 400.32 L73.45 401.47 L74.00 398.88 L74.55 401.68 L75.10 399.21 L75.65 395.48 L75.80 379.94 L76.20 400.85 L76.75 389.39 L77.20 369.94 L77.30 378.28 L77.85 406.90 L78.40 377.02 L78.95 404.86 L79.50 400.31 L80.05 398.29 L80.60 398.87 L81.15 400.11 L81.70 400.21 L82.25 401.56 L82.80 399.24 L83.35 406.71 L83.60 380.71 L83.90 406.22 L84.45 401.12 L85.00 401.66 L85.55 393.57 L86.10 402.49 L86.60 368.52 L86.65 406.73 L87.20 393.29 L87.75 405.87 L88.30 389.88 L88.50 383.56 L88.85 390.72 L89.40 399.97 L89.95 401.07 L90.50 401.66 L91.05 391.36 L91.50 375.96 L91.60 379.80 L92.15 404.04 L92.70 392.83 L93.25 391.61 L93.40 373.72 L93.80 403.96 L94.35 387.40 L94.90 380.14 L95.45 391.29 L96.00 393.42 L96.55 383.19 L97.10 391.93 L97.65 392.69 L98.20 388.72 L98.75 362.16 L98.90 351.50 L99.30 372.90 L99.85 394.28 L100.40 378.91 L100.95 394.40 L101.50 389.25 L102.05 403.26 L102.60 374.66 L102.80 367.59 L103.15 380.08 L103.70 393.01 L104.10 355.64 L104.25 403.02 L104.80 377.09 L105.30 365.66 L105.35 369.55 L105.90 397.57 L106.45 393.33 L107.00 393.07 L107.55 373.18 L108.10 342.49 L108.65 372.99 L109.20 376.72 L109.75 390.74 L110.30 397.16 L110.85 392.33 L111.40 387.35 L111.60 370.34 L111.95 392.46 L112.50 392.34 L113.05 396.10 L113.50 375.65 L113.60 391.47 L114.15 390.33 L114.70 393.45 L115.25 386.76 L115.80 388.32 L115.90 357.43 L116.35 396.17 L116.90 390.43 L117.45 396.74 L117.50 377.79 L118.00 393.03 L118.55 391.45 L119.10 387.45 L119.65 383.66 L120.20 395.25 L120.75 389.51 L121.00 386.29 L121.30 390.67 L121.85 397.32 L122.40 384.06 L122.95 394.29 L123.50 394.70 L124.05 396.89 L124.60 376.08 L124.90 363.40 L125.15 377.17 L125.70 396.27 L126.25 386.01 L126.80 392.27 L127.35 386.52 L127.90 395.62 L128.20 375.58 L128.45 391.46 L129.00 390.19 L129.55 402.82 L130.10 400.67 L130.65 400.42 L131.20 398.98 L131.75 400.71 L132.10 376.14 L132.30 397.38 L132.85 396.30 L133.40 406.75 L133.50 378.90 L133.95 405.80 L134.50 397.74 L135.05 401.06 L135.60 392.15 L136.00 379.63 L136.15 384.37 L136.70 400.21 L137.25 396.34 L137.80 405.26 L138.35 389.11 L138.90 388.92 L139.00 353.74 L139.45 399.17 L140.00 393.50 L140.55 397.52 L140.60 364.91 L141.10 407.00 L141.65 401.02 L142.20 398.44 L142.75 360.13 L142.90 343.81 L143.30 370.90 L143.85 387.17 L143.90 355.99 L144.40 405.70 L144.90 363.09 L144.95 393.22 L145.50 392.82 L146.05 402.14 L146.60 398.81 L147.15 406.12 L147.70 356.64 L147.80 344.22 L148.25 373.26 L148.80 356.02 L149.35 387.02 L149.90 399.90 L150.45 394.78 L151.00 406.35 L151.55 392.02 L152.10 399.71 L152.65 383.00 L152.70 378.37 L153.20 390.84 L153.70 370.59 L153.75 377.39 L154.30 397.96 L154.85 401.01 L155.40 402.22 L155.95 392.40 L156.50 405.02 L156.60 366.82 L157.05 397.19 L157.60 396.55 L158.15 400.39 L158.70 388.26 L159.20 362.95 L159.25 368.85 L159.80 399.30 L160.35 392.79 L160.90 372.23 L161.45 393.77 L162.00 405.93 L162.55 380.02 L162.90 363.08 L163.10 373.54 L163.65 402.32 L164.20 389.79" stroke="#4450f0" stroke-width="0.65" fill="none" stroke-linejoin="round"/>
<path d="M23.40 401.47 L23.95 402.36 L24.30 375.53 L24.50 396.30 L25.05 400.46 L25.60 401.00 L26.15 397.27 L26.70 405.15 L27.25 397.17 L27.80 405.43 L28.35 401.45 L28.90 400.47 L29.45 389.63 L29.80 374.94 L30.00 383.47 L30.55 400.93 L31.10 401.24 L31.65 407.03 L32.20 400.57 L32.75 401.35 L33.30 397.70 L33.85 400.91 L34.40 399.10 L34.95 400.96 L35.30 397.04 L35.50 401.80 L36.05 393.91 L36.60 406.07 L37.15 401.48 L37.70 405.80 L38.25 389.02 L38.60 377.11 L38.80 385.62 L39.35 399.15 L39.60 382.96 L39.90 402.14 L40.45 398.60 L41.00 401.00 L41.55 394.04 L42.10 406.79 L42.50 376.77 L42.65 398.18 L43.20 399.20 L43.75 406.44 L44.30 387.69 L44.50 380.46 L44.85 391.56 L45.40 402.77 L45.95 389.27 L46.40 368.95 L46.50 373.68 L47.05 399.89 L47.60 380.85 L47.80 371.93 L48.15 386.09 L48.70 400.75 L49.25 392.22 L49.80 369.75 L50.35 391.30 L50.90 400.21 L51.30 384.69 L51.45 399.76 L52.00 401.44 L52.55 402.57 L53.10 396.80 L53.65 401.31 L53.70 375.02 L54.20 398.73 L54.75 401.37 L55.30 406.25 L55.85 381.56 L56.20 366.79 L56.40 378.94 L56.95 401.53 L57.50 400.87 L58.05 400.77 L58.20 384.44 L58.60 398.62 L59.15 387.63 L59.70 357.05 L60.25 385.31 L60.70 363.60 L60.80 371.72 L61.35 399.40 L61.90 399.20 L62.45 400.43 L63.00 400.66 L63.55 401.36 L64.10 397.35 L64.65 399.94 L65.20 398.14 L65.75 406.30 L66.00 386.20 L66.30 398.26 L66.85 400.56 L67.40 401.42 L67.95 398.82 L68.50 405.77 L69.05 400.36 L69.60 398.95 L70.15 400.08 L70.70 404.76 L71.25 397.65 L71.80 395.88 L71.90 380.29 L72.35 406.54 L72.90 400.63 L73.45 401.82 L74.00 399.24 L74.55 401.92 L75.10 399.72 L75.65 396.24 L75.80 381.19 L76.20 401.19 L76.75 390.48 L77.20 371.52 L77.30 380.41 L77.85 406.92 L78.40 379.39 L78.95 404.98 L79.50 400.62 L80.05 398.93 L80.60 399.40 L81.15 400.57 L81.70 400.66 L82.25 401.79 L82.80 399.85 L83.35 406.74 L83.60 382.39 L83.90 406.30 L84.45 401.50 L85.00 401.95 L85.55 394.47 L86.10 402.73 L86.60 371.14 L86.65 406.78 L87.20 394.31 L87.75 405.93 L88.30 390.99 L88.50 384.71 L88.85 391.74 L89.40 400.34 L89.95 401.43 L90.50 402.00 L91.05 392.13 L91.50 377.12 L91.60 381.63 L92.15 404.24 L92.70 393.57 L93.25 392.33 L93.40 375.17 L93.80 404.16 L94.35 388.83 L94.90 382.23 L95.45 392.24 L96.00 394.25 L96.55 384.41 L97.10 392.85 L97.65 393.64 L98.20 390.03 L98.75 365.08 L98.90 354.81 L99.30 375.43 L99.85 395.10 L100.40 380.61 L100.95 395.16 L101.50 390.30 L102.05 403.54 L102.60 375.94 L102.80 369.14 L103.15 381.60 L103.70 393.60 L104.10 357.70 L104.25 403.23 L104.80 378.43 L105.30 368.31 L105.35 371.89 L105.90 398.19 L106.45 393.86 L107.00 393.88 L107.55 374.84 L108.10 345.96 L108.65 374.84 L109.20 378.39 L109.75 391.47 L110.30 397.61 L110.85 393.28 L111.40 388.66 L111.60 372.45 L111.95 393.18 L112.50 392.95 L113.05 396.74 L113.50 377.68 L113.60 392.31 L114.15 391.25 L114.70 394.04 L115.25 387.96 L115.80 389.01 L115.90 360.04 L116.35 396.77 L116.90 391.29 L117.45 397.20 L117.50 379.63 L118.00 393.59 L118.55 392.55 L119.10 388.41 L119.65 384.76 L120.20 395.64 L120.75 390.04 L121.00 387.14 L121.30 391.61 L121.85 397.82 L122.40 385.60 L122.95 394.71 L123.50 395.40 L124.05 397.50 L124.60 377.82 L124.90 366.83 L125.15 379.15 L125.70 397.04 L126.25 386.62 L126.80 393.03 L127.35 387.63 L127.90 396.25 L128.20 377.19 L128.45 392.43 L129.00 390.89 L129.55 403.04 L130.10 400.97 L130.65 400.80 L131.20 399.59 L131.75 400.97 L132.10 377.23 L132.30 397.69 L132.85 397.06 L133.40 406.78 L133.50 380.13 L133.95 405.89 L134.50 398.07 L135.05 401.44 L135.60 393.08 L136.00 381.01 L136.15 385.88 L136.70 400.49 L137.25 397.14 L137.80 405.36 L138.35 390.29 L138.90 389.98 L139.00 357.41 L139.45 399.71 L140.00 393.89 L140.55 397.91 L140.60 367.29 L141.10 407.03 L141.65 401.51 L142.20 399.10 L142.75 362.78 L142.90 346.81 L143.30 373.44 L143.85 388.02 L143.90 358.36 L144.40 405.82 L144.90 365.86 L144.95 394.23 L145.50 393.62 L146.05 402.41 L146.60 399.27 L147.15 406.20 L147.70 359.84 L147.80 347.67 L148.25 375.02 L148.80 359.25 L149.35 388.40 L149.90 400.25 L150.45 395.37 L151.00 406.39 L151.55 393.09 L152.10 400.08 L152.65 384.57 L152.70 379.63 L153.20 391.76 L153.70 372.33 L153.75 379.01 L154.30 398.39 L154.85 401.43 L155.40 402.56 L155.95 393.33 L156.50 405.11 L156.60 369.32 L157.05 397.63 L157.60 397.10 L158.15 400.62 L158.70 389.27 L159.20 365.93 L159.25 371.00 L159.80 399.75 L160.35 393.53 L160.90 373.52 L161.45 394.47 L162.00 406.00 L162.55 381.43 L162.90 365.99 L163.10 374.69 L163.65 402.63 L164.20 390.45" stroke="#3f9a50" stroke-width="0.45" fill="none" stroke-linejoin="round"/>
<path d="M23.40 401.59 L23.95 402.54 L24.30 375.73 L24.50 396.39 L25.05 400.65 L25.60 401.16 L26.15 397.52 L26.70 405.24 L27.25 397.63 L27.80 405.44 L28.35 401.56 L28.90 400.59 L29.45 389.88 L29.80 376.24 L30.00 384.30 L30.55 401.13 L31.10 401.26 L31.65 407.04 L32.20 400.82 L32.75 401.50 L33.30 398.04 L33.85 401.21 L34.40 399.25 L34.95 401.11 L35.30 397.15 L35.50 401.97 L36.05 394.09 L36.60 406.13 L37.15 401.59 L37.70 405.87 L38.25 389.53 L38.60 378.32 L38.80 385.91 L39.35 399.51 L39.60 383.68 L39.90 402.28 L40.45 398.60 L41.00 401.10 L41.55 394.44 L42.10 406.80 L42.50 377.64 L42.65 398.47 L43.20 399.39 L43.75 406.48 L44.30 388.29 L44.50 381.34 L44.85 392.28 L45.40 402.87 L45.95 389.74 L46.40 369.92 L46.50 375.41 L47.05 400.03 L47.60 381.21 L47.80 372.04 L48.15 386.56 L48.70 400.98 L49.25 392.59 L49.80 370.56 L50.35 391.79 L50.90 400.39 L51.30 385.76 L51.45 400.06 L52.00 401.53 L52.55 402.79 L53.10 397.10 L53.65 401.41 L53.70 376.21 L54.20 398.86 L54.75 401.56 L55.30 406.29 L55.85 381.93 L56.20 367.85 L56.40 380.22 L56.95 401.67 L57.50 401.03 L58.05 400.94 L58.20 384.63 L58.60 398.69 L59.15 388.15 L59.70 358.19 L60.25 385.42 L60.70 364.17 L60.80 371.84 L61.35 399.51 L61.90 399.59 L62.45 400.68 L63.00 400.91 L63.55 401.59 L64.10 397.45 L64.65 400.00 L65.20 398.48 L65.75 406.31 L66.00 387.26 L66.30 398.35 L66.85 400.87 L67.40 401.61 L67.95 399.06 L68.50 405.86 L69.05 400.51 L69.60 399.09 L70.15 400.31 L70.70 404.87 L71.25 397.97 L71.80 396.30 L71.90 381.49 L72.35 406.57 L72.90 400.84 L73.45 401.91 L74.00 399.56 L74.55 402.13 L75.10 399.95 L75.65 396.38 L75.80 382.04 L76.20 401.36 L76.75 390.71 L77.20 372.46 L77.30 381.02 L77.85 406.93 L78.40 379.75 L78.95 405.06 L79.50 400.86 L80.05 399.15 L80.60 399.48 L81.15 400.62 L81.70 400.94 L82.25 402.03 L82.80 399.94 L83.35 406.77 L83.60 382.83 L83.90 406.31 L84.45 401.65 L85.00 402.14 L85.55 394.63 L86.10 402.83 L86.60 371.67 L86.65 406.79 L87.20 394.68 L87.75 405.98 L88.30 391.33 L88.50 385.49 L88.85 392.32 L89.40 400.45 L89.95 401.55 L90.50 402.12 L91.05 392.35 L91.50 377.93 L91.60 382.38 L92.15 404.26 L92.70 394.12 L93.25 392.76 L93.40 376.60 L93.80 404.29 L94.35 388.89 L94.90 382.79 L95.45 392.56 L96.00 394.34 L96.55 385.06 L97.10 393.20 L97.65 393.83 L98.20 390.24 L98.75 365.26 L98.90 355.78 L99.30 376.19 L99.85 395.46 L100.40 381.47 L100.95 395.73 L101.50 390.75 L102.05 403.67 L102.60 376.78 L102.80 370.69 L103.15 382.19 L103.70 393.83 L104.10 359.56 L104.25 403.32 L104.80 379.43 L105.30 369.05 L105.35 372.81 L105.90 398.57 L106.45 394.32 L107.00 394.11 L107.55 375.74 L108.10 347.58 L108.65 376.02 L109.20 379.42 L109.75 392.09 L110.30 397.98 L110.85 393.77 L111.40 389.16 L111.60 373.07 L111.95 393.81 L112.50 393.73 L113.05 396.78 L113.50 378.70 L113.60 392.59 L114.15 392.07 L114.70 394.28 L115.25 388.45 L115.80 389.83 L115.90 362.01 L116.35 397.07 L116.90 391.90 L117.45 397.60 L117.50 380.65 L118.00 394.20 L118.55 393.03 L119.10 389.15 L119.65 385.49 L120.20 395.99 L120.75 390.57 L121.00 387.90 L121.30 392.10 L121.85 397.93 L122.40 386.14 L122.95 395.18 L123.50 395.93 L124.05 397.77 L124.60 378.80 L124.90 367.77 L125.15 379.88 L125.70 397.36 L126.25 387.54 L126.80 393.55 L127.35 388.11 L127.90 396.60 L128.20 378.62 L128.45 392.69 L129.00 391.41 L129.55 403.16 L130.10 401.10 L130.65 401.10 L131.20 399.78 L131.75 401.20 L132.10 378.34 L132.30 397.98 L132.85 397.35 L133.40 406.80 L133.50 381.16 L133.95 405.93 L134.50 398.47 L135.05 401.57 L135.60 393.36 L136.00 382.33 L136.15 386.47 L136.70 400.80 L137.25 397.38 L137.80 405.45 L138.35 390.78 L138.90 390.33 L139.00 358.78 L139.45 399.81 L140.00 394.52 L140.55 398.26 L140.60 368.50 L141.10 407.04 L141.65 401.63 L142.20 399.28 L142.75 363.22 L142.90 350.02 L143.30 373.61 L143.85 388.76 L143.90 359.62 L144.40 405.86 L144.90 367.16 L144.95 394.56 L145.50 393.85 L146.05 402.54 L146.60 399.43 L147.15 406.21 L147.70 361.57 L147.80 349.12 L148.25 375.80 L148.80 360.60 L149.35 388.58 L149.90 400.57 L150.45 395.72 L151.00 406.43 L151.55 393.39 L152.10 400.22 L152.65 385.34 L152.70 380.70 L153.20 392.17 L153.70 373.11 L153.75 379.39 L154.30 398.75 L154.85 401.62 L155.40 402.65 L155.95 393.38 L156.50 405.19 L156.60 370.81 L157.05 398.00 L157.60 397.24 L158.15 400.80 L158.70 390.12 L159.20 366.83 L159.25 371.83 L159.80 399.80 L160.35 393.91 L160.90 375.02 L161.45 394.89 L162.00 406.04 L162.55 382.00 L162.90 366.71 L163.10 376.31 L163.65 402.72 L164.20 391.06" stroke="#c8c8c8" stroke-width="0.45" fill="none" stroke-linejoin="round"/>
<path d="M23.40 402.59 L23.95 403.32 L24.30 381.45 L24.50 398.43 L25.05 401.79 L25.60 402.29 L26.15 399.14 L26.70 405.59 L27.25 399.26 L27.80 405.76 L28.35 402.53 L28.90 401.85 L29.45 392.77 L29.80 381.66 L30.00 388.02 L30.55 402.20 L31.10 402.31 L31.65 407.09 L32.20 401.82 L32.75 402.57 L33.30 399.50 L33.85 402.25 L34.40 400.57 L34.95 402.16 L35.30 398.87 L35.50 402.86 L36.05 396.43 L36.60 406.33 L37.15 402.61 L37.70 406.10 L38.25 392.21 L38.60 382.95 L38.80 389.45 L39.35 400.83 L39.60 387.29 L39.90 403.16 L40.45 400.16 L41.00 402.10 L41.55 396.62 L42.10 406.91 L42.50 382.42 L42.65 399.85 L43.20 400.73 L43.75 406.62 L44.30 391.50 L44.50 385.25 L44.85 394.43 L45.40 403.67 L45.95 392.71 L46.40 376.06 L46.50 380.38 L47.05 401.30 L47.60 385.63 L47.80 378.28 L48.15 389.99 L48.70 402.06 L49.25 395.26 L49.80 376.16 L50.35 394.44 L50.90 401.61 L51.30 389.12 L51.45 401.26 L52.00 402.47 L52.55 403.47 L53.10 398.93 L53.65 402.39 L53.70 381.68 L54.20 400.32 L54.75 402.48 L55.30 406.46 L55.85 386.46 L56.20 373.60 L56.40 384.71 L56.95 402.55 L57.50 401.99 L58.05 402.15 L58.20 388.73 L58.60 400.21 L59.15 391.04 L59.70 367.16 L60.25 389.31 L60.70 371.18 L60.80 378.31 L61.35 400.78 L61.90 400.74 L62.45 401.71 L63.00 401.97 L63.55 402.54 L64.10 399.20 L64.65 401.34 L65.20 399.83 L65.75 406.51 L66.00 390.39 L66.30 400.00 L66.85 401.87 L67.40 402.55 L67.95 400.54 L68.50 406.08 L69.05 401.64 L69.60 400.47 L70.15 401.51 L70.70 405.24 L71.25 399.50 L71.80 398.10 L71.90 385.84 L72.35 406.70 L72.90 401.99 L73.45 402.77 L74.00 400.82 L74.55 402.97 L75.10 401.14 L75.65 398.29 L75.80 386.16 L76.20 402.25 L76.75 393.57 L77.20 378.38 L77.30 385.15 L77.85 407.00 L78.40 384.56 L78.95 405.42 L79.50 401.88 L80.05 400.45 L80.60 400.91 L81.15 401.84 L81.70 401.91 L82.25 402.86 L82.80 401.28 L83.35 406.88 L83.60 386.89 L83.90 406.49 L84.45 402.56 L85.00 403.04 L85.55 396.84 L86.10 403.62 L86.60 377.42 L86.65 406.89 L87.20 396.64 L87.75 406.21 L88.30 394.06 L88.50 389.05 L88.85 394.93 L89.40 401.72 L89.95 402.54 L90.50 403.07 L91.05 395.19 L91.50 383.05 L91.60 386.24 L92.15 404.80 L92.70 396.21 L93.25 395.28 L93.40 380.99 L93.80 404.74 L94.35 391.87 L94.90 386.89 L95.45 395.35 L96.00 396.55 L96.55 388.95 L97.10 395.73 L97.65 396.03 L98.20 393.01 L98.75 372.37 L98.90 365.43 L99.30 381.04 L99.85 397.49 L100.40 385.68 L100.95 397.48 L101.50 393.42 L102.05 404.27 L102.60 381.77 L102.80 376.31 L103.15 386.21 L103.70 396.38 L104.10 367.02 L104.25 404.08 L104.80 384.00 L105.30 375.10 L105.35 377.96 L105.90 399.92 L106.45 396.45 L107.00 396.38 L107.55 381.01 L108.10 357.48 L108.65 380.96 L109.20 383.79 L109.75 394.70 L110.30 399.57 L110.85 395.78 L111.40 392.21 L111.60 379.02 L111.95 395.82 L112.50 395.69 L113.05 398.72 L113.50 382.83 L113.60 394.98 L114.15 394.37 L114.70 396.66 L115.25 391.58 L115.80 392.82 L115.90 369.12 L116.35 398.96 L116.90 394.47 L117.45 399.32 L117.50 384.83 L118.00 396.32 L118.55 395.21 L119.10 391.90 L119.65 389.43 L120.20 397.90 L120.75 393.36 L121.00 391.13 L121.30 394.44 L121.85 399.70 L122.40 389.72 L122.95 397.17 L123.50 397.60 L124.05 399.32 L124.60 383.44 L124.90 373.80 L125.15 384.10 L125.70 398.83 L126.25 390.83 L126.80 395.81 L127.35 391.14 L127.90 398.33 L128.20 383.44 L128.45 395.09 L129.00 394.11 L129.55 403.88 L130.10 402.19 L130.65 402.15 L131.20 400.92 L131.75 402.26 L132.10 383.50 L132.30 399.51 L132.85 399.05 L133.40 406.90 L133.50 385.64 L133.95 406.19 L134.50 399.81 L135.05 402.53 L135.60 395.69 L136.00 385.96 L136.15 389.55 L136.70 401.75 L137.25 399.03 L137.80 405.76 L138.35 393.39 L138.90 393.27 L139.00 366.92 L139.45 401.09 L140.00 396.52 L140.55 399.69 L140.60 375.65 L141.10 407.09 L141.65 402.59 L142.20 400.57 L142.75 371.13 L142.90 359.52 L143.30 379.71 L143.85 391.70 L143.90 368.50 L144.40 406.13 L144.90 373.41 L144.95 396.64 L145.50 396.20 L146.05 403.37 L146.60 400.86 L147.15 406.41 L147.70 368.33 L147.80 358.31 L148.25 380.93 L148.80 367.99 L149.35 391.96 L149.90 401.63 L150.45 397.76 L151.00 406.58 L151.55 395.81 L152.10 401.45 L152.65 388.72 L152.70 385.22 L153.20 394.78 L153.70 378.90 L153.75 384.16 L154.30 400.11 L154.85 402.51 L155.40 403.49 L155.95 395.89 L156.50 405.55 L156.60 376.84 L157.05 399.57 L157.60 398.94 L158.15 402.01 L158.70 392.84 L159.20 373.22 L159.25 378.32 L159.80 401.13 L160.35 396.17 L160.90 379.81 L161.45 396.95 L162.00 406.25 L162.55 386.21 L162.90 373.82 L163.10 380.82 L163.65 403.54 L164.20 393.89" stroke="#cc4650" stroke-width="0.9" fill="none" stroke-linejoin="round"/>
<path d="M23.40 407.40 L23.40 401.76 L23.95 402.76 L24.30 377.50 L24.50 396.94 L25.05 401.01 L25.60 401.47 L26.15 397.99 L26.70 405.32 L27.25 397.80 L27.80 405.52 L28.35 401.82 L28.90 400.96 L29.45 390.54 L29.80 376.78 L30.00 405.99 L30.55 401.47 L31.10 401.48 L31.65 407.04 L32.20 406.33 L32.75 401.76 L33.30 398.24 L33.85 401.36 L34.40 399.63 L34.95 401.35 L35.30 397.51 L35.50 402.12 L36.05 394.82 L36.60 406.14 L37.15 401.78 L37.70 405.89 L38.25 390.19 L38.60 379.41 L38.80 387.15 L39.35 399.74 L39.60 384.18 L39.90 402.47 L40.45 398.89 L41.00 401.37 L41.55 394.73 L42.10 406.83 L42.50 405.57 L42.65 398.65 L43.20 399.70 L43.75 406.51 L44.30 388.64 L44.50 381.90 L44.85 392.69 L45.40 406.46 L45.95 390.54 L46.40 371.41 L46.50 375.68 L47.05 400.22 L47.60 382.71 L47.80 373.24 L48.15 405.52 L48.70 401.17 L49.25 393.28 L49.80 371.17 L50.35 392.28 L50.90 400.66 L51.30 386.10 L51.45 400.33 L52.00 401.71 L52.55 402.92 L53.10 406.16 L53.65 401.57 L53.70 377.60 L54.20 399.12 L54.75 401.73 L55.30 406.33 L55.85 382.66 L56.20 406.98 L56.40 380.81 L56.95 401.90 L57.50 405.69 L58.05 401.19 L58.20 385.56 L58.60 399.09 L59.15 388.76 L59.70 360.54 L60.25 386.40 L60.70 365.88 L60.80 372.91 L61.35 399.88 L61.90 399.79 L62.45 400.94 L63.00 406.48 L63.55 401.71 L64.10 397.77 L64.65 400.29 L65.20 398.71 L65.75 406.35 L66.00 406.90 L66.30 398.78 L66.85 405.14 L67.40 401.84 L67.95 399.48 L68.50 405.91 L69.05 400.71 L69.60 399.46 L70.15 400.41 L70.70 404.94 L71.25 398.42 L71.80 396.55 L71.90 381.97 L72.35 406.59 L72.90 405.99 L73.45 402.07 L74.00 399.81 L74.55 402.31 L75.10 400.13 L75.65 396.65 L75.80 382.67 L76.20 405.44 L76.75 391.45 L77.20 407.28 L77.30 381.46 L77.85 406.94 L78.40 380.66 L78.95 405.14 L79.50 401.12 L80.05 399.44 L80.60 399.80 L81.15 400.87 L81.70 406.45 L82.25 402.17 L82.80 400.19 L83.35 406.79 L83.60 383.62 L83.90 406.34 L84.45 401.73 L85.00 402.32 L85.55 395.01 L86.10 403.09 L86.60 373.01 L86.65 406.80 L87.20 394.86 L87.75 406.02 L88.30 391.83 L88.50 406.43 L88.85 406.74 L89.40 400.73 L89.95 401.70 L90.50 402.33 L91.05 406.06 L91.50 379.24 L91.60 406.25 L92.15 404.42 L92.70 394.52 L93.25 393.39 L93.40 377.03 L93.80 406.71 L94.35 389.59 L94.90 383.32 L95.45 405.98 L96.00 394.81 L96.55 386.10 L97.10 393.80 L97.65 394.35 L98.20 391.01 L98.75 366.75 L98.90 358.50 L99.30 376.93 L99.85 395.98 L100.40 407.02 L100.95 396.05 L101.50 391.23 L102.05 403.79 L102.60 407.28 L102.80 371.49 L103.15 406.14 L103.70 394.55 L104.10 360.65 L104.25 403.47 L104.80 380.02 L105.30 370.14 L105.35 373.73 L105.90 398.88 L106.45 394.68 L107.00 394.75 L107.55 377.11 L108.10 349.64 L108.65 406.60 L109.20 405.92 L109.75 392.33 L110.30 407.28 L110.85 393.91 L111.40 389.71 L111.60 374.60 L111.95 394.25 L112.50 393.88 L113.05 397.21 L113.50 379.49 L113.60 393.14 L114.15 392.51 L114.70 395.02 L115.25 388.88 L115.80 390.44 L115.90 363.64 L116.35 397.53 L116.90 392.45 L117.45 406.82 L117.50 381.13 L118.00 394.34 L118.55 393.54 L119.10 406.04 L119.65 405.64 L120.20 396.55 L120.75 391.28 L121.00 388.21 L121.30 392.58 L121.85 398.28 L122.40 406.46 L122.95 395.44 L123.50 395.99 L124.05 398.08 L124.60 379.67 L124.90 368.63 L125.15 405.66 L125.70 397.71 L126.25 388.36 L126.80 393.80 L127.35 388.45 L127.90 396.94 L128.20 379.31 L128.45 393.22 L129.00 391.75 L129.55 403.33 L130.10 401.39 L130.65 401.19 L131.20 399.91 L131.75 406.69 L132.10 379.17 L132.30 398.40 L132.85 397.69 L133.40 406.82 L133.50 382.18 L133.95 405.99 L134.50 398.63 L135.05 407.21 L135.60 393.64 L136.00 382.98 L136.15 387.16 L136.70 400.99 L137.25 397.71 L137.80 405.52 L138.35 391.55 L138.90 390.85 L139.00 360.25 L139.45 405.85 L140.00 394.77 L140.55 398.46 L140.60 370.33 L141.10 407.05 L141.65 405.78 L142.20 399.49 L142.75 364.59 L142.90 351.24 L143.30 375.46 L143.85 389.10 L143.90 361.06 L144.40 407.05 L144.90 367.56 L144.95 394.96 L145.50 394.44 L146.05 407.13 L146.60 399.75 L147.15 406.26 L147.70 363.21 L147.80 405.68 L148.25 376.86 L148.80 362.26 L149.35 389.42 L149.90 400.71 L150.45 405.09 L151.00 406.45 L151.55 393.72 L152.10 400.56 L152.65 385.87 L152.70 381.67 L153.20 392.87 L153.70 374.60 L153.75 380.97 L154.30 398.85 L154.85 401.76 L155.40 402.82 L155.95 393.91 L156.50 405.29 L156.60 371.76 L157.05 398.21 L157.60 397.69 L158.15 401.18 L158.70 390.63 L159.20 407.28 L159.25 373.42 L159.80 400.04 L160.35 394.58 L160.90 375.76 L161.45 395.44 L162.00 406.06 L162.55 383.01 L162.90 367.64 L163.10 377.24 L163.65 402.86 L164.20 391.51 L164.20 407.40Z" fill="#ffc878" fill-opacity="0.6" stroke="none"/>
<path d="M23.40 401.76 L23.95 402.76 L24.30 377.50 L24.50 396.94 L25.05 401.01 L25.60 401.47 L26.15 397.99 L26.70 405.32 L27.25 397.80 L27.80 405.52 L28.35 401.82 L28.90 400.96 L29.45 390.54 L29.80 376.78 L30.00 405.99 L30.55 401.47 L31.10 401.48 L31.65 407.04 L32.20 406.33 L32.75 401.76 L33.30 398.24 L33.85 401.36 L34.40 399.63 L34.95 401.35 L35.30 397.51 L35.50 402.12 L36.05 394.82 L36.60 406.14 L37.15 401.78 L37.70 405.89 L38.25 390.19 L38.60 379.41 L38.80 387.15 L39.35 399.74 L39.60 384.18 L39.90 402.47 L40.45 398.89 L41.00 401.37 L41.55 394.73 L42.10 406.83 L42.50 405.57 L42.65 398.65 L43.20 399.70 L43.75 406.51 L44.30 388.64 L44.50 381.90 L44.85 392.69 L45.40 406.46 L45.95 390.54 L46.40 371.41 L46.50 375.68 L47.05 400.22 L47.60 382.71 L47.80 373.24 L48.15 405.52 L48.70 401.17 L49.25 393.28 L49.80 371.17 L50.35 392.28 L50.90 400.66 L51.30 386.10 L51.45 400.33 L52.00 401.71 L52.55 402.92 L53.10 406.16 L53.65 401.57 L53.70 377.60 L54.20 399.12 L54.75 401.73 L55.30 406.33 L55.85 382.66 L56.20 406.98 L56.40 380.81 L56.95 401.90 L57.50 405.69 L58.05 401.19 L58.20 385.56 L58.60 399.09 L59.15 388.76 L59.70 360.54 L60.25 386.40 L60.70 365.88 L60.80 372.91 L61.35 399.88 L61.90 399.79 L62.45 400.94 L63.00 406.48 L63.55 401.71 L64.10 397.77 L64.65 400.29 L65.20 398.71 L65.75 406.35 L66.00 406.90 L66.30 398.78 L66.85 405.14 L67.40 401.84 L67.95 399.48 L68.50 405.91 L69.05 400.71 L69.60 399.46 L70.15 400.41 L70.70 404.94 L71.25 398.42 L71.80 396.55 L71.90 381.97 L72.35 406.59 L72.90 405.99 L73.45 402.07 L74.00 399.81 L74.55 402.31 L75.10 400.13 L75.65 396.65 L75.80 382.67 L76.20 405.44 L76.75 391.45 L77.20 407.28 L77.30 381.46 L77.85 406.94 L78.40 380.66 L78.95 405.14 L79.50 401.12 L80.05 399.44 L80.60 399.80 L81.15 400.87 L81.70 406.45 L82.25 402.17 L82.80 400.19 L83.35 406.79 L83.60 383.62 L83.90 406.34 L84.45 401.73 L85.00 402.32 L85.55 395.01 L86.10 403.09 L86.60 373.01 L86.65 406.80 L87.20 394.86 L87.75 406.02 L88.30 391.83 L88.50 406.43 L88.85 406.74 L89.40 400.73 L89.95 401.70 L90.50 402.33 L91.05 406.06 L91.50 379.24 L91.60 406.25 L92.15 404.42 L92.70 394.52 L93.25 393.39 L93.40 377.03 L93.80 406.71 L94.35 389.59 L94.90 383.32 L95.45 405.98 L96.00 394.81 L96.55 386.10 L97.10 393.80 L97.65 394.35 L98.20 391.01 L98.75 366.75 L98.90 358.50 L99.30 376.93 L99.85 395.98 L100.40 407.02 L100.95 396.05 L101.50 391.23 L102.05 403.79 L102.60 407.28 L102.80 371.49 L103.15 406.14 L103.70 394.55 L104.10 360.65 L104.25 403.47 L104.80 380.02 L105.30 370.14 L105.35 373.73 L105.90 398.88 L106.45 394.68 L107.00 394.75 L107.55 377.11 L108.10 349.64 L108.65 406.60 L109.20 405.92 L109.75 392.33 L110.30 407.28 L110.85 393.91 L111.40 389.71 L111.60 374.60 L111.95 394.25 L112.50 393.88 L113.05 397.21 L113.50 379.49 L113.60 393.14 L114.15 392.51 L114.70 395.02 L115.25 388.88 L115.80 390.44 L115.90 363.64 L116.35 397.53 L116.90 392.45 L117.45 406.82 L117.50 381.13 L118.00 394.34 L118.55 393.54 L119.10 406.04 L119.65 405.64 L120.20 396.55 L120.75 391.28 L121.00 388.21 L121.30 392.58 L121.85 398.28 L122.40 406.46 L122.95 395.44 L123.50 395.99 L124.05 398.08 L124.60 379.67 L124.90 368.63 L125.15 405.66 L125.70 397.71 L126.25 388.36 L126.80 393.80 L127.35 388.45 L127.90 396.94 L128.20 379.31 L128.45 393.22 L129.00 391.75 L129.55 403.33 L130.10 401.39 L130.65 401.19 L131.20 399.91 L131.75 406.69 L132.10 379.17 L132.30 398.40 L132.85 397.69 L133.40 406.82 L133.50 382.18 L133.95 405.99 L134.50 398.63 L135.05 407.21 L135.60 393.64 L136.00 382.98 L136.15 387.16 L136.70 400.99 L137.25 397.71 L137.80 405.52 L138.35 391.55 L138.90 390.85 L139.00 360.25 L139.45 405.85 L140.00 394.77 L140.55 398.46 L140.60 370.33 L141.10 407.05 L141.65 405.78 L142.20 399.49 L142.75 364.59 L142.90 351.24 L143.30 375.46 L143.85 389.10 L143.90 361.06 L144.40 407.05 L144.90 367.56 L144.95 394.96 L145.50 394.44 L146.05 407.13 L146.60 399.75 L147.15 406.26 L147.70 363.21 L147.80 405.68 L148.25 376.86 L148.80 362.26 L149.35 389.42 L149.90 400.71 L150.45 405.09 L151.00 406.45 L151.55 393.72 L152.10 400.56 L152.65 385.87 L152.70 381.67 L153.20 392.87 L153.70 374.60 L153.75 380.97 L154.30 398.85 L154.85 401.76 L155.40 402.82 L155.95 393.91 L156.50 405.29 L156.60 371.76 L157.05 398.21 L157.60 397.69 L158.15 401.18 L158.70 390.63 L159.20 407.28 L159.25 373.42 L159.80 400.04 L160.35 394.58 L160.90 375.76 L161.45 395.44 L162.00 406.06 L162.55 383.01 L162.90 367.64 L163.10 377.24 L163.65 402.86 L164.20 391.51" stroke="#ff9c1e" stroke-width="0.8" fill="none" stroke-linejoin="round"/>
<path d="M62 399.74H83" stroke="#4450f0" stroke-width="0.5" fill="none" opacity="0.8"/>
<path d="M244.20 407.40 L244.79 407.15 L245.39 407.00 L245.98 406.72 L246.57 406.49 L247.17 406.29 L247.76 406.02 L248.36 405.77 L248.95 405.54 L249.54 405.41 L250.14 405.17 L250.73 404.89 L251.32 404.59 L251.92 404.28 L252.51 404.06 L253.10 403.85 L253.70 403.68 L254.29 403.52 L254.89 403.32 L255.48 403.16 L256.07 402.98 L256.67 402.71 L257.26 402.47 L257.85 402.19 L258.45 401.93 L259.04 401.76 L259.63 401.61 L260.23 401.42 L260.82 401.13 L261.42 400.99 L262.01 400.75 L262.60 400.44 L263.20 400.28 L263.79 400.04 L264.38 399.74 L264.98 399.52 L265.57 399.07 L266.16 398.67 L266.76 398.45 L267.35 398.26 L267.95 397.85 L268.54 397.45 L269.13 397.17 L269.73 396.97 L270.32 396.77 L270.91 396.48 L271.51 396.00 L272.10 395.66 L272.69 395.42 L273.29 395.21 L273.88 394.90 L274.48 394.67 L275.07 394.42 L275.66 394.03 L276.26 393.73 L276.85 393.48 L277.44 393.30 L278.04 393.03 L278.63 392.82 L279.22 392.44 L279.82 392.19 L280.41 391.87 L281.01 391.54 L281.60 391.36 L282.19 391.06 L282.79 390.76 L283.38 390.63 L283.97 390.50 L284.57 390.34 L285.16 390.09 L285.75 389.90 L286.35 389.68 L286.94 389.48 L287.54 389.20 L288.13 389.07 L288.72 388.85 L289.32 388.73 L289.91 388.60 L290.50 388.44 L291.10 388.18 L291.69 388.03 L292.28 387.80 L292.88 387.59 L293.47 387.44 L294.07 387.08 L294.66 386.82 L295.25 386.64 L295.85 386.43 L296.44 386.22 L297.03 385.97 L297.63 385.59 L298.22 385.29 L298.81 385.10 L299.41 384.89 L300.00 384.61 L300.60 384.39 L301.19 384.01 L301.78 383.74 L302.38 383.43 L302.97 383.25 L303.56 382.93 L304.16 382.64 L304.75 382.41 L305.34 382.07 L305.94 381.81 L306.53 381.57 L307.13 381.43 L307.72 381.28 L308.31 380.97 L308.91 380.65 L309.50 380.47 L310.09 380.25 L310.69 379.85 L311.28 379.58 L311.87 379.24 L312.47 378.86 L313.06 378.56 L313.66 378.24 L314.25 377.97 L314.84 377.68 L315.44 377.26 L316.03 376.96 L316.62 376.47 L317.22 375.98 L317.81 375.72 L318.40 375.44 L319.00 375.10 L319.59 374.74 L320.19 374.36 L320.78 374.07 L321.37 373.77 L321.97 373.46 L322.56 373.24 L323.15 372.96 L323.75 372.52 L324.34 372.15 L324.93 371.84 L325.53 371.39 L326.12 370.95 L326.72 370.68 L327.31 370.30 L327.90 369.90 L328.50 369.47 L329.09 369.02 L329.68 368.71 L330.28 368.44 L330.87 368.10 L331.46 367.94 L332.06 367.70 L332.65 367.43 L333.25 367.10 L333.84 366.75 L334.43 366.42 L335.03 366.15 L335.62 365.95 L336.21 365.59 L336.81 365.21 L337.40 364.89 L337.99 364.64 L338.59 364.27 L339.18 364.04 L339.78 363.66 L340.37 363.42 L340.96 363.01 L341.56 362.84 L342.15 362.59 L342.74 362.31 L343.34 362.10 L343.93 361.70 L344.52 361.52 L345.12 361.19 L345.71 360.93 L346.31 360.49 L346.90 359.98 L347.49 359.50 L348.09 359.11 L348.68 358.62 L349.27 358.17 L349.87 357.74 L350.46 357.42 L351.05 357.10 L351.65 356.82 L352.24 356.26 L352.84 356.01 L353.43 355.55 L354.02 355.15 L354.62 354.80 L355.21 354.42 L355.80 353.91 L356.40 353.02 L356.99 352.06 L357.58 351.50 L358.18 350.45 L358.77 349.99 L359.37 349.50 L359.96 348.46 L360.55 348.08 L361.15 347.67 L361.74 347.41 L362.33 347.18 L362.93 346.99 L363.52 346.64 L364.11 346.32 L364.71 346.06 L365.30 345.80 L365.90 345.47 L366.49 345.15 L367.08 344.96 L367.68 344.67 L368.27 344.20 L368.86 343.89 L369.46 343.61 L370.05 343.42 L370.64 343.08 L371.24 342.60 L371.83 342.35 L372.43 341.92 L373.02 341.72 L373.61 341.29 L374.21 340.85 L374.80 340.71" stroke="#3a3a3a" stroke-width="1.05" fill="none" stroke-linejoin="round"/>
<path d="M244.20 407.40 L244.79 407.15 L245.39 407.01 L245.98 406.73 L246.57 406.50 L247.17 406.31 L247.76 406.04 L248.36 405.79 L248.95 405.57 L249.54 405.43 L250.14 405.20 L250.73 404.92 L251.32 404.62 L251.92 404.32 L252.51 404.10 L253.10 403.89 L253.70 403.73 L254.29 403.56 L254.89 403.37 L255.48 403.21 L256.07 403.03 L256.67 402.76 L257.26 402.53 L257.85 402.25 L258.45 402.00 L259.04 401.83 L259.63 401.68 L260.23 401.49 L260.82 401.21 L261.42 401.07 L262.01 400.83 L262.60 400.53 L263.20 400.37 L263.79 400.13 L264.38 399.83 L264.98 399.61 L265.57 399.17 L266.16 398.78 L266.76 398.56 L267.35 398.37 L267.95 397.97 L268.54 397.57 L269.13 397.29 L269.73 397.10 L270.32 396.90 L270.91 396.60 L271.51 396.14 L272.10 395.80 L272.69 395.57 L273.29 395.35 L273.88 395.05 L274.48 394.82 L275.07 394.58 L275.66 394.18 L276.26 393.89 L276.85 393.64 L277.44 393.46 L278.04 393.20 L278.63 392.99 L279.22 392.61 L279.82 392.37 L280.41 392.06 L281.01 391.72 L281.60 391.55 L282.19 391.25 L282.79 390.95 L283.38 390.83 L283.97 390.70 L284.57 390.54 L285.16 390.30 L285.75 390.11 L286.35 389.89 L286.94 389.70 L287.54 389.41 L288.13 389.29 L288.72 389.07 L289.32 388.95 L289.91 388.83 L290.50 388.66 L291.10 388.41 L291.69 388.26 L292.28 388.04 L292.88 387.82 L293.47 387.67 L294.07 387.32 L294.66 387.07 L295.25 386.89 L295.85 386.68 L296.44 386.47 L297.03 386.22 L297.63 385.84 L298.22 385.56 L298.81 385.37 L299.41 385.16 L300.00 384.88 L300.60 384.67 L301.19 384.28 L301.78 384.02 L302.38 383.72 L302.97 383.53 L303.56 383.22 L304.16 382.93 L304.75 382.71 L305.34 382.37 L305.94 382.12 L306.53 381.87 L307.13 381.73 L307.72 381.59 L308.31 381.28 L308.91 380.97 L309.50 380.79 L310.09 380.57 L310.69 380.17 L311.28 379.91 L311.87 379.58 L312.47 379.20 L313.06 378.90 L313.66 378.59 L314.25 378.32 L314.84 378.03 L315.44 377.62 L316.03 377.33 L316.62 376.84 L317.22 376.35 L317.81 376.09 L318.40 375.81 L319.00 375.49 L319.59 375.13 L320.19 374.76 L320.78 374.46 L321.37 374.16 L321.97 373.86 L322.56 373.65 L323.15 373.37 L323.75 372.93 L324.34 372.56 L324.93 372.26 L325.53 371.82 L326.12 371.38 L326.72 371.12 L327.31 370.74 L327.90 370.35 L328.50 369.92 L329.09 369.48 L329.68 369.17 L330.28 368.91 L330.87 368.57 L331.46 368.41 L332.06 368.17 L332.65 367.91 L333.25 367.57 L333.84 367.24 L334.43 366.91 L335.03 366.64 L335.62 366.44 L336.21 366.09 L336.81 365.71 L337.40 365.40 L337.99 365.15 L338.59 364.78 L339.18 364.56 L339.78 364.18 L340.37 363.94 L340.96 363.54 L341.56 363.37 L342.15 363.12 L342.74 362.85 L343.34 362.64 L343.93 362.24 L344.52 362.06 L345.12 361.74 L345.71 361.48 L346.31 361.05 L346.90 360.54 L347.49 360.07 L348.09 359.69 L348.68 359.20 L349.27 358.76 L349.87 358.33 L350.46 358.02 L351.05 357.70 L351.65 357.42 L352.24 356.86 L352.84 356.62 L353.43 356.16 L354.02 355.77 L354.62 355.42 L355.21 355.05 L355.80 354.54 L356.40 353.67 L356.99 352.72 L357.58 352.16 L358.18 351.12 L358.77 350.67 L359.37 350.18 L359.96 349.16 L360.55 348.79 L361.15 348.38 L361.74 348.12 L362.33 347.90 L362.93 347.70 L363.52 347.36 L364.11 347.05 L364.71 346.78 L365.30 346.53 L365.90 346.21 L366.49 345.89 L367.08 345.70 L367.68 345.41 L368.27 344.95 L368.86 344.64 L369.46 344.37 L370.05 344.18 L370.64 343.84 L371.24 343.37 L371.83 343.12 L372.43 342.69 L373.02 342.50 L373.61 342.08 L374.21 341.64 L374.80 341.50" stroke="#4450f0" stroke-width="1.05" fill="none" stroke-linejoin="round"/>
<path d="M244.20 407.40 L244.79 407.16 L245.39 407.03 L245.98 406.76 L246.57 406.54 L247.17 406.36 L247.76 406.11 L248.36 405.86 L248.95 405.65 L249.54 405.53 L250.14 405.30 L250.73 405.04 L251.32 404.75 L251.92 404.47 L252.51 404.26 L253.10 404.06 L253.70 403.90 L254.29 403.75 L254.89 403.56 L255.48 403.41 L256.07 403.24 L256.67 402.99 L257.26 402.76 L257.85 402.50 L258.45 402.25 L259.04 402.10 L259.63 401.96 L260.23 401.77 L260.82 401.50 L261.42 401.37 L262.01 401.14 L262.60 400.86 L263.20 400.71 L263.79 400.48 L264.38 400.19 L264.98 399.99 L265.57 399.56 L266.16 399.19 L266.76 398.98 L267.35 398.80 L267.95 398.42 L268.54 398.04 L269.13 397.77 L269.73 397.59 L270.32 397.40 L270.91 397.12 L271.51 396.68 L272.10 396.36 L272.69 396.13 L273.29 395.93 L273.88 395.64 L274.48 395.42 L275.07 395.19 L275.66 394.82 L276.26 394.54 L276.85 394.30 L277.44 394.13 L278.04 393.88 L278.63 393.69 L279.22 393.32 L279.82 393.09 L280.41 392.80 L281.01 392.48 L281.60 392.31 L282.19 392.03 L282.79 391.74 L283.38 391.63 L283.97 391.50 L284.57 391.35 L285.16 391.12 L285.75 390.94 L286.35 390.73 L286.94 390.55 L287.54 390.28 L288.13 390.16 L288.72 389.95 L289.32 389.84 L289.91 389.72 L290.50 389.56 L291.10 389.32 L291.69 389.18 L292.28 388.96 L292.88 388.76 L293.47 388.62 L294.07 388.29 L294.66 388.04 L295.25 387.87 L295.85 387.68 L296.44 387.48 L297.03 387.24 L297.63 386.88 L298.22 386.60 L298.81 386.42 L299.41 386.23 L300.00 385.96 L300.60 385.76 L301.19 385.39 L301.78 385.14 L302.38 384.85 L302.97 384.68 L303.56 384.38 L304.16 384.10 L304.75 383.89 L305.34 383.58 L305.94 383.33 L306.53 383.10 L307.13 382.97 L307.72 382.83 L308.31 382.53 L308.91 382.24 L309.50 382.07 L310.09 381.86 L310.69 381.48 L311.28 381.23 L311.87 380.91 L312.47 380.55 L313.06 380.27 L313.66 379.97 L314.25 379.72 L314.84 379.44 L315.44 379.05 L316.03 378.77 L316.62 378.30 L317.22 377.84 L317.81 377.60 L318.40 377.33 L319.00 377.02 L319.59 376.68 L320.19 376.32 L320.78 376.04 L321.37 375.76 L321.97 375.47 L322.56 375.27 L323.15 375.01 L323.75 374.59 L324.34 374.24 L324.93 373.95 L325.53 373.53 L326.12 373.11 L326.72 372.86 L327.31 372.50 L327.90 372.13 L328.50 371.72 L329.09 371.30 L329.68 371.00 L330.28 370.75 L330.87 370.43 L331.46 370.28 L332.06 370.06 L332.65 369.80 L333.25 369.49 L333.84 369.16 L334.43 368.85 L335.03 368.60 L335.62 368.41 L336.21 368.07 L336.81 367.71 L337.40 367.41 L337.99 367.18 L338.59 366.82 L339.18 366.61 L339.78 366.25 L340.37 366.03 L340.96 365.64 L341.56 365.48 L342.15 365.24 L342.74 364.99 L343.34 364.79 L343.93 364.41 L344.52 364.24 L345.12 363.93 L345.71 363.68 L346.31 363.27 L346.90 362.79 L347.49 362.34 L348.09 361.98 L348.68 361.51 L349.27 361.09 L349.87 360.69 L350.46 360.39 L351.05 360.08 L351.65 359.82 L352.24 359.29 L352.84 359.06 L353.43 358.62 L354.02 358.25 L354.62 357.92 L355.21 357.56 L355.80 357.08 L356.40 356.25 L356.99 355.34 L357.58 354.81 L358.18 353.82 L358.77 353.39 L359.37 352.93 L359.96 351.95 L360.55 351.60 L361.15 351.21 L361.74 350.97 L362.33 350.75 L362.93 350.57 L363.52 350.24 L364.11 349.94 L364.71 349.69 L365.30 349.46 L365.90 349.14 L366.49 348.84 L367.08 348.66 L367.68 348.39 L368.27 347.94 L368.86 347.66 L369.46 347.39 L370.05 347.22 L370.64 346.89 L371.24 346.44 L371.83 346.21 L372.43 345.80 L373.02 345.62 L373.61 345.21 L374.21 344.79 L374.80 344.66" stroke="#3f9a50" stroke-width="1.05" fill="none" stroke-linejoin="round"/>
<path d="M244.20 407.40 L244.79 407.17 L245.39 407.04 L245.98 406.77 L246.57 406.56 L247.17 406.38 L247.76 406.14 L248.36 405.90 L248.95 405.69 L249.54 405.57 L250.14 405.35 L250.73 405.09 L251.32 404.82 L251.92 404.54 L252.51 404.33 L253.10 404.13 L253.70 403.98 L254.29 403.83 L254.89 403.65 L255.48 403.50 L256.07 403.34 L256.67 403.09 L257.26 402.87 L257.85 402.61 L258.45 402.37 L259.04 402.22 L259.63 402.08 L260.23 401.90 L260.82 401.64 L261.42 401.51 L262.01 401.29 L262.60 401.01 L263.20 400.86 L263.79 400.64 L264.38 400.36 L264.98 400.16 L265.57 399.74 L266.16 399.38 L266.76 399.18 L267.35 399.00 L267.95 398.63 L268.54 398.26 L269.13 398.00 L269.73 397.82 L270.32 397.63 L270.91 397.36 L271.51 396.93 L272.10 396.61 L272.69 396.39 L273.29 396.19 L273.88 395.91 L274.48 395.70 L275.07 395.48 L275.66 395.11 L276.26 394.83 L276.85 394.61 L277.44 394.44 L278.04 394.19 L278.63 394.00 L279.22 393.65 L279.82 393.42 L280.41 393.13 L281.01 392.82 L281.60 392.66 L282.19 392.38 L282.79 392.10 L283.38 391.99 L283.97 391.87 L284.57 391.72 L285.16 391.49 L285.75 391.32 L286.35 391.12 L286.94 390.94 L287.54 390.67 L288.13 390.56 L288.72 390.36 L289.32 390.24 L289.91 390.13 L290.50 389.97 L291.10 389.74 L291.69 389.60 L292.28 389.39 L292.88 389.19 L293.47 389.05 L294.07 388.73 L294.66 388.49 L295.25 388.33 L295.85 388.13 L296.44 387.94 L297.03 387.71 L297.63 387.35 L298.22 387.09 L298.81 386.91 L299.41 386.72 L300.00 386.45 L300.60 386.26 L301.19 385.90 L301.78 385.65 L302.38 385.37 L302.97 385.20 L303.56 384.92 L304.16 384.64 L304.75 384.43 L305.34 384.13 L305.94 383.89 L306.53 383.66 L307.13 383.53 L307.72 383.39 L308.31 383.11 L308.91 382.82 L309.50 382.65 L310.09 382.45 L310.69 382.08 L311.28 381.84 L311.87 381.52 L312.47 381.17 L313.06 380.90 L313.66 380.60 L314.25 380.36 L314.84 380.08 L315.44 379.70 L316.03 379.43 L316.62 378.97 L317.22 378.53 L317.81 378.29 L318.40 378.03 L319.00 377.72 L319.59 377.39 L320.19 377.04 L320.78 376.77 L321.37 376.49 L321.97 376.21 L322.56 376.01 L323.15 375.75 L323.75 375.34 L324.34 375.00 L324.93 374.72 L325.53 374.31 L326.12 373.90 L326.72 373.66 L327.31 373.30 L327.90 372.94 L328.50 372.54 L329.09 372.13 L329.68 371.85 L330.28 371.60 L330.87 371.29 L331.46 371.13 L332.06 370.92 L332.65 370.67 L333.25 370.36 L333.84 370.05 L334.43 369.74 L335.03 369.50 L335.62 369.31 L336.21 368.98 L336.81 368.63 L337.40 368.34 L337.99 368.11 L338.59 367.76 L339.18 367.56 L339.78 367.20 L340.37 366.98 L340.96 366.61 L341.56 366.45 L342.15 366.22 L342.74 365.97 L343.34 365.77 L343.93 365.40 L344.52 365.24 L345.12 364.93 L345.71 364.69 L346.31 364.29 L346.90 363.82 L347.49 363.38 L348.09 363.03 L348.68 362.57 L349.27 362.16 L349.87 361.77 L350.46 361.47 L351.05 361.18 L351.65 360.92 L352.24 360.40 L352.84 360.17 L353.43 359.75 L354.02 359.39 L354.62 359.06 L355.21 358.71 L355.80 358.24 L356.40 357.43 L356.99 356.55 L357.58 356.03 L358.18 355.06 L358.77 354.64 L359.37 354.19 L359.96 353.24 L360.55 352.89 L361.15 352.51 L361.74 352.27 L362.33 352.06 L362.93 351.88 L363.52 351.56 L364.11 351.27 L364.71 351.03 L365.30 350.79 L365.90 350.49 L366.49 350.19 L367.08 350.02 L367.68 349.75 L368.27 349.32 L368.86 349.04 L369.46 348.78 L370.05 348.61 L370.64 348.29 L371.24 347.85 L371.83 347.62 L372.43 347.22 L373.02 347.04 L373.61 346.65 L374.21 346.24 L374.80 346.11" stroke="#c8c8c8" stroke-width="1.05" fill="none" stroke-linejoin="round"/>
<path d="M244.20 407.40 L244.79 407.21 L245.39 407.10 L245.98 406.89 L246.57 406.71 L247.17 406.56 L247.76 406.36 L248.36 406.16 L248.95 406.00 L249.54 405.89 L250.14 405.71 L250.73 405.50 L251.32 405.27 L251.92 405.04 L252.51 404.88 L253.10 404.71 L253.70 404.59 L254.29 404.47 L254.89 404.31 L255.48 404.19 L256.07 404.06 L256.67 403.85 L257.26 403.67 L257.85 403.46 L258.45 403.27 L259.04 403.14 L259.63 403.03 L260.23 402.88 L260.82 402.66 L261.42 402.55 L262.01 402.37 L262.60 402.14 L263.20 402.02 L263.79 401.84 L264.38 401.61 L264.98 401.44 L265.57 401.10 L266.16 400.80 L266.76 400.64 L267.35 400.49 L267.95 400.18 L268.54 399.88 L269.13 399.66 L269.73 399.52 L270.32 399.36 L270.91 399.14 L271.51 398.78 L272.10 398.52 L272.69 398.35 L273.29 398.18 L273.88 397.95 L274.48 397.77 L275.07 397.59 L275.66 397.29 L276.26 397.06 L276.85 396.88 L277.44 396.74 L278.04 396.54 L278.63 396.38 L279.22 396.09 L279.82 395.90 L280.41 395.66 L281.01 395.41 L281.60 395.27 L282.19 395.05 L282.79 394.82 L283.38 394.72 L283.97 394.62 L284.57 394.50 L285.16 394.31 L285.75 394.17 L286.35 394.01 L286.94 393.86 L287.54 393.64 L288.13 393.55 L288.72 393.38 L289.32 393.29 L289.91 393.19 L290.50 393.06 L291.10 392.87 L291.69 392.76 L292.28 392.59 L292.88 392.42 L293.47 392.31 L294.07 392.04 L294.66 391.84 L295.25 391.71 L295.85 391.55 L296.44 391.39 L297.03 391.20 L297.63 390.91 L298.22 390.69 L298.81 390.54 L299.41 390.39 L300.00 390.17 L300.60 390.01 L301.19 389.72 L301.78 389.51 L302.38 389.28 L302.97 389.14 L303.56 388.91 L304.16 388.68 L304.75 388.51 L305.34 388.26 L305.94 388.06 L306.53 387.87 L307.13 387.77 L307.72 387.65 L308.31 387.42 L308.91 387.18 L309.50 387.04 L310.09 386.88 L310.69 386.57 L311.28 386.37 L311.87 386.11 L312.47 385.82 L313.06 385.60 L313.66 385.36 L314.25 385.16 L314.84 384.93 L315.44 384.62 L316.03 384.39 L316.62 384.02 L317.22 383.65 L317.81 383.45 L318.40 383.24 L319.00 382.99 L319.59 382.71 L320.19 382.43 L320.78 382.20 L321.37 381.97 L321.97 381.74 L322.56 381.58 L323.15 381.37 L323.75 381.03 L324.34 380.75 L324.93 380.52 L325.53 380.18 L326.12 379.84 L326.72 379.64 L327.31 379.35 L327.90 379.05 L328.50 378.73 L329.09 378.39 L329.68 378.15 L330.28 377.95 L330.87 377.70 L331.46 377.57 L332.06 377.39 L332.65 377.19 L333.25 376.93 L333.84 376.67 L334.43 376.42 L335.03 376.22 L335.62 376.07 L336.21 375.80 L336.81 375.51 L337.40 375.27 L337.99 375.08 L338.59 374.79 L339.18 374.63 L339.78 374.33 L340.37 374.15 L340.96 373.85 L341.56 373.72 L342.15 373.53 L342.74 373.32 L343.34 373.16 L343.93 372.85 L344.52 372.72 L345.12 372.47 L345.71 372.27 L346.31 371.94 L346.90 371.56 L347.49 371.19 L348.09 370.90 L348.68 370.52 L349.27 370.19 L349.87 369.86 L350.46 369.62 L351.05 369.38 L351.65 369.17 L352.24 368.74 L352.84 368.55 L353.43 368.20 L354.02 367.90 L354.62 367.64 L355.21 367.35 L355.80 366.96 L356.40 366.29 L356.99 365.57 L357.58 365.14 L358.18 364.35 L358.77 364.00 L359.37 363.63 L359.96 362.85 L360.55 362.56 L361.15 362.25 L361.74 362.05 L362.33 361.88 L362.93 361.73 L363.52 361.47 L364.11 361.23 L364.71 361.03 L365.30 360.84 L365.90 360.59 L366.49 360.34 L367.08 360.20 L367.68 359.98 L368.27 359.62 L368.86 359.39 L369.46 359.18 L370.05 359.04 L370.64 358.78 L371.24 358.41 L371.83 358.23 L372.43 357.90 L373.02 357.75 L373.61 357.43 L374.21 357.09 L374.80 356.98" stroke="#cc4650" stroke-width="1.05" fill="none" stroke-linejoin="round"/>
<path d="M244.20 407.40 L244.79 407.18 L245.39 407.05 L245.98 406.80 L246.57 406.59 L247.17 406.42 L247.76 406.18 L248.36 405.95 L248.95 405.76 L249.54 405.64 L250.14 405.43 L250.73 405.18 L251.32 404.91 L251.92 404.64 L252.51 404.45 L253.10 404.26 L253.70 404.11 L254.29 403.97 L254.89 403.79 L255.48 403.65 L256.07 403.49 L256.67 403.25 L257.26 403.04 L257.85 402.79 L258.45 402.56 L259.04 402.42 L259.63 402.28 L260.23 402.11 L260.82 401.86 L261.42 401.73 L262.01 401.52 L262.60 401.25 L263.20 401.11 L263.79 400.89 L264.38 400.63 L264.98 400.43 L265.57 400.03 L266.16 399.68 L266.76 399.49 L267.35 399.32 L267.95 398.96 L268.54 398.60 L269.13 398.35 L269.73 398.18 L270.32 398.00 L270.91 397.74 L271.51 397.32 L272.10 397.02 L272.69 396.81 L273.29 396.62 L273.88 396.34 L274.48 396.14 L275.07 395.92 L275.66 395.57 L276.26 395.31 L276.85 395.09 L277.44 394.93 L278.04 394.69 L278.63 394.51 L279.22 394.17 L279.82 393.95 L280.41 393.67 L281.01 393.37 L281.60 393.21 L282.19 392.95 L282.79 392.68 L283.38 392.57 L283.97 392.45 L284.57 392.31 L285.16 392.09 L285.75 391.92 L286.35 391.73 L286.94 391.56 L287.54 391.30 L288.13 391.19 L288.72 391.00 L289.32 390.89 L289.91 390.78 L290.50 390.63 L291.10 390.40 L291.69 390.27 L292.28 390.07 L292.88 389.88 L293.47 389.74 L294.07 389.43 L294.66 389.20 L295.25 389.04 L295.85 388.86 L296.44 388.67 L297.03 388.45 L297.63 388.11 L298.22 387.85 L298.81 387.68 L299.41 387.50 L300.00 387.24 L300.60 387.05 L301.19 386.71 L301.78 386.47 L302.38 386.20 L302.97 386.04 L303.56 385.76 L304.16 385.50 L304.75 385.30 L305.34 385.00 L305.94 384.77 L306.53 384.55 L307.13 384.43 L307.72 384.30 L308.31 384.02 L308.91 383.75 L309.50 383.58 L310.09 383.39 L310.69 383.03 L311.28 382.80 L311.87 382.50 L312.47 382.16 L313.06 381.89 L313.66 381.61 L314.25 381.38 L314.84 381.11 L315.44 380.74 L316.03 380.48 L316.62 380.04 L317.22 379.61 L317.81 379.38 L318.40 379.13 L319.00 378.84 L319.59 378.51 L320.19 378.18 L320.78 377.92 L321.37 377.65 L321.97 377.38 L322.56 377.19 L323.15 376.95 L323.75 376.55 L324.34 376.22 L324.93 375.95 L325.53 375.56 L326.12 375.16 L326.72 374.93 L327.31 374.59 L327.90 374.24 L328.50 373.85 L329.09 373.46 L329.68 373.18 L330.28 372.95 L330.87 372.65 L331.46 372.50 L332.06 372.29 L332.65 372.06 L333.25 371.76 L333.84 371.45 L334.43 371.16 L335.03 370.92 L335.62 370.74 L336.21 370.43 L336.81 370.09 L337.40 369.81 L337.99 369.59 L338.59 369.25 L339.18 369.06 L339.78 368.72 L340.37 368.50 L340.96 368.14 L341.56 367.99 L342.15 367.77 L342.74 367.53 L343.34 367.34 L343.93 366.98 L344.52 366.82 L345.12 366.53 L345.71 366.30 L346.31 365.92 L346.90 365.46 L347.49 365.04 L348.09 364.70 L348.68 364.26 L349.27 363.86 L349.87 363.48 L350.46 363.20 L351.05 362.92 L351.65 362.67 L352.24 362.17 L352.84 361.95 L353.43 361.54 L354.02 361.19 L354.62 360.88 L355.21 360.54 L355.80 360.09 L356.40 359.31 L356.99 358.46 L357.58 357.96 L358.18 357.03 L358.77 356.63 L359.37 356.19 L359.96 355.27 L360.55 354.94 L361.15 354.58 L361.74 354.35 L362.33 354.14 L362.93 353.97 L363.52 353.66 L364.11 353.38 L364.71 353.15 L365.30 352.92 L365.90 352.63 L366.49 352.34 L367.08 352.18 L367.68 351.92 L368.27 351.50 L368.86 351.23 L369.46 350.99 L370.05 350.82 L370.64 350.51 L371.24 350.09 L371.83 349.87 L372.43 349.49 L373.02 349.31 L373.61 348.93 L374.21 348.54 L374.80 348.42" stroke="#ff9c1e" stroke-width="1.05" fill="none" stroke-linejoin="round"/>
<path d="M23.20 509.27 L23.75 509.96 L23.90 489.34 L24.30 507.97 L24.85 509.44 L25.40 513.71 L25.50 503.48 L25.95 509.92 L26.50 510.90 L27.05 511.52 L27.60 505.97 L28.15 513.77 L28.20 492.70 L28.70 511.52 L29.25 505.15 L29.80 510.05 L30.20 483.39 L30.35 510.32 L30.90 502.82 L31.45 514.60 L32.00 492.91 L32.10 485.67 L32.55 499.78 L33.10 509.09 L33.65 488.98 L33.70 483.79 L34.20 502.34 L34.75 514.35 L35.30 505.57 L35.70 496.72 L35.85 500.93 L36.40 514.38 L36.95 508.26 L37.50 514.75 L37.60 489.39 L38.05 510.93 L38.60 511.02 L39.15 510.41 L39.70 501.02 L40.20 481.17 L40.25 488.04 L40.80 514.29 L41.35 510.37 L41.90 510.38 L42.45 510.47 L43.00 510.34 L43.50 473.40 L43.55 510.46 L44.10 497.59 L44.65 510.37 L44.90 478.97 L45.20 510.45 L45.75 508.90 L46.30 510.46 L46.85 510.39 L47.40 510.40 L47.95 510.43 L48.50 510.37 L49.05 510.41 L49.60 510.36 L50.15 510.36 L50.70 510.47 L50.90 497.99 L51.25 510.39 L51.80 510.43 L52.35 510.39 L52.90 510.47 L53.45 510.46 L54.00 501.20 L54.30 493.71 L54.55 500.68 L55.10 511.41 L55.65 504.62 L56.20 510.60 L56.75 500.02 L57.20 484.15 L57.30 488.90 L57.85 510.27 L58.40 510.79 L58.95 514.21 L59.20 496.40 L59.50 515.09 L60.05 511.06 L60.60 511.82 L61.15 507.22 L61.70 510.66 L62.10 490.48 L62.25 509.29 L62.80 509.85 L63.35 508.88 L63.90 507.46 L64.45 515.01 L64.60 488.95 L65.00 513.77 L65.55 504.78 L66.00 493.38 L66.10 496.97 L66.65 511.17 L67.20 501.38 L67.75 510.60 L68.30 511.07 L68.85 511.62 L69.40 510.26 L69.95 508.58 L70.50 483.42 L71.05 504.31 L71.60 498.17 L72.15 506.36 L72.50 474.38 L72.70 511.21 L73.25 493.92 L73.80 505.14 L74.35 504.25 L74.90 514.83 L75.40 463.43 L75.45 512.48 L76.00 491.66 L76.55 506.12 L77.10 494.58 L77.20 493.15 L77.65 500.46 L78.20 502.47 L78.75 498.45 L79.30 511.37 L79.70 485.15 L79.85 502.45 L80.40 502.14 L80.95 501.69 L81.10 492.18 L81.50 504.48 L82.05 493.87 L82.60 500.70 L83.15 491.45 L83.60 475.71 L83.70 479.38 L84.25 500.67 L84.80 504.30 L85.35 504.83 L85.90 494.27 L86.45 504.22 L86.60 493.02 L87.00 506.66 L87.55 498.80 L88.10 505.54 L88.50 496.09 L88.65 511.25 L89.20 502.13 L89.75 504.76 L90.30 504.10 L90.85 502.21 L91.40 498.40 L91.50 497.26 L91.95 502.03 L92.50 509.48 L93.05 491.74 L93.20 481.80 L93.60 498.70 L94.15 510.53 L94.70 503.84 L95.25 514.14 L95.80 499.87 L96.30 490.44 L96.35 495.52 L96.90 510.44 L97.45 510.97 L98.00 510.08 L98.55 508.34 L99.10 510.61 L99.65 511.06 L100.20 514.23 L100.75 493.82 L100.80 490.53 L101.30 504.37 L101.85 510.44 L102.40 506.77 L102.95 515.09 L103.50 499.72 L103.70 494.55 L104.05 504.47 L104.60 509.61 L105.15 510.77 L105.70 511.03 L106.25 508.63 L106.80 505.94 L107.30 474.05 L107.35 509.47 L107.90 500.46 L108.45 510.69 L109.00 506.45 L109.55 513.64 L110.10 511.06 L110.65 507.49 L111.20 465.69 L111.75 509.89 L112.30 510.03 L112.85 510.94 L113.40 495.60 L113.50 491.98 L113.95 504.59 L114.50 510.99 L115.05 504.22 L115.60 514.03 L116.15 497.97 L116.50 485.93 L116.70 494.00 L117.25 511.29 L117.80 508.97 L118.35 515.09 L118.90 502.37 L119.45 515.08 L119.80 484.39 L120.00 505.55 L120.55 509.30 L121.10 510.99 L121.65 508.63 L122.20 514.89 L122.40 481.51 L122.75 514.59 L123.30 508.32 L123.85 511.41 L124.40 509.59 L124.95 508.77 L125.50 494.93 L126.05 493.91 L126.30 482.84 L126.60 495.49 L127.15 493.95 L127.70 496.64 L128.25 490.50 L128.80 486.20 L129.35 479.83 L129.60 469.12 L129.90 480.54 L130.45 491.57 L131.00 491.46 L131.55 511.19 L132.10 474.07 L132.65 496.01 L133.20 484.68 L133.75 495.61 L134.10 481.91 L134.30 492.22 L134.85 494.00 L135.40 493.65 L135.95 486.33 L136.50 513.99 L137.05 488.09 L137.60 490.17 L138.15 465.32 L138.40 451.48 L138.70 465.71 L139.25 508.74 L139.80 490.64 L140.35 496.11 L140.90 485.39 L141.30 473.29 L141.45 478.70 L142.00 513.67 L142.55 492.83 L143.10 496.20 L143.65 486.88 L143.90 482.67 L144.20 481.80 L144.75 492.76 L145.30 489.18 L145.85 509.57 L146.40 476.96 L146.95 496.97 L147.50 487.17 L148.05 492.66 L148.60 493.55 L149.15 492.26 L149.70 481.73 L149.80 478.08 L150.25 487.43 L150.80 492.41 L151.35 486.88 L151.70 479.64 L151.90 484.00 L152.45 496.44 L153.00 490.79 L153.55 488.16 L153.70 473.66 L154.10 495.61 L154.65 489.76 L155.20 507.90 L155.60 469.03 L155.75 492.83 L156.30 487.33 L156.85 490.74 L157.40 482.76 L157.60 476.27 L157.95 484.34 L158.50 494.02 L159.05 484.62 L159.60 467.99 L160.15 493.42 L160.70 509.11 L161.25 493.89 L161.50 482.06 L161.80 493.38 L162.35 514.29 L162.90 505.63 L163.45 510.55 L163.50 507.22 L164.00 510.96" stroke="#3a3a3a" stroke-width="0.5" fill="none" stroke-linejoin="round"/>
<path d="M23.20 509.14 L23.75 509.88 L23.90 488.53 L24.30 507.89 L24.85 509.18 L25.40 513.71 L25.50 503.25 L25.95 509.80 L26.50 510.79 L27.05 511.52 L27.60 505.63 L28.15 513.68 L28.20 492.45 L28.70 511.37 L29.25 504.64 L29.80 509.91 L30.20 482.93 L30.35 510.16 L30.90 502.59 L31.45 514.60 L32.00 492.29 L32.10 484.84 L32.55 499.78 L33.10 508.94 L33.65 487.54 L33.70 482.40 L34.20 502.30 L34.75 514.33 L35.30 505.27 L35.70 496.15 L35.85 500.31 L36.40 514.36 L36.95 508.19 L37.50 514.73 L37.60 488.76 L38.05 510.89 L38.60 510.95 L39.15 510.23 L39.70 500.31 L40.20 480.91 L40.25 487.25 L40.80 514.27 L41.35 510.28 L41.90 510.22 L42.45 510.30 L43.00 510.24 L43.50 473.20 L43.55 510.33 L44.10 497.09 L44.65 510.32 L44.90 477.71 L45.20 510.31 L45.75 508.80 L46.30 510.35 L46.85 510.22 L47.40 510.23 L47.95 510.25 L48.50 510.20 L49.05 510.34 L49.60 510.23 L50.15 510.33 L50.70 510.20 L50.90 497.72 L51.25 510.30 L51.80 510.26 L52.35 510.28 L52.90 510.23 L53.45 510.34 L54.00 500.67 L54.30 493.29 L54.55 499.96 L55.10 511.26 L55.65 504.54 L56.20 510.57 L56.75 499.85 L57.20 483.74 L57.30 488.44 L57.85 510.24 L58.40 510.72 L58.95 514.19 L59.20 496.31 L59.50 515.07 L60.05 510.90 L60.60 511.75 L61.15 506.88 L61.70 510.49 L62.10 489.47 L62.25 508.98 L62.80 509.73 L63.35 508.57 L63.90 507.16 L64.45 515.01 L64.60 488.61 L65.00 513.72 L65.55 504.38 L66.00 492.83 L66.10 496.29 L66.65 511.02 L67.20 500.80 L67.75 510.48 L68.30 510.86 L68.85 511.53 L69.40 510.09 L69.95 508.49 L70.50 482.61 L71.05 503.91 L71.60 497.61 L72.15 506.07 L72.50 473.36 L72.70 511.10 L73.25 493.62 L73.80 504.72 L74.35 503.99 L74.90 514.82 L75.40 462.24 L75.45 512.43 L76.00 491.04 L76.55 505.84 L77.10 494.08 L77.20 492.36 L77.65 499.86 L78.20 502.18 L78.75 498.47 L79.30 511.30 L79.70 484.25 L79.85 502.11 L80.40 501.72 L80.95 501.10 L81.10 491.62 L81.50 504.19 L82.05 493.70 L82.60 500.20 L83.15 490.80 L83.60 474.65 L83.70 478.88 L84.25 500.19 L84.80 503.91 L85.35 504.70 L85.90 493.13 L86.45 503.94 L86.60 492.03 L87.00 506.42 L87.55 498.62 L88.10 505.29 L88.50 495.42 L88.65 511.09 L89.20 501.87 L89.75 504.41 L90.30 503.76 L90.85 502.11 L91.40 498.27 L91.50 496.91 L91.95 501.39 L92.50 509.35 L93.05 490.63 L93.20 480.58 L93.60 498.08 L94.15 510.43 L94.70 503.53 L95.25 514.10 L95.80 499.38 L96.30 489.50 L96.35 494.82 L96.90 510.37 L97.45 510.81 L98.00 509.94 L98.55 508.17 L99.10 510.53 L99.65 510.86 L100.20 514.23 L100.75 493.55 L100.80 489.68 L101.30 504.02 L101.85 510.26 L102.40 506.66 L102.95 515.08 L103.50 498.96 L103.70 494.01 L104.05 504.15 L104.60 509.46 L105.15 510.57 L105.70 510.96 L106.25 508.30 L106.80 505.79 L107.30 473.36 L107.35 509.36 L107.90 499.94 L108.45 510.48 L109.00 506.19 L109.55 513.60 L110.10 510.94 L110.65 507.26 L111.20 464.70 L111.75 509.77 L112.30 509.81 L112.85 510.83 L113.40 495.24 L113.50 490.73 L113.95 504.15 L114.50 510.88 L115.05 503.99 L115.60 514.02 L116.15 497.61 L116.50 484.93 L116.70 493.30 L117.25 511.15 L117.80 508.68 L118.35 515.08 L118.90 502.21 L119.45 515.08 L119.80 483.73 L120.00 505.20 L120.55 509.13 L121.10 510.94 L121.65 508.42 L122.20 514.89 L122.40 480.50 L122.75 514.56 L123.30 508.07 L123.85 511.32 L124.40 509.47 L124.95 508.71 L125.50 494.13 L126.05 493.37 L126.30 482.26 L126.60 494.74 L127.15 493.40 L127.70 496.12 L128.25 489.61 L128.80 485.13 L129.35 479.01 L129.60 468.30 L129.90 479.68 L130.45 490.66 L131.00 490.46 L131.55 511.03 L132.10 472.33 L132.65 495.93 L133.20 483.28 L133.75 495.38 L134.10 481.11 L134.30 491.34 L134.85 492.96 L135.40 493.17 L135.95 485.55 L136.50 513.97 L137.05 488.03 L137.60 489.36 L138.15 463.91 L138.40 450.38 L138.70 463.61 L139.25 508.43 L139.80 489.89 L140.35 495.06 L140.90 484.02 L141.30 472.40 L141.45 478.22 L142.00 513.59 L142.55 492.28 L143.10 496.00 L143.65 485.87 L143.90 481.17 L144.20 480.34 L144.75 492.59 L145.30 488.84 L145.85 509.41 L146.40 476.87 L146.95 496.16 L147.50 485.93 L148.05 492.14 L148.60 493.03 L149.15 491.58 L149.70 481.36 L149.80 477.93 L150.25 487.15 L150.80 491.77 L151.35 486.38 L151.70 478.05 L151.90 483.14 L152.45 496.48 L153.00 490.37 L153.55 487.83 L153.70 472.69 L154.10 495.43 L154.65 489.78 L155.20 507.78 L155.60 467.76 L155.75 492.88 L156.30 486.77 L156.85 489.81 L157.40 482.32 L157.60 474.95 L157.95 483.07 L158.50 493.60 L159.05 483.89 L159.60 466.37 L160.15 492.73 L160.70 508.90 L161.25 493.36 L161.50 481.33 L161.80 492.60 L162.35 514.26 L162.90 505.30 L163.45 510.34 L163.50 506.95 L164.00 510.80" stroke="#4450f0" stroke-width="0.65" fill="none" stroke-linejoin="round"/>
<path d="M23.20 509.48 L23.75 510.11 L23.90 490.11 L24.30 508.26 L24.85 509.65 L25.40 513.77 L25.50 503.75 L25.95 510.04 L26.50 511.02 L27.05 511.65 L27.60 506.25 L28.15 513.81 L28.20 493.64 L28.70 511.61 L29.25 505.19 L29.80 510.22 L30.20 484.20 L30.35 510.50 L30.90 503.37 L31.45 514.63 L32.00 493.67 L32.10 486.64 L32.55 500.42 L33.10 509.22 L33.65 489.48 L33.70 484.66 L34.20 503.05 L34.75 514.36 L35.30 505.94 L35.70 497.46 L35.85 501.33 L36.40 514.41 L36.95 508.54 L37.50 514.76 L37.60 489.68 L38.05 511.10 L38.60 511.11 L39.15 510.50 L39.70 501.47 L40.20 482.93 L40.25 488.55 L40.80 514.34 L41.35 510.49 L41.90 510.52 L42.45 510.53 L43.00 510.53 L43.50 474.87 L43.55 510.50 L44.10 497.85 L44.65 510.61 L44.90 480.73 L45.20 510.61 L45.75 509.14 L46.30 510.60 L46.85 510.63 L47.40 510.58 L47.95 510.59 L48.50 510.51 L49.05 510.51 L49.60 510.63 L50.15 510.57 L50.70 510.54 L50.90 498.54 L51.25 510.49 L51.80 510.51 L52.35 510.62 L52.90 510.58 L53.45 510.49 L54.00 501.44 L54.30 494.43 L54.55 501.13 L55.10 511.50 L55.65 505.01 L56.20 510.81 L56.75 500.46 L57.20 484.95 L57.30 490.03 L57.85 510.49 L58.40 510.98 L58.95 514.27 L59.20 497.36 L59.50 515.09 L60.05 511.21 L60.60 512.00 L61.15 507.44 L61.70 510.84 L62.10 491.42 L62.25 509.41 L62.80 510.01 L63.35 508.95 L63.90 507.70 L64.45 515.02 L64.60 489.91 L65.00 513.83 L65.55 505.17 L66.00 494.46 L66.10 497.39 L66.65 511.26 L67.20 501.89 L67.75 510.76 L68.30 511.21 L68.85 511.80 L69.40 510.38 L69.95 508.77 L70.50 484.21 L71.05 504.57 L71.60 498.79 L72.15 506.64 L72.50 475.58 L72.70 511.39 L73.25 494.29 L73.80 505.34 L74.35 504.39 L74.90 514.85 L75.40 466.26 L75.45 512.59 L76.00 492.31 L76.55 506.27 L77.10 495.12 L77.20 493.68 L77.65 500.90 L78.20 502.98 L78.75 499.26 L79.30 511.49 L79.70 486.02 L79.85 502.67 L80.40 502.76 L80.95 501.83 L81.10 493.03 L81.50 504.94 L82.05 494.99 L82.60 501.06 L83.15 492.67 L83.60 476.47 L83.70 480.96 L84.25 501.04 L84.80 504.47 L85.35 505.39 L85.90 494.92 L86.45 504.54 L86.60 493.51 L87.00 506.97 L87.55 499.51 L88.10 505.97 L88.50 496.51 L88.65 511.43 L89.20 502.81 L89.75 505.10 L90.30 504.40 L90.85 502.69 L91.40 498.84 L91.50 497.76 L91.95 502.16 L92.50 509.64 L93.05 492.59 L93.20 482.54 L93.60 499.26 L94.15 510.77 L94.70 504.22 L95.25 514.16 L95.80 500.32 L96.30 491.41 L96.35 496.01 L96.90 510.58 L97.45 511.02 L98.00 510.14 L98.55 508.59 L99.10 510.74 L99.65 511.22 L100.20 514.28 L100.75 494.56 L100.80 491.36 L101.30 504.81 L101.85 510.64 L102.40 506.96 L102.95 515.10 L103.50 500.11 L103.70 495.59 L104.05 504.68 L104.60 509.89 L105.15 510.86 L105.70 511.14 L106.25 508.68 L106.80 506.22 L107.30 475.69 L107.35 509.62 L107.90 501.11 L108.45 510.74 L109.00 506.57 L109.55 513.73 L110.10 511.10 L110.65 507.73 L111.20 467.56 L111.75 510.14 L112.30 510.16 L112.85 511.15 L113.40 496.68 L113.50 492.55 L113.95 504.85 L114.50 511.12 L115.05 504.68 L115.60 514.06 L116.15 498.65 L116.50 487.22 L116.70 494.74 L117.25 511.32 L117.80 509.14 L118.35 515.10 L118.90 502.77 L119.45 515.10 L119.80 485.42 L120.00 505.74 L120.55 509.47 L121.10 511.18 L121.65 508.86 L122.20 514.92 L122.40 482.77 L122.75 514.62 L123.30 508.42 L123.85 511.56 L124.40 509.77 L124.95 509.02 L125.50 495.17 L126.05 494.24 L126.30 483.48 L126.60 495.96 L127.15 494.67 L127.70 497.10 L128.25 491.08 L128.80 487.38 L129.35 480.24 L129.60 471.01 L129.90 481.48 L130.45 492.02 L131.00 491.94 L131.55 511.36 L132.10 474.88 L132.65 496.73 L133.20 485.50 L133.75 496.23 L134.10 483.12 L134.30 493.08 L134.85 494.35 L135.40 494.41 L135.95 487.64 L136.50 514.03 L137.05 489.44 L137.60 491.46 L138.15 466.19 L138.40 454.69 L138.70 466.12 L139.25 508.89 L139.80 491.17 L140.35 496.50 L140.90 485.62 L141.30 473.85 L141.45 480.03 L142.00 513.70 L142.55 493.48 L143.10 496.81 L143.65 487.41 L143.90 482.91 L144.20 482.82 L144.75 493.81 L145.30 489.89 L145.85 509.71 L146.40 478.30 L146.95 497.57 L147.50 487.90 L148.05 493.08 L148.60 494.53 L149.15 492.97 L149.70 482.78 L149.80 479.39 L150.25 488.97 L150.80 493.07 L151.35 487.35 L151.70 480.75 L151.90 485.11 L152.45 497.48 L153.00 491.46 L153.55 489.24 L153.70 474.70 L154.10 496.21 L154.65 490.69 L155.20 508.08 L155.60 470.12 L155.75 494.09 L156.30 488.35 L156.85 491.26 L157.40 483.76 L157.60 477.42 L157.95 485.05 L158.50 494.55 L159.05 485.31 L159.60 468.56 L160.15 494.33 L160.70 509.29 L161.25 494.26 L161.50 482.83 L161.80 493.90 L162.35 514.31 L162.90 505.85 L163.45 510.70 L163.50 507.60 L164.00 511.05" stroke="#3f9a50" stroke-width="0.45" fill="none" stroke-linejoin="round"/>
<path d="M23.20 509.70 L23.75 510.34 L23.90 490.63 L24.30 508.47 L24.85 509.76 L25.40 513.83 L25.50 504.06 L25.95 510.19 L26.50 511.06 L27.05 511.76 L27.60 506.47 L28.15 513.85 L28.20 494.05 L28.70 511.67 L29.25 505.73 L29.80 510.34 L30.20 484.91 L30.35 510.65 L30.90 503.70 L31.45 514.65 L32.00 493.86 L32.10 486.95 L32.55 500.75 L33.10 509.41 L33.65 490.24 L33.70 485.27 L34.20 503.40 L34.75 514.41 L35.30 506.05 L35.70 497.77 L35.85 501.63 L36.40 514.43 L36.95 508.60 L37.50 514.78 L37.60 490.75 L38.05 511.21 L38.60 511.29 L39.15 510.74 L39.70 501.91 L40.20 483.68 L40.25 489.40 L40.80 514.37 L41.35 510.69 L41.90 510.74 L42.45 510.72 L43.00 510.63 L43.50 475.82 L43.55 510.62 L44.10 498.37 L44.65 510.72 L44.90 481.11 L45.20 510.72 L45.75 509.39 L46.30 510.71 L46.85 510.65 L47.40 510.65 L47.95 510.72 L48.50 510.63 L49.05 510.63 L49.60 510.73 L50.15 510.74 L50.70 510.68 L50.90 499.04 L51.25 510.61 L51.80 510.73 L52.35 510.66 L52.90 510.74 L53.45 510.67 L54.00 502.08 L54.30 494.92 L54.55 501.40 L55.10 511.65 L55.65 505.20 L56.20 510.84 L56.75 501.03 L57.20 486.02 L57.30 490.35 L57.85 510.56 L58.40 511.15 L58.95 514.30 L59.20 497.88 L59.50 515.10 L60.05 511.30 L60.60 512.01 L61.15 507.55 L61.70 510.85 L62.10 491.85 L62.25 509.58 L62.80 510.19 L63.35 509.20 L63.90 507.77 L64.45 515.03 L64.60 490.30 L65.00 513.85 L65.55 505.43 L66.00 494.92 L66.10 497.87 L66.65 511.43 L67.20 502.32 L67.75 510.86 L68.30 511.28 L68.85 511.90 L69.40 510.55 L69.95 508.96 L70.50 484.94 L71.05 504.89 L71.60 499.07 L72.15 506.86 L72.50 475.99 L72.70 511.45 L73.25 495.27 L73.80 505.72 L74.35 504.64 L74.90 514.87 L75.40 467.58 L75.45 512.69 L76.00 492.90 L76.55 506.59 L77.10 495.68 L77.20 494.33 L77.65 501.22 L78.20 503.26 L78.75 499.60 L79.30 511.52 L79.70 486.87 L79.85 503.13 L80.40 502.93 L80.95 502.41 L81.10 493.81 L81.50 505.25 L82.05 495.22 L82.60 501.68 L83.15 492.79 L83.60 478.13 L83.70 481.34 L84.25 501.46 L84.80 504.90 L85.35 505.54 L85.90 495.05 L86.45 504.86 L86.60 494.28 L87.00 507.17 L87.55 499.83 L88.10 506.19 L88.50 496.87 L88.65 511.46 L89.20 502.95 L89.75 505.13 L90.30 504.64 L90.85 503.09 L91.40 499.39 L91.50 498.49 L91.95 502.69 L92.50 509.78 L93.05 493.18 L93.20 483.10 L93.60 499.77 L94.15 510.89 L94.70 504.46 L95.25 514.19 L95.80 500.98 L96.30 491.49 L96.35 496.35 L96.90 510.78 L97.45 511.18 L98.00 510.36 L98.55 508.67 L99.10 510.86 L99.65 511.32 L100.20 514.31 L100.75 495.36 L100.80 492.10 L101.30 504.99 L101.85 510.74 L102.40 507.32 L102.95 515.10 L103.50 500.67 L103.70 496.04 L104.05 505.02 L104.60 510.00 L105.15 510.99 L105.70 511.30 L106.25 508.98 L106.80 506.39 L107.30 476.08 L107.35 509.81 L107.90 501.18 L108.45 510.94 L109.00 506.86 L109.55 513.75 L110.10 511.30 L110.65 508.08 L111.20 469.11 L111.75 510.26 L112.30 510.23 L112.85 511.16 L113.40 496.97 L113.50 493.07 L113.95 505.04 L114.50 511.24 L115.05 504.83 L115.60 514.13 L116.15 498.96 L116.50 487.70 L116.70 495.25 L117.25 511.51 L117.80 509.32 L118.35 515.11 L118.90 503.23 L119.45 515.10 L119.80 486.19 L120.00 505.97 L120.55 509.61 L121.10 511.24 L121.65 508.95 L122.20 514.93 L122.40 483.52 L122.75 514.64 L123.30 508.74 L123.85 511.68 L124.40 509.88 L124.95 509.28 L125.50 496.04 L126.05 495.25 L126.30 484.45 L126.60 496.73 L127.15 495.32 L127.70 497.25 L128.25 491.45 L128.80 487.90 L129.35 481.68 L129.60 472.71 L129.90 482.27 L130.45 493.09 L131.00 492.47 L131.55 511.42 L132.10 476.05 L132.65 497.12 L133.20 486.07 L133.75 496.64 L134.10 484.36 L134.30 493.30 L134.85 494.95 L135.40 494.68 L135.95 487.87 L136.50 514.09 L137.05 490.23 L137.60 491.62 L138.15 467.16 L138.40 456.73 L138.70 468.28 L139.25 508.99 L139.80 491.72 L140.35 497.09 L140.90 486.90 L141.30 475.60 L141.45 481.49 L142.00 513.75 L142.55 494.11 L143.10 497.56 L143.65 488.40 L143.90 484.26 L144.20 483.52 L144.75 494.37 L145.30 491.02 L145.85 509.90 L146.40 479.12 L146.95 497.91 L147.50 487.98 L148.05 494.12 L148.60 495.16 L149.15 493.99 L149.70 483.79 L149.80 481.01 L150.25 489.59 L150.80 493.55 L151.35 488.66 L151.70 481.00 L151.90 486.00 L152.45 497.53 L153.00 492.44 L153.55 489.42 L153.70 476.13 L154.10 497.08 L154.65 491.66 L155.20 508.38 L155.60 471.69 L155.75 494.09 L156.30 489.66 L156.85 492.08 L157.40 485.00 L157.60 478.55 L157.95 485.87 L158.50 495.16 L159.05 486.34 L159.60 469.55 L160.15 494.66 L160.70 509.35 L161.25 494.68 L161.50 483.91 L161.80 494.68 L162.35 514.34 L162.90 506.20 L163.45 510.81 L163.50 507.68 L164.00 511.19" stroke="#c8c8c8" stroke-width="0.45" fill="none" stroke-linejoin="round"/>
<path d="M23.20 510.62 L23.75 511.19 L23.90 495.03 L24.30 509.67 L24.85 510.73 L25.40 514.09 L25.50 506.14 L25.95 511.06 L26.50 511.83 L27.05 512.36 L27.60 508.00 L28.15 514.10 L28.20 497.73 L28.70 512.26 L29.25 507.24 L29.80 511.17 L30.20 490.10 L30.35 511.39 L30.90 505.59 L31.45 514.77 L32.00 497.82 L32.10 491.67 L32.55 503.44 L33.10 510.38 L33.65 494.50 L33.70 490.42 L34.20 505.33 L34.75 514.58 L35.30 507.60 L35.70 500.49 L35.85 503.80 L36.40 514.60 L36.95 509.88 L37.50 514.89 L37.60 494.56 L38.05 511.87 L38.60 511.92 L39.15 511.46 L39.70 504.08 L40.20 489.04 L40.25 493.75 L40.80 514.55 L41.35 510.43 L41.90 510.43 L42.45 510.43 L43.00 510.43 L43.50 482.84 L43.55 510.43 L44.10 501.22 L44.65 510.43 L44.90 486.64 L45.20 510.43 L45.75 510.34 L46.30 510.43 L46.85 510.43 L47.40 510.43 L47.95 510.43 L48.50 510.43 L49.05 510.43 L49.60 510.43 L50.15 510.43 L50.70 510.43 L50.90 501.72 L51.25 510.43 L51.80 510.43 L52.35 510.43 L52.90 510.43 L53.45 510.43 L54.00 504.06 L54.30 498.36 L54.55 503.85 L55.10 512.25 L55.65 506.95 L56.20 511.64 L56.75 503.18 L57.20 490.68 L57.30 494.73 L57.85 511.45 L58.40 511.80 L58.95 514.48 L59.20 500.61 L59.50 515.16 L60.05 511.91 L60.60 512.60 L61.15 508.94 L61.70 511.66 L62.10 495.99 L62.25 510.45 L62.80 511.04 L63.35 510.18 L63.90 509.08 L64.45 515.09 L64.60 494.46 L65.00 514.12 L65.55 507.00 L66.00 498.37 L66.10 500.80 L66.65 512.03 L67.20 504.24 L67.75 511.58 L68.30 511.96 L68.85 512.48 L69.40 511.33 L69.95 509.97 L70.50 490.46 L71.05 506.73 L71.60 502.04 L72.15 508.19 L72.50 482.58 L72.70 512.09 L73.25 498.53 L73.80 507.30 L74.35 506.55 L74.90 514.94 L75.40 474.53 L75.45 513.10 L76.00 496.28 L76.55 507.97 L77.10 498.80 L77.20 497.71 L77.65 503.57 L78.20 505.24 L78.75 502.06 L79.30 512.25 L79.70 491.83 L79.85 505.12 L80.40 504.88 L80.95 504.61 L81.10 497.32 L81.50 506.74 L82.05 498.76 L82.60 503.78 L83.15 496.70 L83.60 484.13 L83.70 487.13 L84.25 503.82 L84.80 506.61 L85.35 507.09 L85.90 498.31 L86.45 506.49 L86.60 497.54 L87.00 508.38 L87.55 502.44 L88.10 507.58 L88.50 500.05 L88.65 512.11 L89.20 504.93 L89.75 506.84 L90.30 506.65 L90.85 505.26 L91.40 502.18 L91.50 501.04 L91.95 504.73 L92.50 510.74 L93.05 496.74 L93.20 488.45 L93.60 502.08 L94.15 511.63 L94.70 506.10 L95.25 514.41 L95.80 503.20 L96.30 495.68 L96.35 499.64 L96.90 511.56 L97.45 511.89 L98.00 511.16 L98.55 509.82 L99.10 511.69 L99.65 511.98 L100.20 514.48 L100.75 498.67 L100.80 495.75 L101.30 506.72 L101.85 511.50 L102.40 508.62 L102.95 515.15 L103.50 503.00 L103.70 499.12 L104.05 506.63 L104.60 510.91 L105.15 511.79 L105.70 512.01 L106.25 510.02 L106.80 507.97 L107.30 482.75 L107.35 510.70 L107.90 503.80 L108.45 511.70 L109.00 508.32 L109.55 514.05 L110.10 511.95 L110.65 509.27 L111.20 477.05 L111.75 511.13 L112.30 511.08 L112.85 511.87 L113.40 499.75 L113.50 496.76 L113.95 506.71 L114.50 511.92 L115.05 506.57 L115.60 514.32 L116.15 501.61 L116.50 492.11 L116.70 498.24 L117.25 512.09 L117.80 510.27 L118.35 515.15 L118.90 505.10 L119.45 515.16 L119.80 490.99 L120.00 507.52 L120.55 510.60 L121.10 512.01 L121.65 509.99 L122.20 515.00 L122.40 488.91 L122.75 514.76 L123.30 509.70 L123.85 512.31 L124.40 510.77 L124.95 510.15 L125.50 499.16 L126.05 498.26 L126.30 489.98 L126.60 499.80 L127.15 498.55 L127.70 500.29 L128.25 495.46 L128.80 492.69 L129.35 486.87 L129.60 479.91 L129.90 487.91 L130.45 496.40 L131.00 496.21 L131.55 512.10 L132.10 482.98 L132.65 500.33 L133.20 490.64 L133.75 499.62 L134.10 489.21 L134.30 497.20 L134.85 498.43 L135.40 498.48 L135.95 492.89 L136.50 514.30 L137.05 494.36 L137.60 495.61 L138.15 475.26 L138.40 465.50 L138.70 475.42 L139.25 510.02 L139.80 495.87 L140.35 500.06 L140.90 491.12 L141.30 481.71 L141.45 486.97 L142.00 514.02 L142.55 497.97 L143.10 500.54 L143.65 493.07 L143.90 489.23 L144.20 488.52 L144.75 497.80 L145.30 494.80 L145.85 510.85 L146.40 485.01 L146.95 500.61 L147.50 492.55 L148.05 497.28 L148.60 498.08 L149.15 497.32 L149.70 488.92 L149.80 486.68 L150.25 493.43 L150.80 497.34 L151.35 492.91 L151.70 486.79 L151.90 490.69 L152.45 500.70 L153.00 496.31 L153.55 494.00 L153.70 482.97 L154.10 500.00 L154.65 495.28 L155.20 509.52 L155.60 479.26 L155.75 497.84 L156.30 493.75 L156.85 495.83 L157.40 489.94 L157.60 484.31 L157.95 490.38 L158.50 498.44 L159.05 490.81 L159.60 477.57 L160.15 498.10 L160.70 510.43 L161.25 498.35 L161.50 489.26 L161.80 497.68 L162.35 514.52 L162.90 507.77 L163.45 511.51 L163.50 509.08 L164.00 511.90" stroke="#cc4650" stroke-width="0.9" fill="none" stroke-linejoin="round"/>
<path d="M23.20 515.40 L23.20 509.88 L23.75 510.41 L23.90 491.50 L24.30 508.69 L24.85 510.01 L25.40 513.87 L25.50 504.51 L25.95 510.32 L26.50 511.30 L27.05 511.86 L27.60 506.85 L28.15 513.90 L28.20 494.77 L28.70 511.75 L29.25 505.96 L29.80 510.52 L30.20 486.11 L30.35 510.81 L30.90 503.87 L31.45 514.69 L32.00 495.04 L32.10 488.07 L32.55 501.29 L33.10 509.65 L33.65 491.11 L33.70 486.28 L34.20 503.55 L34.75 514.43 L35.30 506.45 L35.70 514.73 L35.85 502.28 L36.40 514.47 L36.95 508.85 L37.50 514.81 L37.60 514.64 L38.05 511.40 L38.60 511.38 L39.15 510.81 L39.70 502.32 L40.20 484.24 L40.25 490.65 L40.80 514.41 L41.35 515.40 L41.90 515.40 L42.45 515.40 L43.00 515.40 L43.50 515.40 L43.55 515.40 L44.10 515.40 L44.65 515.40 L44.90 515.40 L45.20 515.40 L45.75 515.40 L46.30 515.40 L46.85 515.40 L47.40 515.40 L47.95 515.40 L48.50 515.40 L49.05 515.40 L49.60 515.40 L50.15 515.40 L50.70 515.40 L50.90 515.40 L51.25 515.40 L51.80 515.40 L52.35 515.40 L52.90 515.40 L53.45 515.40 L54.00 502.26 L54.30 495.28 L54.55 501.82 L55.10 511.74 L55.65 505.57 L56.20 510.99 L56.75 501.29 L57.20 487.24 L57.30 491.17 L57.85 510.72 L58.40 511.22 L58.95 514.34 L59.20 498.51 L59.50 515.12 L60.05 511.40 L60.60 514.94 L61.15 507.98 L61.70 511.11 L62.10 492.64 L62.25 509.73 L62.80 510.40 L63.35 509.34 L63.90 508.00 L64.45 515.05 L64.60 491.17 L65.00 513.90 L65.55 505.52 L66.00 514.96 L66.10 498.66 L66.65 511.55 L67.20 514.92 L67.75 510.99 L68.30 511.41 L68.85 515.00 L69.40 510.74 L69.95 509.13 L70.50 485.92 L71.05 505.28 L71.60 499.77 L72.15 506.92 L72.50 477.12 L72.70 511.54 L73.25 496.01 L73.80 506.02 L74.35 505.19 L74.90 514.88 L75.40 468.24 L75.45 515.29 L76.00 493.42 L76.55 506.78 L77.10 496.04 L77.20 494.92 L77.65 501.87 L78.20 503.78 L78.75 500.20 L79.30 511.69 L79.70 488.07 L79.85 503.34 L80.40 503.24 L80.95 502.75 L81.10 494.29 L81.50 505.57 L82.05 496.08 L82.60 502.14 L83.15 493.91 L83.60 478.90 L83.70 482.30 L84.25 501.94 L84.80 513.80 L85.35 505.91 L85.90 495.81 L86.45 515.08 L86.60 494.93 L87.00 507.29 L87.55 500.23 L88.10 506.38 L88.50 497.54 L88.65 511.57 L89.20 514.05 L89.75 505.65 L90.30 505.19 L90.85 503.47 L91.40 499.80 L91.50 498.78 L91.95 513.71 L92.50 509.91 L93.05 493.39 L93.20 484.26 L93.60 499.94 L94.15 511.04 L94.70 504.73 L95.25 514.23 L95.80 501.22 L96.30 492.67 L96.35 497.15 L96.90 510.89 L97.45 511.28 L98.00 510.54 L98.55 508.98 L99.10 513.69 L99.65 511.45 L100.20 514.33 L100.75 495.88 L100.80 492.36 L101.30 505.39 L101.85 510.88 L102.40 507.50 L102.95 515.12 L103.50 501.11 L103.70 496.40 L104.05 505.26 L104.60 510.11 L105.15 511.15 L105.70 511.42 L106.25 509.18 L106.80 506.77 L107.30 477.41 L107.35 510.00 L107.90 501.89 L108.45 511.08 L109.00 507.08 L109.55 513.82 L110.10 511.44 L110.65 508.12 L111.20 469.98 L111.75 510.36 L112.30 510.38 L112.85 511.33 L113.40 497.29 L113.50 493.81 L113.95 505.36 L114.50 514.14 L115.05 505.37 L115.60 515.26 L116.15 499.44 L116.50 488.24 L116.70 495.74 L117.25 511.64 L117.80 509.44 L118.35 515.11 L118.90 503.58 L119.45 515.11 L119.80 486.68 L120.00 506.24 L120.55 509.81 L121.10 511.44 L121.65 509.27 L122.20 514.95 L122.40 484.93 L122.75 514.65 L123.30 508.88 L123.85 511.84 L124.40 510.11 L124.95 509.44 L125.50 496.30 L126.05 495.76 L126.30 513.48 L126.60 497.01 L127.15 495.59 L127.70 498.11 L128.25 492.81 L128.80 489.18 L129.35 482.93 L129.60 474.33 L129.90 483.32 L130.45 493.70 L131.00 493.68 L131.55 511.51 L132.10 476.95 L132.65 498.07 L133.20 486.99 L133.75 497.15 L134.10 484.82 L134.30 494.04 L134.85 495.55 L135.40 495.63 L135.95 489.50 L136.50 514.14 L137.05 491.05 L137.60 492.64 L138.15 468.46 L138.40 458.33 L138.70 469.32 L139.25 509.23 L139.80 492.83 L140.35 497.53 L140.90 487.27 L141.30 476.08 L141.45 482.41 L142.00 513.80 L142.55 494.81 L143.10 498.35 L143.65 489.26 L143.90 484.98 L144.20 484.63 L144.75 494.71 L145.30 513.68 L145.85 510.12 L146.40 515.36 L146.95 498.60 L147.50 489.06 L148.05 494.63 L148.60 495.78 L149.15 494.25 L149.70 514.11 L149.80 481.82 L150.25 490.57 L150.80 494.46 L151.35 515.11 L151.70 513.66 L151.90 486.95 L152.45 498.19 L153.00 493.14 L153.55 490.32 L153.70 477.76 L154.10 497.69 L154.65 492.47 L155.20 508.57 L155.60 473.66 L155.75 494.90 L156.30 490.28 L156.85 492.59 L157.40 486.43 L157.60 479.79 L157.95 486.51 L158.50 495.99 L159.05 487.14 L159.60 471.00 L160.15 513.73 L160.70 509.58 L161.25 495.71 L161.50 485.26 L161.80 495.29 L162.35 514.37 L162.90 506.55 L163.45 510.96 L163.50 508.05 L164.00 511.28 L164.00 515.40Z" fill="#ffc878" fill-opacity="0.6" stroke="none"/>
<path d="M23.20 509.88 L23.75 510.41 L23.90 491.50 L24.30 508.69 L24.85 510.01 L25.40 513.87 L25.50 504.51 L25.95 510.32 L26.50 511.30 L27.05 511.86 L27.60 506.85 L28.15 513.90 L28.20 494.77 L28.70 511.75 L29.25 505.96 L29.80 510.52 L30.20 486.11 L30.35 510.81 L30.90 503.87 L31.45 514.69 L32.00 495.04 L32.10 488.07 L32.55 501.29 L33.10 509.65 L33.65 491.11 L33.70 486.28 L34.20 503.55 L34.75 514.43 L35.30 506.45 L35.70 514.73 L35.85 502.28 L36.40 514.47 L36.95 508.85 L37.50 514.81 L37.60 514.64 L38.05 511.40 L38.60 511.38 L39.15 510.81 L39.70 502.32 L40.20 484.24 L40.25 490.65 L40.80 514.41 L41.35 514.37 L41.90 514.51 L42.45 514.23 L43.00 514.87 L43.50 477.01 L43.55 515.06 L44.10 498.87 L44.65 515.35 L44.90 482.11 L45.20 514.12 L45.75 509.56 L46.30 514.66 L46.85 514.36 L47.40 514.20 L47.95 515.16 L48.50 515.20 L49.05 514.49 L49.60 514.52 L50.15 514.79 L50.70 514.23 L50.90 499.40 L51.25 514.34 L51.80 514.94 L52.35 514.76 L52.90 515.36 L53.45 514.50 L54.00 502.26 L54.30 495.28 L54.55 501.82 L55.10 511.74 L55.65 505.57 L56.20 510.99 L56.75 501.29 L57.20 487.24 L57.30 491.17 L57.85 510.72 L58.40 511.22 L58.95 514.34 L59.20 498.51 L59.50 515.12 L60.05 511.40 L60.60 514.94 L61.15 507.98 L61.70 511.11 L62.10 492.64 L62.25 509.73 L62.80 510.40 L63.35 509.34 L63.90 508.00 L64.45 515.05 L64.60 491.17 L65.00 513.90 L65.55 505.52 L66.00 514.96 L66.10 498.66 L66.65 511.55 L67.20 514.92 L67.75 510.99 L68.30 511.41 L68.85 515.00 L69.40 510.74 L69.95 509.13 L70.50 485.92 L71.05 505.28 L71.60 499.77 L72.15 506.92 L72.50 477.12 L72.70 511.54 L73.25 496.01 L73.80 506.02 L74.35 505.19 L74.90 514.88 L75.40 468.24 L75.45 515.29 L76.00 493.42 L76.55 506.78 L77.10 496.04 L77.20 494.92 L77.65 501.87 L78.20 503.78 L78.75 500.20 L79.30 511.69 L79.70 488.07 L79.85 503.34 L80.40 503.24 L80.95 502.75 L81.10 494.29 L81.50 505.57 L82.05 496.08 L82.60 502.14 L83.15 493.91 L83.60 478.90 L83.70 482.30 L84.25 501.94 L84.80 513.80 L85.35 505.91 L85.90 495.81 L86.45 515.08 L86.60 494.93 L87.00 507.29 L87.55 500.23 L88.10 506.38 L88.50 497.54 L88.65 511.57 L89.20 514.05 L89.75 505.65 L90.30 505.19 L90.85 503.47 L91.40 499.80 L91.50 498.78 L91.95 513.71 L92.50 509.91 L93.05 493.39 L93.20 484.26 L93.60 499.94 L94.15 511.04 L94.70 504.73 L95.25 514.23 L95.80 501.22 L96.30 492.67 L96.35 497.15 L96.90 510.89 L97.45 511.28 L98.00 510.54 L98.55 508.98 L99.10 513.69 L99.65 511.45 L100.20 514.33 L100.75 495.88 L100.80 492.36 L101.30 505.39 L101.85 510.88 L102.40 507.50 L102.95 515.12 L103.50 501.11 L103.70 496.40 L104.05 505.26 L104.60 510.11 L105.15 511.15 L105.70 511.42 L106.25 509.18 L106.80 506.77 L107.30 477.41 L107.35 510.00 L107.90 501.89 L108.45 511.08 L109.00 507.08 L109.55 513.82 L110.10 511.44 L110.65 508.12 L111.20 469.98 L111.75 510.36 L112.30 510.38 L112.85 511.33 L113.40 497.29 L113.50 493.81 L113.95 505.36 L114.50 514.14 L115.05 505.37 L115.60 515.26 L116.15 499.44 L116.50 488.24 L116.70 495.74 L117.25 511.64 L117.80 509.44 L118.35 515.11 L118.90 503.58 L119.45 515.11 L119.80 486.68 L120.00 506.24 L120.55 509.81 L121.10 511.44 L121.65 509.27 L122.20 514.95 L122.40 484.93 L122.75 514.65 L123.30 508.88 L123.85 511.84 L124.40 510.11 L124.95 509.44 L125.50 496.30 L126.05 495.76 L126.30 513.48 L126.60 497.01 L127.15 495.59 L127.70 498.11 L128.25 492.81 L128.80 489.18 L129.35 482.93 L129.60 474.33 L129.90 483.32 L130.45 493.70 L131.00 493.68 L131.55 511.51 L132.10 476.95 L132.65 498.07 L133.20 486.99 L133.75 497.15 L134.10 484.82 L134.30 494.04 L134.85 495.55 L135.40 495.63 L135.95 489.50 L136.50 514.14 L137.05 491.05 L137.60 492.64 L138.15 468.46 L138.40 458.33 L138.70 469.32 L139.25 509.23 L139.80 492.83 L140.35 497.53 L140.90 487.27 L141.30 476.08 L141.45 482.41 L142.00 513.80 L142.55 494.81 L143.10 498.35 L143.65 489.26 L143.90 484.98 L144.20 484.63 L144.75 494.71 L145.30 513.68 L145.85 510.12 L146.40 515.36 L146.95 498.60 L147.50 489.06 L148.05 494.63 L148.60 495.78 L149.15 494.25 L149.70 514.11 L149.80 481.82 L150.25 490.57 L150.80 494.46 L151.35 515.11 L151.70 513.66 L151.90 486.95 L152.45 498.19 L153.00 493.14 L153.55 490.32 L153.70 477.76 L154.10 497.69 L154.65 492.47 L155.20 508.57 L155.60 473.66 L155.75 494.90 L156.30 490.28 L156.85 492.59 L157.40 486.43 L157.60 479.79 L157.95 486.51 L158.50 495.99 L159.05 487.14 L159.60 471.00 L160.15 513.73 L160.70 509.58 L161.25 495.71 L161.50 485.26 L161.80 495.29 L162.35 514.37 L162.90 506.55 L163.45 510.96 L163.50 508.05 L164.00 511.28" stroke="#ff9c1e" stroke-width="0.8" fill="none" stroke-linejoin="round"/>
<path d="M41.35 509.37H53.45" stroke="#4450f0" stroke-width="0.8" fill="none"/>
<path d="M41.35 510.57H53.45" stroke="#cc4650" stroke-width="1.1" fill="none"/>
<path d="M243.70 516.30 L244.30 516.02 L244.89 515.73 L245.49 515.51 L246.08 515.24 L246.68 514.94 L247.28 514.70 L247.87 514.57 L248.47 514.38 L249.06 514.21 L249.66 513.92 L250.25 513.64 L250.85 513.42 L251.45 513.20 L252.04 513.03 L252.64 512.77 L253.23 512.59 L253.83 512.44 L254.43 512.28 L255.02 511.96 L255.62 511.74 L256.21 511.43 L256.81 511.14 L257.41 510.95 L258.00 510.80 L258.60 510.57 L259.19 510.28 L259.79 509.95 L260.39 509.64 L260.98 509.51 L261.58 509.28 L262.17 509.13 L262.77 508.95 L263.37 508.84 L263.96 508.71 L264.56 508.63 L265.15 508.52 L265.75 508.33 L266.34 508.16 L266.94 508.07 L267.54 507.90 L268.13 507.78 L268.73 507.58 L269.32 507.45 L269.92 507.27 L270.52 507.19 L271.11 507.10 L271.71 506.90 L272.30 506.75 L272.90 506.59 L273.50 506.47 L274.09 506.22 L274.69 506.08 L275.28 505.87 L275.88 505.75 L276.48 505.59 L277.07 505.31 L277.67 505.12 L278.26 504.99 L278.86 504.80 L279.45 504.59 L280.05 504.42 L280.65 504.20 L281.24 503.90 L281.84 503.78 L282.43 503.52 L283.03 503.39 L283.63 503.22 L284.22 503.09 L284.82 502.90 L285.41 502.65 L286.01 502.43 L286.61 502.13 L287.20 501.94 L287.80 501.63 L288.39 501.39 L288.99 501.24 L289.58 501.10 L290.18 500.76 L290.78 500.57 L291.37 500.35 L291.97 500.14 L292.56 499.85 L293.16 499.49 L293.76 499.32 L294.35 498.96 L294.95 498.69 L295.54 498.33 L296.14 498.01 L296.74 497.67 L297.33 497.43 L297.93 497.26 L298.52 497.01 L299.12 496.76 L299.72 496.38 L300.31 496.14 L300.91 495.85 L301.50 495.51 L302.10 495.31 L302.69 495.03 L303.29 494.82 L303.89 494.45 L304.48 494.09 L305.08 493.91 L305.67 493.54 L306.27 493.16 L306.87 492.87 L307.46 492.57 L308.06 492.26 L308.65 492.04 L309.25 491.87 L309.85 491.62 L310.44 491.46 L311.04 491.22 L311.63 490.94 L312.23 490.77 L312.83 490.50 L313.42 490.17 L314.02 489.90 L314.61 489.53 L315.21 489.29 L315.81 489.06 L316.40 488.84 L317.00 488.49 L317.59 488.16 L318.19 487.89 L318.78 487.63 L319.38 487.32 L319.98 486.99 L320.57 486.67 L321.17 486.38 L321.76 486.10 L322.36 485.84 L322.96 485.30 L323.55 484.87 L324.15 484.52 L324.74 484.23 L325.34 483.85 L325.94 483.59 L326.53 483.11 L327.13 482.62 L327.72 482.17 L328.32 481.89 L328.92 481.67 L329.51 481.38 L330.11 481.16 L330.70 480.96 L331.30 480.82 L331.89 480.63 L332.49 480.48 L333.09 480.22 L333.68 480.01 L334.28 479.82 L334.87 479.64 L335.47 479.50 L336.07 479.29 L336.66 478.99 L337.26 478.78 L337.85 478.48 L338.45 478.15 L339.05 477.92 L339.64 477.69 L340.24 477.39 L340.83 477.24 L341.43 476.99 L342.02 476.71 L342.62 476.37 L343.22 476.11 L343.81 475.72 L344.41 475.15 L345.00 474.82 L345.60 474.26 L346.20 473.62 L346.79 473.21 L347.39 472.66 L347.98 472.30 L348.58 471.86 L349.18 471.30 L349.77 470.91 L350.37 470.44 L350.96 469.93 L351.56 469.50 L352.16 469.04 L352.75 468.40 L353.35 467.80 L353.94 467.19 L354.54 466.80 L355.13 466.23 L355.73 465.67 L356.33 464.98 L356.92 464.20 L357.52 463.76 L358.11 463.01 L358.71 462.54 L359.31 461.77 L359.90 461.25 L360.50 460.57 L361.09 460.22 L361.69 459.80 L362.29 459.27 L362.88 458.93 L363.48 458.37 L364.07 457.86 L364.67 457.33 L365.27 456.93 L365.86 456.59 L366.46 456.13 L367.05 455.60 L367.65 455.25 L368.25 454.45 L368.84 453.63 L369.44 453.29 L370.03 452.65 L370.63 452.31 L371.22 451.95 L371.82 451.44 L372.42 451.12 L373.01 450.58 L373.61 450.11 L374.20 449.77 L374.80 449.75" stroke="#3a3a3a" stroke-width="1.05" fill="none" stroke-linejoin="round"/>
<path d="M243.70 516.30 L244.30 516.02 L244.89 515.74 L245.49 515.52 L246.08 515.25 L246.68 514.96 L247.28 514.71 L247.87 514.59 L248.47 514.41 L249.06 514.23 L249.66 513.95 L250.25 513.67 L250.85 513.46 L251.45 513.24 L252.04 513.07 L252.64 512.81 L253.23 512.63 L253.83 512.49 L254.43 512.33 L255.02 512.01 L255.62 511.80 L256.21 511.48 L256.81 511.20 L257.41 511.01 L258.00 510.87 L258.60 510.64 L259.19 510.35 L259.79 510.03 L260.39 509.72 L260.98 509.59 L261.58 509.36 L262.17 509.21 L262.77 509.04 L263.37 508.93 L263.96 508.80 L264.56 508.72 L265.15 508.61 L265.75 508.42 L266.34 508.25 L266.94 508.17 L267.54 508.00 L268.13 507.88 L268.73 507.68 L269.32 507.55 L269.92 507.38 L270.52 507.30 L271.11 507.21 L271.71 507.02 L272.30 506.86 L272.90 506.70 L273.50 506.59 L274.09 506.34 L274.69 506.20 L275.28 505.99 L275.88 505.88 L276.48 505.72 L277.07 505.44 L277.67 505.25 L278.26 505.13 L278.86 504.94 L279.45 504.73 L280.05 504.56 L280.65 504.34 L281.24 504.05 L281.84 503.93 L282.43 503.67 L283.03 503.54 L283.63 503.38 L284.22 503.25 L284.82 503.06 L285.41 502.81 L286.01 502.59 L286.61 502.30 L287.20 502.11 L287.80 501.80 L288.39 501.56 L288.99 501.42 L289.58 501.28 L290.18 500.95 L290.78 500.76 L291.37 500.54 L291.97 500.33 L292.56 500.04 L293.16 499.69 L293.76 499.52 L294.35 499.16 L294.95 498.90 L295.54 498.54 L296.14 498.23 L296.74 497.89 L297.33 497.65 L297.93 497.48 L298.52 497.24 L299.12 496.99 L299.72 496.62 L300.31 496.38 L300.91 496.09 L301.50 495.76 L302.10 495.56 L302.69 495.28 L303.29 495.08 L303.89 494.71 L304.48 494.35 L305.08 494.18 L305.67 493.81 L306.27 493.44 L306.87 493.15 L307.46 492.85 L308.06 492.54 L308.65 492.33 L309.25 492.16 L309.85 491.91 L310.44 491.75 L311.04 491.52 L311.63 491.24 L312.23 491.07 L312.83 490.80 L313.42 490.48 L314.02 490.21 L314.61 489.85 L315.21 489.61 L315.81 489.39 L316.40 489.17 L317.00 488.82 L317.59 488.49 L318.19 488.23 L318.78 487.97 L319.38 487.67 L319.98 487.34 L320.57 487.02 L321.17 486.73 L321.76 486.46 L322.36 486.20 L322.96 485.67 L323.55 485.24 L324.15 484.89 L324.74 484.61 L325.34 484.24 L325.94 483.97 L326.53 483.50 L327.13 483.02 L327.72 482.58 L328.32 482.30 L328.92 482.08 L329.51 481.80 L330.11 481.58 L330.70 481.38 L331.30 481.24 L331.89 481.05 L332.49 480.91 L333.09 480.65 L333.68 480.44 L334.28 480.25 L334.87 480.08 L335.47 479.94 L336.07 479.73 L336.66 479.43 L337.26 479.23 L337.85 478.93 L338.45 478.61 L339.05 478.38 L339.64 478.15 L340.24 477.86 L340.83 477.70 L341.43 477.46 L342.02 477.18 L342.62 476.85 L343.22 476.59 L343.81 476.20 L344.41 475.64 L345.00 475.31 L345.60 474.76 L346.20 474.13 L346.79 473.72 L347.39 473.17 L347.98 472.82 L348.58 472.39 L349.18 471.83 L349.77 471.45 L350.37 470.98 L350.96 470.48 L351.56 470.05 L352.16 469.60 L352.75 468.97 L353.35 468.37 L353.94 467.77 L354.54 467.39 L355.13 466.82 L355.73 466.27 L356.33 465.59 L356.92 464.82 L357.52 464.38 L358.11 463.64 L358.71 463.18 L359.31 462.42 L359.90 461.90 L360.50 461.23 L361.09 460.88 L361.69 460.47 L362.29 459.95 L362.88 459.61 L363.48 459.06 L364.07 458.56 L364.67 458.03 L365.27 457.63 L365.86 457.30 L366.46 456.84 L367.05 456.32 L367.65 455.98 L368.25 455.18 L368.84 454.38 L369.44 454.04 L370.03 453.40 L370.63 453.07 L371.22 452.71 L371.82 452.21 L372.42 451.89 L373.01 451.36 L373.61 450.90 L374.20 450.56 L374.80 450.54" stroke="#4450f0" stroke-width="1.05" fill="none" stroke-linejoin="round"/>
<path d="M243.70 516.30 L244.30 516.04 L244.89 515.77 L245.49 515.56 L246.08 515.30 L246.68 515.02 L247.28 514.79 L247.87 514.68 L248.47 514.50 L249.06 514.33 L249.66 514.06 L250.25 513.80 L250.85 513.59 L251.45 513.39 L252.04 513.23 L252.64 512.98 L253.23 512.81 L253.83 512.67 L254.43 512.52 L255.02 512.22 L255.62 512.01 L256.21 511.72 L256.81 511.45 L257.41 511.27 L258.00 511.13 L258.60 510.91 L259.19 510.64 L259.79 510.33 L260.39 510.03 L260.98 509.91 L261.58 509.70 L262.17 509.55 L262.77 509.39 L263.37 509.28 L263.96 509.16 L264.56 509.09 L265.15 508.98 L265.75 508.80 L266.34 508.64 L266.94 508.56 L267.54 508.40 L268.13 508.28 L268.73 508.09 L269.32 507.97 L269.92 507.81 L270.52 507.73 L271.11 507.65 L271.71 507.46 L272.30 507.32 L272.90 507.16 L273.50 507.06 L274.09 506.82 L274.69 506.69 L275.28 506.49 L275.88 506.38 L276.48 506.23 L277.07 505.96 L277.67 505.78 L278.26 505.66 L278.86 505.48 L279.45 505.29 L280.05 505.13 L280.65 504.91 L281.24 504.64 L281.84 504.52 L282.43 504.28 L283.03 504.16 L283.63 504.00 L284.22 503.87 L284.82 503.69 L285.41 503.46 L286.01 503.25 L286.61 502.97 L287.20 502.79 L287.80 502.50 L288.39 502.27 L288.99 502.13 L289.58 502.00 L290.18 501.68 L290.78 501.50 L291.37 501.30 L291.97 501.10 L292.56 500.83 L293.16 500.49 L293.76 500.33 L294.35 499.99 L294.95 499.73 L295.54 499.39 L296.14 499.09 L296.74 498.77 L297.33 498.55 L297.93 498.39 L298.52 498.15 L299.12 497.91 L299.72 497.56 L300.31 497.33 L300.91 497.06 L301.50 496.75 L302.10 496.56 L302.69 496.29 L303.29 496.10 L303.89 495.75 L304.48 495.40 L305.08 495.24 L305.67 494.89 L306.27 494.54 L306.87 494.26 L307.46 493.97 L308.06 493.68 L308.65 493.48 L309.25 493.32 L309.85 493.08 L310.44 492.93 L311.04 492.71 L311.63 492.44 L312.23 492.28 L312.83 492.03 L313.42 491.72 L314.02 491.47 L314.61 491.12 L315.21 490.89 L315.81 490.68 L316.40 490.47 L317.00 490.14 L317.59 489.83 L318.19 489.57 L318.78 489.33 L319.38 489.04 L319.98 488.73 L320.57 488.43 L321.17 488.15 L321.76 487.89 L322.36 487.64 L322.96 487.14 L323.55 486.73 L324.15 486.40 L324.74 486.13 L325.34 485.78 L325.94 485.53 L326.53 485.08 L327.13 484.62 L327.72 484.20 L328.32 483.93 L328.92 483.72 L329.51 483.45 L330.11 483.24 L330.70 483.06 L331.30 482.92 L331.89 482.74 L332.49 482.60 L333.09 482.36 L333.68 482.16 L334.28 481.98 L334.87 481.81 L335.47 481.68 L336.07 481.49 L336.66 481.20 L337.26 481.01 L337.85 480.72 L338.45 480.41 L339.05 480.20 L339.64 479.98 L340.24 479.70 L340.83 479.55 L341.43 479.32 L342.02 479.06 L342.62 478.74 L343.22 478.49 L343.81 478.13 L344.41 477.59 L345.00 477.28 L345.60 476.75 L346.20 476.15 L346.79 475.76 L347.39 475.24 L347.98 474.91 L348.58 474.50 L349.18 473.97 L349.77 473.60 L350.37 473.16 L350.96 472.68 L351.56 472.27 L352.16 471.84 L352.75 471.24 L353.35 470.67 L353.94 470.10 L354.54 469.74 L355.13 469.20 L355.73 468.68 L356.33 468.02 L356.92 467.29 L357.52 466.87 L358.11 466.17 L358.71 465.73 L359.31 465.00 L359.90 464.51 L360.50 463.88 L361.09 463.54 L361.69 463.15 L362.29 462.65 L362.88 462.33 L363.48 461.81 L364.07 461.33 L364.67 460.83 L365.27 460.45 L365.86 460.13 L366.46 459.69 L367.05 459.20 L367.65 458.87 L368.25 458.12 L368.84 457.35 L369.44 457.03 L370.03 456.42 L370.63 456.10 L371.22 455.77 L371.82 455.29 L372.42 454.99 L373.01 454.48 L373.61 454.04 L374.20 453.71 L374.80 453.69" stroke="#3f9a50" stroke-width="1.05" fill="none" stroke-linejoin="round"/>
<path d="M243.70 516.30 L244.30 516.04 L244.89 515.78 L245.49 515.57 L246.08 515.32 L246.68 515.05 L247.28 514.83 L247.87 514.71 L248.47 514.54 L249.06 514.38 L249.66 514.11 L250.25 513.86 L250.85 513.66 L251.45 513.45 L252.04 513.30 L252.64 513.05 L253.23 512.89 L253.83 512.75 L254.43 512.61 L255.02 512.31 L255.62 512.11 L256.21 511.82 L256.81 511.56 L257.41 511.38 L258.00 511.25 L258.60 511.03 L259.19 510.77 L259.79 510.47 L260.39 510.18 L260.98 510.06 L261.58 509.85 L262.17 509.71 L262.77 509.55 L263.37 509.45 L263.96 509.33 L264.56 509.26 L265.15 509.15 L265.75 508.97 L266.34 508.82 L266.94 508.74 L267.54 508.58 L268.13 508.47 L268.73 508.28 L269.32 508.16 L269.92 508.00 L270.52 507.93 L271.11 507.85 L271.71 507.67 L272.30 507.52 L272.90 507.37 L273.50 507.27 L274.09 507.04 L274.69 506.91 L275.28 506.71 L275.88 506.61 L276.48 506.46 L277.07 506.20 L277.67 506.02 L278.26 505.91 L278.86 505.73 L279.45 505.54 L280.05 505.39 L280.65 505.18 L281.24 504.91 L281.84 504.80 L282.43 504.55 L283.03 504.44 L283.63 504.28 L284.22 504.16 L284.82 503.98 L285.41 503.75 L286.01 503.55 L286.61 503.28 L287.20 503.10 L287.80 502.82 L288.39 502.60 L288.99 502.46 L289.58 502.33 L290.18 502.02 L290.78 501.84 L291.37 501.64 L291.97 501.45 L292.56 501.18 L293.16 500.85 L293.76 500.70 L294.35 500.36 L294.95 500.12 L295.54 499.78 L296.14 499.49 L296.74 499.18 L297.33 498.96 L297.93 498.80 L298.52 498.57 L299.12 498.34 L299.72 498.00 L300.31 497.77 L300.91 497.50 L301.50 497.20 L302.10 497.01 L302.69 496.75 L303.29 496.56 L303.89 496.22 L304.48 495.89 L305.08 495.73 L305.67 495.39 L306.27 495.04 L306.87 494.77 L307.46 494.49 L308.06 494.20 L308.65 494.01 L309.25 493.85 L309.85 493.62 L310.44 493.47 L311.04 493.25 L311.63 492.99 L312.23 492.84 L312.83 492.59 L313.42 492.29 L314.02 492.04 L314.61 491.70 L315.21 491.48 L315.81 491.27 L316.40 491.07 L317.00 490.75 L317.59 490.44 L318.19 490.19 L318.78 489.95 L319.38 489.67 L319.98 489.37 L320.57 489.07 L321.17 488.80 L321.76 488.55 L322.36 488.31 L322.96 487.81 L323.55 487.42 L324.15 487.09 L324.74 486.83 L325.34 486.48 L325.94 486.24 L326.53 485.80 L327.13 485.35 L327.72 484.94 L328.32 484.68 L328.92 484.47 L329.51 484.21 L330.11 484.01 L330.70 483.83 L331.30 483.70 L331.89 483.52 L332.49 483.38 L333.09 483.14 L333.68 482.95 L334.28 482.77 L334.87 482.61 L335.47 482.48 L336.07 482.29 L336.66 482.01 L337.26 481.82 L337.85 481.54 L338.45 481.24 L339.05 481.03 L339.64 480.82 L340.24 480.55 L340.83 480.40 L341.43 480.18 L342.02 479.92 L342.62 479.61 L343.22 479.37 L343.81 479.01 L344.41 478.49 L345.00 478.18 L345.60 477.67 L346.20 477.08 L346.79 476.70 L347.39 476.19 L347.98 475.86 L348.58 475.46 L349.18 474.95 L349.77 474.59 L350.37 474.16 L350.96 473.68 L351.56 473.29 L352.16 472.87 L352.75 472.28 L353.35 471.73 L353.94 471.17 L354.54 470.81 L355.13 470.28 L355.73 469.78 L356.33 469.14 L356.92 468.42 L357.52 468.02 L358.11 467.33 L358.71 466.90 L359.31 466.19 L359.90 465.71 L360.50 465.09 L361.09 464.76 L361.69 464.38 L362.29 463.89 L362.88 463.58 L363.48 463.07 L364.07 462.60 L364.67 462.11 L365.27 461.74 L365.86 461.43 L366.46 461.00 L367.05 460.52 L367.65 460.20 L368.25 459.46 L368.84 458.71 L369.44 458.40 L370.03 457.80 L370.63 457.49 L371.22 457.17 L371.82 456.70 L372.42 456.40 L373.01 455.91 L373.61 455.48 L374.20 455.16 L374.80 455.14" stroke="#c8c8c8" stroke-width="1.05" fill="none" stroke-linejoin="round"/>
<path d="M243.70 516.30 L244.30 516.09 L244.89 515.87 L245.49 515.70 L246.08 515.50 L246.68 515.27 L247.28 515.09 L247.87 514.99 L248.47 514.85 L249.06 514.72 L249.66 514.50 L250.25 514.29 L250.85 514.13 L251.45 513.96 L252.04 513.83 L252.64 513.63 L253.23 513.49 L253.83 513.38 L254.43 513.26 L255.02 513.02 L255.62 512.86 L256.21 512.62 L256.81 512.40 L257.41 512.25 L258.00 512.14 L258.60 511.97 L259.19 511.75 L259.79 511.50 L260.39 511.26 L260.98 511.16 L261.58 510.99 L262.17 510.88 L262.77 510.74 L263.37 510.66 L263.96 510.56 L264.56 510.51 L265.15 510.42 L265.75 510.27 L266.34 510.14 L266.94 510.08 L267.54 509.95 L268.13 509.86 L268.73 509.71 L269.32 509.61 L269.92 509.47 L270.52 509.42 L271.11 509.35 L271.71 509.20 L272.30 509.08 L272.90 508.96 L273.50 508.87 L274.09 508.68 L274.69 508.58 L275.28 508.41 L275.88 508.33 L276.48 508.20 L277.07 507.99 L277.67 507.85 L278.26 507.75 L278.86 507.61 L279.45 507.45 L280.05 507.32 L280.65 507.15 L281.24 506.93 L281.84 506.84 L282.43 506.64 L283.03 506.54 L283.63 506.42 L284.22 506.31 L284.82 506.17 L285.41 505.98 L286.01 505.81 L286.61 505.59 L287.20 505.45 L287.80 505.21 L288.39 505.03 L288.99 504.92 L289.58 504.81 L290.18 504.56 L290.78 504.41 L291.37 504.24 L291.97 504.09 L292.56 503.86 L293.16 503.60 L293.76 503.46 L294.35 503.19 L294.95 502.99 L295.54 502.71 L296.14 502.47 L296.74 502.21 L297.33 502.03 L297.93 501.90 L298.52 501.72 L299.12 501.53 L299.72 501.24 L300.31 501.06 L300.91 500.84 L301.50 500.59 L302.10 500.43 L302.69 500.22 L303.29 500.06 L303.89 499.79 L304.48 499.51 L305.08 499.38 L305.67 499.10 L306.27 498.81 L306.87 498.59 L307.46 498.36 L308.06 498.12 L308.65 497.96 L309.25 497.83 L309.85 497.64 L310.44 497.52 L311.04 497.34 L311.63 497.13 L312.23 497.00 L312.83 496.80 L313.42 496.55 L314.02 496.34 L314.61 496.06 L315.21 495.89 L315.81 495.71 L316.40 495.54 L317.00 495.28 L317.59 495.03 L318.19 494.82 L318.78 494.63 L319.38 494.40 L319.98 494.15 L320.57 493.90 L321.17 493.68 L321.76 493.47 L322.36 493.27 L322.96 492.87 L323.55 492.54 L324.15 492.27 L324.74 492.06 L325.34 491.77 L325.94 491.57 L326.53 491.21 L327.13 490.84 L327.72 490.50 L328.32 490.29 L328.92 490.12 L329.51 489.91 L330.11 489.74 L330.70 489.59 L331.30 489.48 L331.89 489.33 L332.49 489.22 L333.09 489.03 L333.68 488.87 L334.28 488.72 L334.87 488.59 L335.47 488.48 L336.07 488.33 L336.66 488.10 L337.26 487.94 L337.85 487.71 L338.45 487.46 L339.05 487.29 L339.64 487.11 L340.24 486.89 L340.83 486.77 L341.43 486.59 L342.02 486.37 L342.62 486.12 L343.22 485.92 L343.81 485.62 L344.41 485.20 L345.00 484.95 L345.60 484.52 L346.20 484.04 L346.79 483.73 L347.39 483.31 L347.98 483.04 L348.58 482.71 L349.18 482.28 L349.77 481.99 L350.37 481.63 L350.96 481.25 L351.56 480.92 L352.16 480.57 L352.75 480.09 L353.35 479.64 L353.94 479.18 L354.54 478.88 L355.13 478.45 L355.73 478.03 L356.33 477.50 L356.92 476.92 L357.52 476.58 L358.11 476.02 L358.71 475.66 L359.31 475.08 L359.90 474.68 L360.50 474.17 L361.09 473.91 L361.69 473.59 L362.29 473.19 L362.88 472.93 L363.48 472.51 L364.07 472.13 L364.67 471.72 L365.27 471.42 L365.86 471.16 L366.46 470.81 L367.05 470.41 L367.65 470.15 L368.25 469.55 L368.84 468.93 L369.44 468.67 L370.03 468.18 L370.63 467.93 L371.22 467.66 L371.82 467.27 L372.42 467.03 L373.01 466.62 L373.61 466.27 L374.20 466.01 L374.80 465.99" stroke="#cc4650" stroke-width="1.05" fill="none" stroke-linejoin="round"/>
<path d="M243.70 516.30 L244.30 516.05 L244.89 515.80 L245.49 515.60 L246.08 515.36 L246.68 515.10 L247.28 514.88 L247.87 514.77 L248.47 514.60 L249.06 514.45 L249.66 514.20 L250.25 513.95 L250.85 513.76 L251.45 513.56 L252.04 513.41 L252.64 513.17 L253.23 513.02 L253.83 512.89 L254.43 512.75 L255.02 512.46 L255.62 512.27 L256.21 511.99 L256.81 511.74 L257.41 511.57 L258.00 511.44 L258.60 511.23 L259.19 510.98 L259.79 510.69 L260.39 510.41 L260.98 510.29 L261.58 510.09 L262.17 509.96 L262.77 509.80 L263.37 509.70 L263.96 509.59 L264.56 509.52 L265.15 509.42 L265.75 509.25 L266.34 509.10 L266.94 509.03 L267.54 508.87 L268.13 508.76 L268.73 508.58 L269.32 508.47 L269.92 508.31 L270.52 508.25 L271.11 508.17 L271.71 507.99 L272.30 507.85 L272.90 507.71 L273.50 507.61 L274.09 507.38 L274.69 507.26 L275.28 507.07 L275.88 506.97 L276.48 506.83 L277.07 506.58 L277.67 506.41 L278.26 506.30 L278.86 506.13 L279.45 505.95 L280.05 505.80 L280.65 505.60 L281.24 505.34 L281.84 505.23 L282.43 505.00 L283.03 504.88 L283.63 504.74 L284.22 504.62 L284.82 504.45 L285.41 504.23 L286.01 504.03 L286.61 503.77 L287.20 503.60 L287.80 503.33 L288.39 503.11 L288.99 502.98 L289.58 502.85 L290.18 502.56 L290.78 502.39 L291.37 502.19 L291.97 502.01 L292.56 501.75 L293.16 501.44 L293.76 501.28 L294.35 500.96 L294.95 500.73 L295.54 500.41 L296.14 500.12 L296.74 499.82 L297.33 499.61 L297.93 499.46 L298.52 499.24 L299.12 499.01 L299.72 498.68 L300.31 498.47 L300.91 498.21 L301.50 497.92 L302.10 497.74 L302.69 497.49 L303.29 497.31 L303.89 496.98 L304.48 496.66 L305.08 496.50 L305.67 496.17 L306.27 495.84 L306.87 495.58 L307.46 495.31 L308.06 495.04 L308.65 494.85 L309.25 494.70 L309.85 494.47 L310.44 494.33 L311.04 494.12 L311.63 493.87 L312.23 493.72 L312.83 493.48 L313.42 493.19 L314.02 492.95 L314.61 492.62 L315.21 492.42 L315.81 492.21 L316.40 492.01 L317.00 491.71 L317.59 491.41 L318.19 491.17 L318.78 490.94 L319.38 490.67 L319.98 490.38 L320.57 490.10 L321.17 489.84 L321.76 489.59 L322.36 489.36 L322.96 488.89 L323.55 488.50 L324.15 488.19 L324.74 487.94 L325.34 487.60 L325.94 487.37 L326.53 486.95 L327.13 486.52 L327.72 486.12 L328.32 485.87 L328.92 485.67 L329.51 485.42 L330.11 485.22 L330.70 485.05 L331.30 484.92 L331.89 484.75 L332.49 484.62 L333.09 484.39 L333.68 484.21 L334.28 484.04 L334.87 483.88 L335.47 483.76 L336.07 483.57 L336.66 483.30 L337.26 483.12 L337.85 482.85 L338.45 482.56 L339.05 482.36 L339.64 482.15 L340.24 481.89 L340.83 481.75 L341.43 481.54 L342.02 481.29 L342.62 480.99 L343.22 480.76 L343.81 480.41 L344.41 479.91 L345.00 479.62 L345.60 479.12 L346.20 478.56 L346.79 478.19 L347.39 477.70 L347.98 477.39 L348.58 477.00 L349.18 476.50 L349.77 476.16 L350.37 475.74 L350.96 475.29 L351.56 474.91 L352.16 474.50 L352.75 473.94 L353.35 473.41 L353.94 472.87 L354.54 472.52 L355.13 472.02 L355.73 471.53 L356.33 470.91 L356.92 470.22 L357.52 469.83 L358.11 469.17 L358.71 468.76 L359.31 468.07 L359.90 467.61 L360.50 467.01 L361.09 466.70 L361.69 466.34 L362.29 465.86 L362.88 465.56 L363.48 465.07 L364.07 464.62 L364.67 464.15 L365.27 463.79 L365.86 463.49 L366.46 463.08 L367.05 462.62 L367.65 462.31 L368.25 461.60 L368.84 460.88 L369.44 460.58 L370.03 460.00 L370.63 459.71 L371.22 459.39 L371.82 458.94 L372.42 458.66 L373.01 458.18 L373.61 457.77 L374.20 457.46 L374.80 457.44" stroke="#ff9c1e" stroke-width="1.05" fill="none" stroke-linejoin="round"/></svg>
</body></html>
